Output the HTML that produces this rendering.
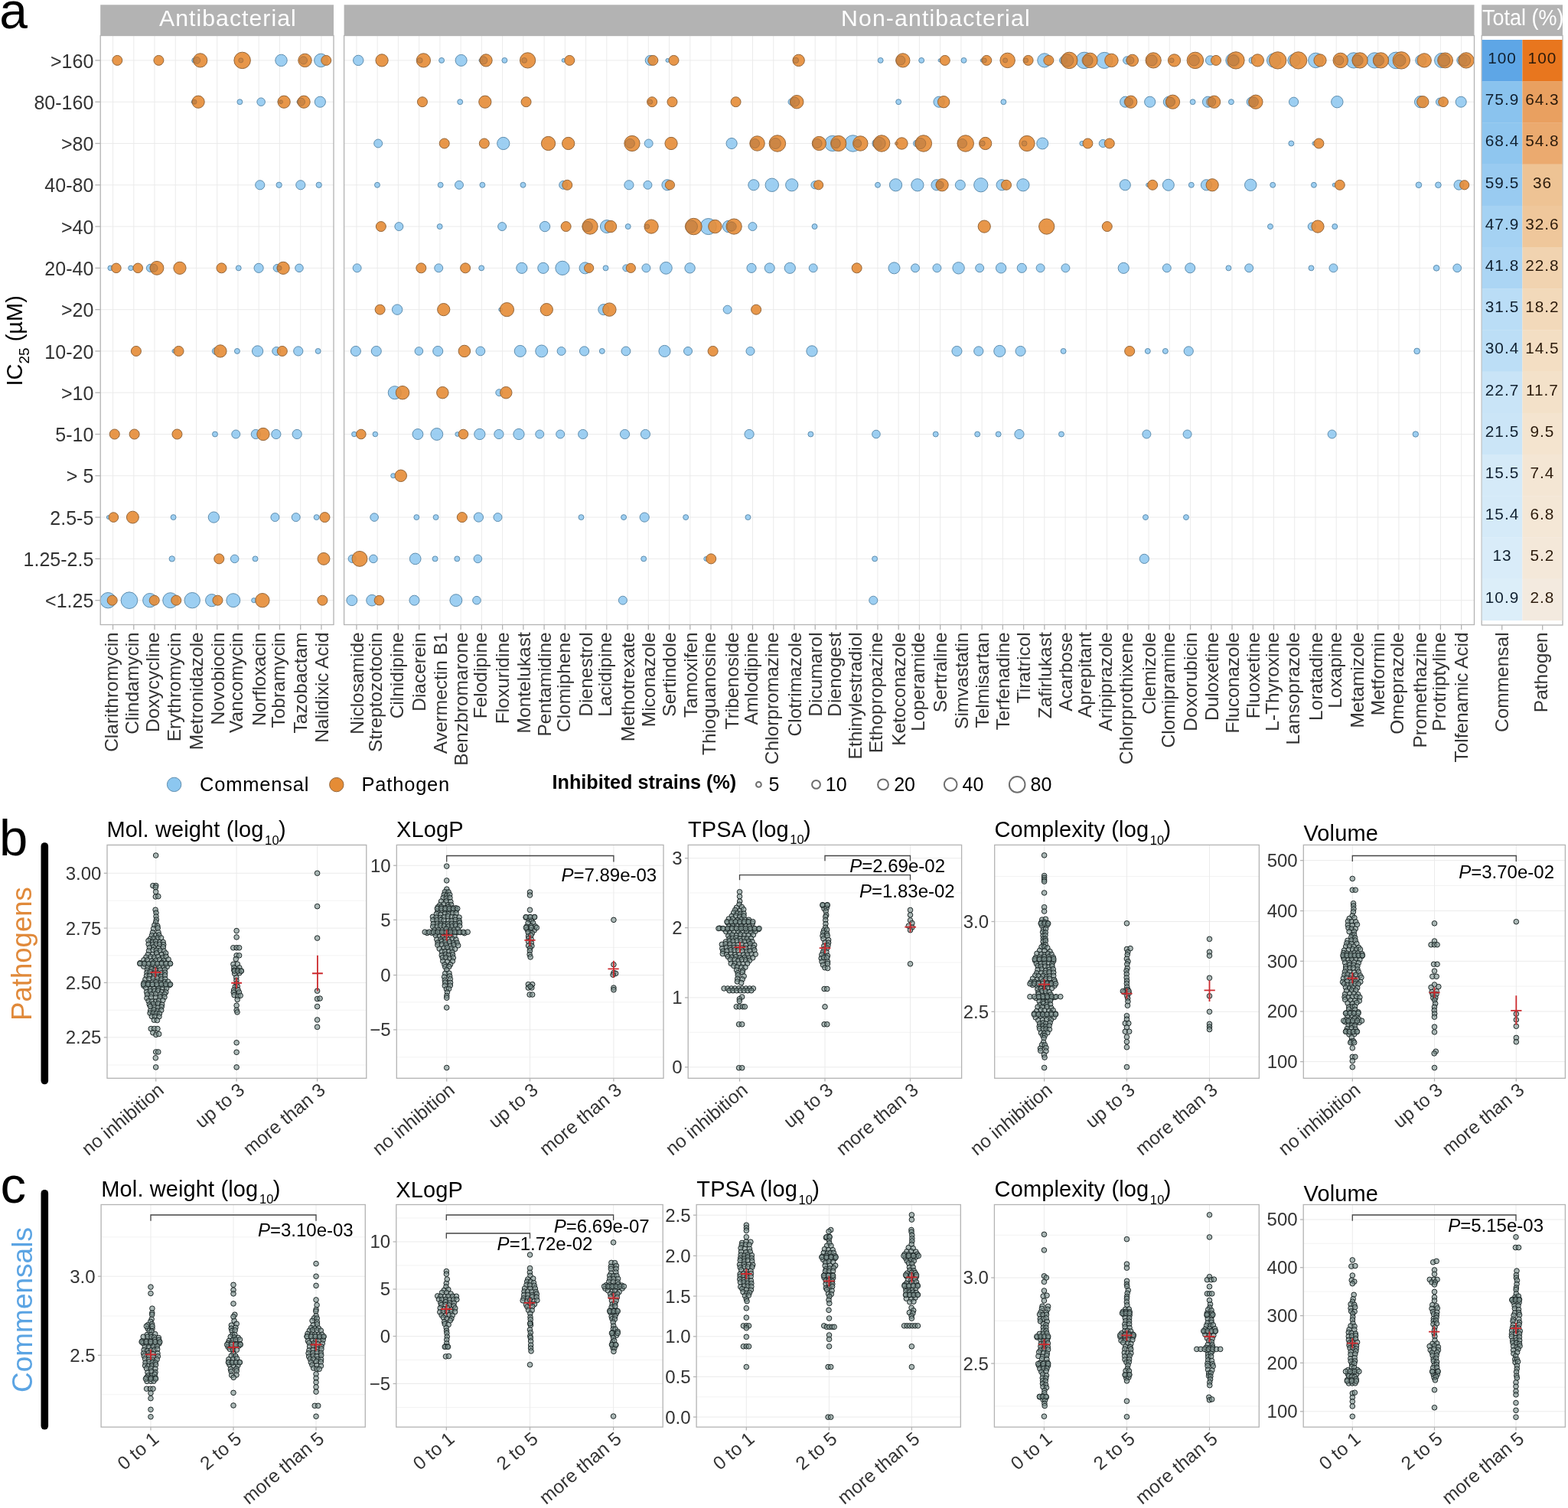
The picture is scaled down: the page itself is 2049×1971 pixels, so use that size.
<!DOCTYPE html>
<html><head><meta charset="utf-8"><title>Figure</title>
<style>html,body{margin:0;padding:0;background:#fff;}svg{display:block;}text{font-family:'Liberation Sans', Arial, Helvetica, sans-serif;}</style>
</head><body>
<svg xmlns="http://www.w3.org/2000/svg" width="2049" height="1971" viewBox="0 0 2049 1971">
<rect width="2049" height="1971" fill="#fff"/>
<rect x="131.2" y="46.5" width="304.8" height="770" fill="#fff"/>
<line x1="131.2" y1="78.9" x2="436" y2="78.9" stroke="#EAEAEA" stroke-width="0.95"/>
<line x1="131.2" y1="133.19" x2="436" y2="133.19" stroke="#EAEAEA" stroke-width="0.95"/>
<line x1="131.2" y1="187.48" x2="436" y2="187.48" stroke="#EAEAEA" stroke-width="0.95"/>
<line x1="131.2" y1="241.77" x2="436" y2="241.77" stroke="#EAEAEA" stroke-width="0.95"/>
<line x1="131.2" y1="296.06" x2="436" y2="296.06" stroke="#EAEAEA" stroke-width="0.95"/>
<line x1="131.2" y1="350.35" x2="436" y2="350.35" stroke="#EAEAEA" stroke-width="0.95"/>
<line x1="131.2" y1="404.64" x2="436" y2="404.64" stroke="#EAEAEA" stroke-width="0.95"/>
<line x1="131.2" y1="458.93" x2="436" y2="458.93" stroke="#EAEAEA" stroke-width="0.95"/>
<line x1="131.2" y1="513.22" x2="436" y2="513.22" stroke="#EAEAEA" stroke-width="0.95"/>
<line x1="131.2" y1="567.51" x2="436" y2="567.51" stroke="#EAEAEA" stroke-width="0.95"/>
<line x1="131.2" y1="621.8" x2="436" y2="621.8" stroke="#EAEAEA" stroke-width="0.95"/>
<line x1="131.2" y1="676.09" x2="436" y2="676.09" stroke="#EAEAEA" stroke-width="0.95"/>
<line x1="131.2" y1="730.38" x2="436" y2="730.38" stroke="#EAEAEA" stroke-width="0.95"/>
<line x1="131.2" y1="784.67" x2="436" y2="784.67" stroke="#EAEAEA" stroke-width="0.95"/>
<line x1="147.54" y1="46.5" x2="147.54" y2="816.5" stroke="#EAEAEA" stroke-width="0.95"/>
<line x1="174.78" y1="46.5" x2="174.78" y2="816.5" stroke="#EAEAEA" stroke-width="0.95"/>
<line x1="202.02" y1="46.5" x2="202.02" y2="816.5" stroke="#EAEAEA" stroke-width="0.95"/>
<line x1="229.26" y1="46.5" x2="229.26" y2="816.5" stroke="#EAEAEA" stroke-width="0.95"/>
<line x1="256.5" y1="46.5" x2="256.5" y2="816.5" stroke="#EAEAEA" stroke-width="0.95"/>
<line x1="283.74" y1="46.5" x2="283.74" y2="816.5" stroke="#EAEAEA" stroke-width="0.95"/>
<line x1="310.98" y1="46.5" x2="310.98" y2="816.5" stroke="#EAEAEA" stroke-width="0.95"/>
<line x1="338.22" y1="46.5" x2="338.22" y2="816.5" stroke="#EAEAEA" stroke-width="0.95"/>
<line x1="365.46" y1="46.5" x2="365.46" y2="816.5" stroke="#EAEAEA" stroke-width="0.95"/>
<line x1="392.7" y1="46.5" x2="392.7" y2="816.5" stroke="#EAEAEA" stroke-width="0.95"/>
<line x1="419.94" y1="46.5" x2="419.94" y2="816.5" stroke="#EAEAEA" stroke-width="0.95"/>
<rect x="449.6" y="46.5" width="1476.9" height="770" fill="#fff"/>
<line x1="449.6" y1="78.9" x2="1926.5" y2="78.9" stroke="#EAEAEA" stroke-width="0.95"/>
<line x1="449.6" y1="133.19" x2="1926.5" y2="133.19" stroke="#EAEAEA" stroke-width="0.95"/>
<line x1="449.6" y1="187.48" x2="1926.5" y2="187.48" stroke="#EAEAEA" stroke-width="0.95"/>
<line x1="449.6" y1="241.77" x2="1926.5" y2="241.77" stroke="#EAEAEA" stroke-width="0.95"/>
<line x1="449.6" y1="296.06" x2="1926.5" y2="296.06" stroke="#EAEAEA" stroke-width="0.95"/>
<line x1="449.6" y1="350.35" x2="1926.5" y2="350.35" stroke="#EAEAEA" stroke-width="0.95"/>
<line x1="449.6" y1="404.64" x2="1926.5" y2="404.64" stroke="#EAEAEA" stroke-width="0.95"/>
<line x1="449.6" y1="458.93" x2="1926.5" y2="458.93" stroke="#EAEAEA" stroke-width="0.95"/>
<line x1="449.6" y1="513.22" x2="1926.5" y2="513.22" stroke="#EAEAEA" stroke-width="0.95"/>
<line x1="449.6" y1="567.51" x2="1926.5" y2="567.51" stroke="#EAEAEA" stroke-width="0.95"/>
<line x1="449.6" y1="621.8" x2="1926.5" y2="621.8" stroke="#EAEAEA" stroke-width="0.95"/>
<line x1="449.6" y1="676.09" x2="1926.5" y2="676.09" stroke="#EAEAEA" stroke-width="0.95"/>
<line x1="449.6" y1="730.38" x2="1926.5" y2="730.38" stroke="#EAEAEA" stroke-width="0.95"/>
<line x1="449.6" y1="784.67" x2="1926.5" y2="784.67" stroke="#EAEAEA" stroke-width="0.95"/>
<line x1="465.94" y1="46.5" x2="465.94" y2="816.5" stroke="#EAEAEA" stroke-width="0.95"/>
<line x1="493.18" y1="46.5" x2="493.18" y2="816.5" stroke="#EAEAEA" stroke-width="0.95"/>
<line x1="520.42" y1="46.5" x2="520.42" y2="816.5" stroke="#EAEAEA" stroke-width="0.95"/>
<line x1="547.66" y1="46.5" x2="547.66" y2="816.5" stroke="#EAEAEA" stroke-width="0.95"/>
<line x1="574.9" y1="46.5" x2="574.9" y2="816.5" stroke="#EAEAEA" stroke-width="0.95"/>
<line x1="602.14" y1="46.5" x2="602.14" y2="816.5" stroke="#EAEAEA" stroke-width="0.95"/>
<line x1="629.38" y1="46.5" x2="629.38" y2="816.5" stroke="#EAEAEA" stroke-width="0.95"/>
<line x1="656.62" y1="46.5" x2="656.62" y2="816.5" stroke="#EAEAEA" stroke-width="0.95"/>
<line x1="683.86" y1="46.5" x2="683.86" y2="816.5" stroke="#EAEAEA" stroke-width="0.95"/>
<line x1="711.1" y1="46.5" x2="711.1" y2="816.5" stroke="#EAEAEA" stroke-width="0.95"/>
<line x1="738.34" y1="46.5" x2="738.34" y2="816.5" stroke="#EAEAEA" stroke-width="0.95"/>
<line x1="765.58" y1="46.5" x2="765.58" y2="816.5" stroke="#EAEAEA" stroke-width="0.95"/>
<line x1="792.82" y1="46.5" x2="792.82" y2="816.5" stroke="#EAEAEA" stroke-width="0.95"/>
<line x1="820.06" y1="46.5" x2="820.06" y2="816.5" stroke="#EAEAEA" stroke-width="0.95"/>
<line x1="847.3" y1="46.5" x2="847.3" y2="816.5" stroke="#EAEAEA" stroke-width="0.95"/>
<line x1="874.54" y1="46.5" x2="874.54" y2="816.5" stroke="#EAEAEA" stroke-width="0.95"/>
<line x1="901.78" y1="46.5" x2="901.78" y2="816.5" stroke="#EAEAEA" stroke-width="0.95"/>
<line x1="929.02" y1="46.5" x2="929.02" y2="816.5" stroke="#EAEAEA" stroke-width="0.95"/>
<line x1="956.26" y1="46.5" x2="956.26" y2="816.5" stroke="#EAEAEA" stroke-width="0.95"/>
<line x1="983.5" y1="46.5" x2="983.5" y2="816.5" stroke="#EAEAEA" stroke-width="0.95"/>
<line x1="1010.74" y1="46.5" x2="1010.74" y2="816.5" stroke="#EAEAEA" stroke-width="0.95"/>
<line x1="1037.98" y1="46.5" x2="1037.98" y2="816.5" stroke="#EAEAEA" stroke-width="0.95"/>
<line x1="1065.22" y1="46.5" x2="1065.22" y2="816.5" stroke="#EAEAEA" stroke-width="0.95"/>
<line x1="1092.46" y1="46.5" x2="1092.46" y2="816.5" stroke="#EAEAEA" stroke-width="0.95"/>
<line x1="1119.7" y1="46.5" x2="1119.7" y2="816.5" stroke="#EAEAEA" stroke-width="0.95"/>
<line x1="1146.94" y1="46.5" x2="1146.94" y2="816.5" stroke="#EAEAEA" stroke-width="0.95"/>
<line x1="1174.18" y1="46.5" x2="1174.18" y2="816.5" stroke="#EAEAEA" stroke-width="0.95"/>
<line x1="1201.42" y1="46.5" x2="1201.42" y2="816.5" stroke="#EAEAEA" stroke-width="0.95"/>
<line x1="1228.66" y1="46.5" x2="1228.66" y2="816.5" stroke="#EAEAEA" stroke-width="0.95"/>
<line x1="1255.9" y1="46.5" x2="1255.9" y2="816.5" stroke="#EAEAEA" stroke-width="0.95"/>
<line x1="1283.14" y1="46.5" x2="1283.14" y2="816.5" stroke="#EAEAEA" stroke-width="0.95"/>
<line x1="1310.38" y1="46.5" x2="1310.38" y2="816.5" stroke="#EAEAEA" stroke-width="0.95"/>
<line x1="1337.62" y1="46.5" x2="1337.62" y2="816.5" stroke="#EAEAEA" stroke-width="0.95"/>
<line x1="1364.86" y1="46.5" x2="1364.86" y2="816.5" stroke="#EAEAEA" stroke-width="0.95"/>
<line x1="1392.1" y1="46.5" x2="1392.1" y2="816.5" stroke="#EAEAEA" stroke-width="0.95"/>
<line x1="1419.34" y1="46.5" x2="1419.34" y2="816.5" stroke="#EAEAEA" stroke-width="0.95"/>
<line x1="1446.58" y1="46.5" x2="1446.58" y2="816.5" stroke="#EAEAEA" stroke-width="0.95"/>
<line x1="1473.82" y1="46.5" x2="1473.82" y2="816.5" stroke="#EAEAEA" stroke-width="0.95"/>
<line x1="1501.06" y1="46.5" x2="1501.06" y2="816.5" stroke="#EAEAEA" stroke-width="0.95"/>
<line x1="1528.3" y1="46.5" x2="1528.3" y2="816.5" stroke="#EAEAEA" stroke-width="0.95"/>
<line x1="1555.54" y1="46.5" x2="1555.54" y2="816.5" stroke="#EAEAEA" stroke-width="0.95"/>
<line x1="1582.78" y1="46.5" x2="1582.78" y2="816.5" stroke="#EAEAEA" stroke-width="0.95"/>
<line x1="1610.02" y1="46.5" x2="1610.02" y2="816.5" stroke="#EAEAEA" stroke-width="0.95"/>
<line x1="1637.26" y1="46.5" x2="1637.26" y2="816.5" stroke="#EAEAEA" stroke-width="0.95"/>
<line x1="1664.5" y1="46.5" x2="1664.5" y2="816.5" stroke="#EAEAEA" stroke-width="0.95"/>
<line x1="1691.74" y1="46.5" x2="1691.74" y2="816.5" stroke="#EAEAEA" stroke-width="0.95"/>
<line x1="1718.98" y1="46.5" x2="1718.98" y2="816.5" stroke="#EAEAEA" stroke-width="0.95"/>
<line x1="1746.22" y1="46.5" x2="1746.22" y2="816.5" stroke="#EAEAEA" stroke-width="0.95"/>
<line x1="1773.46" y1="46.5" x2="1773.46" y2="816.5" stroke="#EAEAEA" stroke-width="0.95"/>
<line x1="1800.7" y1="46.5" x2="1800.7" y2="816.5" stroke="#EAEAEA" stroke-width="0.95"/>
<line x1="1827.94" y1="46.5" x2="1827.94" y2="816.5" stroke="#EAEAEA" stroke-width="0.95"/>
<line x1="1855.18" y1="46.5" x2="1855.18" y2="816.5" stroke="#EAEAEA" stroke-width="0.95"/>
<line x1="1882.42" y1="46.5" x2="1882.42" y2="816.5" stroke="#EAEAEA" stroke-width="0.95"/>
<line x1="1909.66" y1="46.5" x2="1909.66" y2="816.5" stroke="#EAEAEA" stroke-width="0.95"/>
<g stroke-width="1">
<circle cx="1824.28" cy="78.9" r="10.82" fill="#8CC7F0" fill-opacity="0.85" stroke="#5E8DAE"/>
<circle cx="168.92" cy="784.67" r="10.8" fill="#8CC7F0" fill-opacity="0.85" stroke="#5E8DAE"/>
<circle cx="1114.58" cy="187.48" r="10.74" fill="#8CC7F0" fill-opacity="0.85" stroke="#5E8DAE"/>
<circle cx="1416.97" cy="78.9" r="10.74" fill="#8CC7F0" fill-opacity="0.85" stroke="#5E8DAE"/>
<circle cx="925.69" cy="296.06" r="10.54" fill="#8CC7F0" fill-opacity="0.85" stroke="#5E8DAE"/>
<circle cx="1443.31" cy="78.9" r="10.54" fill="#8CC7F0" fill-opacity="0.85" stroke="#5E8DAE"/>
<circle cx="141.21" cy="784.67" r="10.19" fill="#8CC7F0" fill-opacity="0.85" stroke="#5E8DAE"/>
<circle cx="251.23" cy="784.67" r="10.19" fill="#8CC7F0" fill-opacity="0.85" stroke="#5E8DAE"/>
<circle cx="1087.83" cy="187.48" r="10.13" fill="#8CC7F0" fill-opacity="0.85" stroke="#5E8DAE"/>
<circle cx="1769.01" cy="78.9" r="10.13" fill="#8CC7F0" fill-opacity="0.85" stroke="#5E8DAE"/>
<circle cx="1796.37" cy="78.9" r="10.13" fill="#8CC7F0" fill-opacity="0.85" stroke="#5E8DAE"/>
<circle cx="222.71" cy="784.67" r="9.98" fill="#8CC7F0" fill-opacity="0.85" stroke="#5E8DAE"/>
<circle cx="1719.35" cy="78.9" r="9.73" fill="#8CC7F0" fill-opacity="0.85" stroke="#5E8DAE"/>
<circle cx="1884.11" cy="78.9" r="9.55" fill="#8CC7F0" fill-opacity="0.85" stroke="#5E8DAE"/>
<circle cx="195.81" cy="784.67" r="9.17" fill="#8CC7F0" fill-opacity="0.85" stroke="#5E8DAE"/>
<circle cx="734.97" cy="350.35" r="9.12" fill="#8CC7F0" fill-opacity="0.85" stroke="#5E8DAE"/>
<circle cx="1364.88" cy="78.9" r="9.12" fill="#8CC7F0" fill-opacity="0.85" stroke="#5E8DAE"/>
<circle cx="1281.78" cy="241.77" r="9.12" fill="#8CC7F0" fill-opacity="0.85" stroke="#5E8DAE"/>
<circle cx="1610.92" cy="78.9" r="9.12" fill="#8CC7F0" fill-opacity="0.85" stroke="#5E8DAE"/>
<circle cx="1664.63" cy="78.9" r="9.12" fill="#8CC7F0" fill-opacity="0.85" stroke="#5E8DAE"/>
<circle cx="304.82" cy="784.67" r="8.96" fill="#8CC7F0" fill-opacity="0.85" stroke="#5E8DAE"/>
<circle cx="1008.78" cy="241.77" r="8.72" fill="#8CC7F0" fill-opacity="0.85" stroke="#5E8DAE"/>
<circle cx="419.36" cy="78.9" r="8.71" fill="#8CC7F0" fill-opacity="0.85" stroke="#5E8DAE"/>
<circle cx="515.82" cy="513.22" r="8.56" fill="#8CC7F0" fill-opacity="0.85" stroke="#5E8DAE"/>
<circle cx="792.94" cy="296.06" r="8.51" fill="#8CC7F0" fill-opacity="0.85" stroke="#5E8DAE"/>
<circle cx="276.7" cy="784.67" r="8.15" fill="#8CC7F0" fill-opacity="0.85" stroke="#5E8DAE"/>
<circle cx="657.76" cy="187.48" r="8.11" fill="#8CC7F0" fill-opacity="0.85" stroke="#5E8DAE"/>
<circle cx="1034.72" cy="241.77" r="8.11" fill="#8CC7F0" fill-opacity="0.85" stroke="#5E8DAE"/>
<circle cx="1170.52" cy="241.77" r="8.11" fill="#8CC7F0" fill-opacity="0.85" stroke="#5E8DAE"/>
<circle cx="1198.89" cy="241.77" r="8.11" fill="#8CC7F0" fill-opacity="0.85" stroke="#5E8DAE"/>
<circle cx="1336.91" cy="241.77" r="8.11" fill="#8CC7F0" fill-opacity="0.85" stroke="#5E8DAE"/>
<circle cx="1690.98" cy="78.9" r="8.11" fill="#8CC7F0" fill-opacity="0.85" stroke="#5E8DAE"/>
<circle cx="707.71" cy="458.93" r="7.94" fill="#8CC7F0" fill-opacity="0.85" stroke="#5E8DAE"/>
<circle cx="570.82" cy="567.51" r="7.94" fill="#8CC7F0" fill-opacity="0.85" stroke="#5E8DAE"/>
<circle cx="595.87" cy="784.67" r="7.94" fill="#8CC7F0" fill-opacity="0.85" stroke="#5E8DAE"/>
<circle cx="870.36" cy="350.35" r="7.9" fill="#8CC7F0" fill-opacity="0.85" stroke="#5E8DAE"/>
<circle cx="952.04" cy="296.06" r="7.7" fill="#8CC7F0" fill-opacity="0.85" stroke="#5E8DAE"/>
<circle cx="1252.6" cy="350.35" r="7.7" fill="#8CC7F0" fill-opacity="0.85" stroke="#5E8DAE"/>
<circle cx="1747.32" cy="133.19" r="7.7" fill="#8CC7F0" fill-opacity="0.85" stroke="#5E8DAE"/>
<circle cx="1634.23" cy="241.77" r="7.7" fill="#8CC7F0" fill-opacity="0.85" stroke="#5E8DAE"/>
<circle cx="367.49" cy="78.9" r="7.7" fill="#8CC7F0" fill-opacity="0.85" stroke="#5E8DAE"/>
<circle cx="1856.1" cy="133.19" r="7.64" fill="#8CC7F0" fill-opacity="0.85" stroke="#5E8DAE"/>
<circle cx="679.8" cy="458.93" r="7.54" fill="#8CC7F0" fill-opacity="0.85" stroke="#5E8DAE"/>
<circle cx="868.47" cy="458.93" r="7.54" fill="#8CC7F0" fill-opacity="0.85" stroke="#5E8DAE"/>
<circle cx="1306.3" cy="458.93" r="7.54" fill="#8CC7F0" fill-opacity="0.85" stroke="#5E8DAE"/>
<circle cx="602.63" cy="78.9" r="7.5" fill="#8CC7F0" fill-opacity="0.85" stroke="#5E8DAE"/>
<circle cx="764.56" cy="350.35" r="7.5" fill="#8CC7F0" fill-opacity="0.85" stroke="#5E8DAE"/>
<circle cx="1168.49" cy="350.35" r="7.5" fill="#8CC7F0" fill-opacity="0.85" stroke="#5E8DAE"/>
<circle cx="1362.24" cy="187.48" r="7.5" fill="#8CC7F0" fill-opacity="0.85" stroke="#5E8DAE"/>
<circle cx="1526.82" cy="241.77" r="7.5" fill="#8CC7F0" fill-opacity="0.85" stroke="#5E8DAE"/>
<circle cx="542.71" cy="730.38" r="7.33" fill="#8CC7F0" fill-opacity="0.85" stroke="#5E8DAE"/>
<circle cx="486.07" cy="784.67" r="7.33" fill="#8CC7F0" fill-opacity="0.85" stroke="#5E8DAE"/>
<circle cx="336.6" cy="458.93" r="7.13" fill="#8CC7F0" fill-opacity="0.85" stroke="#5E8DAE"/>
<circle cx="279.35" cy="676.09" r="7.13" fill="#8CC7F0" fill-opacity="0.85" stroke="#5E8DAE"/>
<circle cx="626.84" cy="567.51" r="7.13" fill="#8CC7F0" fill-opacity="0.85" stroke="#5E8DAE"/>
<circle cx="677.97" cy="567.51" r="7.13" fill="#8CC7F0" fill-opacity="0.85" stroke="#5E8DAE"/>
<circle cx="1061" cy="458.93" r="7.13" fill="#8CC7F0" fill-opacity="0.85" stroke="#5E8DAE"/>
<circle cx="681.87" cy="350.35" r="7.09" fill="#8CC7F0" fill-opacity="0.85" stroke="#5E8DAE"/>
<circle cx="709.84" cy="350.35" r="7.09" fill="#8CC7F0" fill-opacity="0.85" stroke="#5E8DAE"/>
<circle cx="956.09" cy="187.48" r="7.09" fill="#8CC7F0" fill-opacity="0.85" stroke="#5E8DAE"/>
<circle cx="871.98" cy="241.77" r="7.09" fill="#8CC7F0" fill-opacity="0.85" stroke="#5E8DAE"/>
<circle cx="984.87" cy="241.77" r="7.09" fill="#8CC7F0" fill-opacity="0.85" stroke="#5E8DAE"/>
<circle cx="788.88" cy="404.64" r="7.09" fill="#8CC7F0" fill-opacity="0.85" stroke="#5E8DAE"/>
<circle cx="1227.06" cy="133.19" r="7.09" fill="#8CC7F0" fill-opacity="0.85" stroke="#5E8DAE"/>
<circle cx="1224.02" cy="241.77" r="7.09" fill="#8CC7F0" fill-opacity="0.85" stroke="#5E8DAE"/>
<circle cx="1032.29" cy="350.35" r="7.09" fill="#8CC7F0" fill-opacity="0.85" stroke="#5E8DAE"/>
<circle cx="1470.68" cy="133.19" r="7.09" fill="#8CC7F0" fill-opacity="0.85" stroke="#5E8DAE"/>
<circle cx="1502.7" cy="133.19" r="7.09" fill="#8CC7F0" fill-opacity="0.85" stroke="#5E8DAE"/>
<circle cx="1527.42" cy="133.19" r="7.09" fill="#8CC7F0" fill-opacity="0.85" stroke="#5E8DAE"/>
<circle cx="1309.14" cy="241.77" r="7.09" fill="#8CC7F0" fill-opacity="0.85" stroke="#5E8DAE"/>
<circle cx="1470.27" cy="241.77" r="7.09" fill="#8CC7F0" fill-opacity="0.85" stroke="#5E8DAE"/>
<circle cx="1468.24" cy="350.35" r="7.09" fill="#8CC7F0" fill-opacity="0.85" stroke="#5E8DAE"/>
<circle cx="1578.49" cy="133.19" r="7.09" fill="#8CC7F0" fill-opacity="0.85" stroke="#5E8DAE"/>
<circle cx="1576.47" cy="241.77" r="7.09" fill="#8CC7F0" fill-opacity="0.85" stroke="#5E8DAE"/>
<circle cx="418.35" cy="133.19" r="7.09" fill="#8CC7F0" fill-opacity="0.85" stroke="#5E8DAE"/>
<circle cx="1856.74" cy="78.9" r="7" fill="#8CC7F0" fill-opacity="0.85" stroke="#5E8DAE"/>
<circle cx="1909.19" cy="133.19" r="7" fill="#8CC7F0" fill-opacity="0.85" stroke="#5E8DAE"/>
<circle cx="545.96" cy="567.51" r="6.93" fill="#8CC7F0" fill-opacity="0.85" stroke="#5E8DAE"/>
<circle cx="459.8" cy="784.67" r="6.93" fill="#8CC7F0" fill-opacity="0.85" stroke="#5E8DAE"/>
<circle cx="468.25" cy="78.9" r="6.69" fill="#8CC7F0" fill-opacity="0.85" stroke="#5E8DAE"/>
<circle cx="712.07" cy="296.06" r="6.69" fill="#8CC7F0" fill-opacity="0.85" stroke="#5E8DAE"/>
<circle cx="519.13" cy="404.64" r="6.69" fill="#8CC7F0" fill-opacity="0.85" stroke="#5E8DAE"/>
<circle cx="901.57" cy="350.35" r="6.69" fill="#8CC7F0" fill-opacity="0.85" stroke="#5E8DAE"/>
<circle cx="1308.13" cy="350.35" r="6.69" fill="#8CC7F0" fill-opacity="0.85" stroke="#5E8DAE"/>
<circle cx="464.89" cy="458.93" r="6.52" fill="#8CC7F0" fill-opacity="0.85" stroke="#5E8DAE"/>
<circle cx="491.78" cy="458.93" r="6.52" fill="#8CC7F0" fill-opacity="0.85" stroke="#5E8DAE"/>
<circle cx="572.24" cy="458.93" r="6.52" fill="#8CC7F0" fill-opacity="0.85" stroke="#5E8DAE"/>
<circle cx="541.48" cy="784.67" r="6.52" fill="#8CC7F0" fill-opacity="0.85" stroke="#5E8DAE"/>
<circle cx="1250.45" cy="458.93" r="6.52" fill="#8CC7F0" fill-opacity="0.85" stroke="#5E8DAE"/>
<circle cx="1333.59" cy="458.93" r="6.52" fill="#8CC7F0" fill-opacity="0.85" stroke="#5E8DAE"/>
<circle cx="849.69" cy="78.9" r="6.49" fill="#8CC7F0" fill-opacity="0.85" stroke="#5E8DAE"/>
<circle cx="1254.83" cy="241.77" r="6.49" fill="#8CC7F0" fill-opacity="0.85" stroke="#5E8DAE"/>
<circle cx="1005.74" cy="350.35" r="6.49" fill="#8CC7F0" fill-opacity="0.85" stroke="#5E8DAE"/>
<circle cx="1555.19" cy="350.35" r="6.49" fill="#8CC7F0" fill-opacity="0.85" stroke="#5E8DAE"/>
<circle cx="1910.2" cy="78.9" r="6.36" fill="#8CC7F0" fill-opacity="0.85" stroke="#5E8DAE"/>
<circle cx="1906.38" cy="241.77" r="6.36" fill="#8CC7F0" fill-opacity="0.85" stroke="#5E8DAE"/>
<circle cx="389.78" cy="458.93" r="6.11" fill="#8CC7F0" fill-opacity="0.85" stroke="#5E8DAE"/>
<circle cx="334.36" cy="567.51" r="6.11" fill="#8CC7F0" fill-opacity="0.85" stroke="#5E8DAE"/>
<circle cx="360.85" cy="567.51" r="6.11" fill="#8CC7F0" fill-opacity="0.85" stroke="#5E8DAE"/>
<circle cx="388.15" cy="567.51" r="6.11" fill="#8CC7F0" fill-opacity="0.85" stroke="#5E8DAE"/>
<circle cx="651.89" cy="567.51" r="6.11" fill="#8CC7F0" fill-opacity="0.85" stroke="#5E8DAE"/>
<circle cx="625.41" cy="676.09" r="6.11" fill="#8CC7F0" fill-opacity="0.85" stroke="#5E8DAE"/>
<circle cx="763.56" cy="458.93" r="6.11" fill="#8CC7F0" fill-opacity="0.85" stroke="#5E8DAE"/>
<circle cx="761.72" cy="567.51" r="6.11" fill="#8CC7F0" fill-opacity="0.85" stroke="#5E8DAE"/>
<circle cx="816.52" cy="567.51" r="6.11" fill="#8CC7F0" fill-opacity="0.85" stroke="#5E8DAE"/>
<circle cx="843.41" cy="567.51" r="6.11" fill="#8CC7F0" fill-opacity="0.85" stroke="#5E8DAE"/>
<circle cx="979.08" cy="567.51" r="6.11" fill="#8CC7F0" fill-opacity="0.85" stroke="#5E8DAE"/>
<circle cx="842.19" cy="676.09" r="6.11" fill="#8CC7F0" fill-opacity="0.85" stroke="#5E8DAE"/>
<circle cx="1278.8" cy="458.93" r="6.11" fill="#8CC7F0" fill-opacity="0.85" stroke="#5E8DAE"/>
<circle cx="1331.96" cy="567.51" r="6.11" fill="#8CC7F0" fill-opacity="0.85" stroke="#5E8DAE"/>
<circle cx="1495.34" cy="730.38" r="6.11" fill="#8CC7F0" fill-opacity="0.85" stroke="#5E8DAE"/>
<circle cx="1553.22" cy="458.93" r="6.11" fill="#8CC7F0" fill-opacity="0.85" stroke="#5E8DAE"/>
<circle cx="821.92" cy="241.77" r="6.08" fill="#8CC7F0" fill-opacity="0.85" stroke="#5E8DAE"/>
<circle cx="982.03" cy="350.35" r="6.08" fill="#8CC7F0" fill-opacity="0.85" stroke="#5E8DAE"/>
<circle cx="1145.99" cy="187.48" r="6.08" fill="#8CC7F0" fill-opacity="0.85" stroke="#5E8DAE"/>
<circle cx="1335.29" cy="350.35" r="6.08" fill="#8CC7F0" fill-opacity="0.85" stroke="#5E8DAE"/>
<circle cx="1581.54" cy="78.9" r="6.08" fill="#8CC7F0" fill-opacity="0.85" stroke="#5E8DAE"/>
<circle cx="1635.24" cy="133.19" r="6.08" fill="#8CC7F0" fill-opacity="0.85" stroke="#5E8DAE"/>
<circle cx="1690.57" cy="133.19" r="6.08" fill="#8CC7F0" fill-opacity="0.85" stroke="#5E8DAE"/>
<circle cx="339.73" cy="241.77" r="6.08" fill="#8CC7F0" fill-opacity="0.85" stroke="#5E8DAE"/>
<circle cx="392.82" cy="241.77" r="6.08" fill="#8CC7F0" fill-opacity="0.85" stroke="#5E8DAE"/>
<circle cx="338.11" cy="350.35" r="6.08" fill="#8CC7F0" fill-opacity="0.85" stroke="#5E8DAE"/>
<circle cx="627.86" cy="458.93" r="5.91" fill="#8CC7F0" fill-opacity="0.85" stroke="#5E8DAE"/>
<circle cx="817.95" cy="458.93" r="5.91" fill="#8CC7F0" fill-opacity="0.85" stroke="#5E8DAE"/>
<circle cx="361.26" cy="458.93" r="5.5" fill="#8CC7F0" fill-opacity="0.85" stroke="#5E8DAE"/>
<circle cx="308.28" cy="567.51" r="5.5" fill="#8CC7F0" fill-opacity="0.85" stroke="#5E8DAE"/>
<circle cx="359.42" cy="676.09" r="5.5" fill="#8CC7F0" fill-opacity="0.85" stroke="#5E8DAE"/>
<circle cx="386.72" cy="676.09" r="5.5" fill="#8CC7F0" fill-opacity="0.85" stroke="#5E8DAE"/>
<circle cx="705.26" cy="567.51" r="5.5" fill="#8CC7F0" fill-opacity="0.85" stroke="#5E8DAE"/>
<circle cx="650.47" cy="676.09" r="5.5" fill="#8CC7F0" fill-opacity="0.85" stroke="#5E8DAE"/>
<circle cx="733.61" cy="458.93" r="5.5" fill="#8CC7F0" fill-opacity="0.85" stroke="#5E8DAE"/>
<circle cx="899.02" cy="458.93" r="5.5" fill="#8CC7F0" fill-opacity="0.85" stroke="#5E8DAE"/>
<circle cx="980.5" cy="458.93" r="5.5" fill="#8CC7F0" fill-opacity="0.85" stroke="#5E8DAE"/>
<circle cx="732.19" cy="567.51" r="5.5" fill="#8CC7F0" fill-opacity="0.85" stroke="#5E8DAE"/>
<circle cx="813.87" cy="784.67" r="5.5" fill="#8CC7F0" fill-opacity="0.85" stroke="#5E8DAE"/>
<circle cx="1141.26" cy="784.67" r="5.5" fill="#8CC7F0" fill-opacity="0.85" stroke="#5E8DAE"/>
<circle cx="1498.39" cy="567.51" r="5.5" fill="#8CC7F0" fill-opacity="0.85" stroke="#5E8DAE"/>
<circle cx="1551.59" cy="567.51" r="5.5" fill="#8CC7F0" fill-opacity="0.85" stroke="#5E8DAE"/>
<circle cx="1740.63" cy="567.51" r="5.5" fill="#8CC7F0" fill-opacity="0.85" stroke="#5E8DAE"/>
<circle cx="494.2" cy="187.48" r="5.47" fill="#8CC7F0" fill-opacity="0.85" stroke="#5E8DAE"/>
<circle cx="599.99" cy="241.77" r="5.47" fill="#8CC7F0" fill-opacity="0.85" stroke="#5E8DAE"/>
<circle cx="521.36" cy="296.06" r="5.47" fill="#8CC7F0" fill-opacity="0.85" stroke="#5E8DAE"/>
<circle cx="656.13" cy="296.06" r="5.47" fill="#8CC7F0" fill-opacity="0.85" stroke="#5E8DAE"/>
<circle cx="466.63" cy="350.35" r="5.47" fill="#8CC7F0" fill-opacity="0.85" stroke="#5E8DAE"/>
<circle cx="573.24" cy="350.35" r="5.47" fill="#8CC7F0" fill-opacity="0.85" stroke="#5E8DAE"/>
<circle cx="847.66" cy="187.48" r="5.47" fill="#8CC7F0" fill-opacity="0.85" stroke="#5E8DAE"/>
<circle cx="736.19" cy="241.77" r="5.47" fill="#8CC7F0" fill-opacity="0.85" stroke="#5E8DAE"/>
<circle cx="846.44" cy="241.77" r="5.47" fill="#8CC7F0" fill-opacity="0.85" stroke="#5E8DAE"/>
<circle cx="983.45" cy="296.06" r="5.47" fill="#8CC7F0" fill-opacity="0.85" stroke="#5E8DAE"/>
<circle cx="844.42" cy="350.35" r="5.47" fill="#8CC7F0" fill-opacity="0.85" stroke="#5E8DAE"/>
<circle cx="950.62" cy="404.64" r="5.47" fill="#8CC7F0" fill-opacity="0.85" stroke="#5E8DAE"/>
<circle cx="1062.69" cy="350.35" r="5.47" fill="#8CC7F0" fill-opacity="0.85" stroke="#5E8DAE"/>
<circle cx="1196.05" cy="350.35" r="5.47" fill="#8CC7F0" fill-opacity="0.85" stroke="#5E8DAE"/>
<circle cx="1224.43" cy="350.35" r="5.47" fill="#8CC7F0" fill-opacity="0.85" stroke="#5E8DAE"/>
<circle cx="1280.16" cy="350.35" r="5.47" fill="#8CC7F0" fill-opacity="0.85" stroke="#5E8DAE"/>
<circle cx="1359.61" cy="350.35" r="5.47" fill="#8CC7F0" fill-opacity="0.85" stroke="#5E8DAE"/>
<circle cx="1392.44" cy="350.35" r="5.47" fill="#8CC7F0" fill-opacity="0.85" stroke="#5E8DAE"/>
<circle cx="1524.79" cy="350.35" r="5.47" fill="#8CC7F0" fill-opacity="0.85" stroke="#5E8DAE"/>
<circle cx="1632.2" cy="350.35" r="5.47" fill="#8CC7F0" fill-opacity="0.85" stroke="#5E8DAE"/>
<circle cx="1742.46" cy="350.35" r="5.47" fill="#8CC7F0" fill-opacity="0.85" stroke="#5E8DAE"/>
<circle cx="1904.22" cy="350.35" r="5.35" fill="#8CC7F0" fill-opacity="0.85" stroke="#5E8DAE"/>
<circle cx="306.65" cy="730.38" r="5.3" fill="#8CC7F0" fill-opacity="0.85" stroke="#5E8DAE"/>
<circle cx="547.39" cy="458.93" r="5.3" fill="#8CC7F0" fill-opacity="0.85" stroke="#5E8DAE"/>
<circle cx="489.13" cy="676.09" r="5.3" fill="#8CC7F0" fill-opacity="0.85" stroke="#5E8DAE"/>
<circle cx="487.91" cy="730.38" r="5.3" fill="#8CC7F0" fill-opacity="0.85" stroke="#5E8DAE"/>
<circle cx="624.39" cy="730.38" r="5.3" fill="#8CC7F0" fill-opacity="0.85" stroke="#5E8DAE"/>
<circle cx="622.97" cy="784.67" r="5.3" fill="#8CC7F0" fill-opacity="0.85" stroke="#5E8DAE"/>
<circle cx="1144.93" cy="567.51" r="5.3" fill="#8CC7F0" fill-opacity="0.85" stroke="#5E8DAE"/>
<circle cx="341.14" cy="133.19" r="5.27" fill="#8CC7F0" fill-opacity="0.85" stroke="#5E8DAE"/>
<circle cx="390.99" cy="350.35" r="5.27" fill="#8CC7F0" fill-opacity="0.85" stroke="#5E8DAE"/>
<circle cx="460.2" cy="730.38" r="5.09" fill="#8CC7F0" fill-opacity="0.85" stroke="#5E8DAE"/>
<circle cx="1881.56" cy="133.19" r="5.09" fill="#8CC7F0" fill-opacity="0.85" stroke="#5E8DAE"/>
<circle cx="1064.92" cy="241.77" r="5.07" fill="#8CC7F0" fill-opacity="0.85" stroke="#5E8DAE"/>
<circle cx="1389.61" cy="78.9" r="5.07" fill="#8CC7F0" fill-opacity="0.85" stroke="#5E8DAE"/>
<circle cx="1472.7" cy="78.9" r="5.07" fill="#8CC7F0" fill-opacity="0.85" stroke="#5E8DAE"/>
<circle cx="1441.29" cy="187.48" r="5.07" fill="#8CC7F0" fill-opacity="0.85" stroke="#5E8DAE"/>
<circle cx="1714.29" cy="296.06" r="5.07" fill="#8CC7F0" fill-opacity="0.85" stroke="#5E8DAE"/>
<circle cx="196.46" cy="350.35" r="5.07" fill="#8CC7F0" fill-opacity="0.85" stroke="#5E8DAE"/>
<circle cx="362.02" cy="350.35" r="4.86" fill="#8CC7F0" fill-opacity="0.85" stroke="#5E8DAE"/>
<circle cx="281.79" cy="458.93" r="4.48" fill="#8CC7F0" fill-opacity="0.85" stroke="#5E8DAE"/>
<circle cx="652.3" cy="513.22" r="4.48" fill="#8CC7F0" fill-opacity="0.85" stroke="#5E8DAE"/>
<circle cx="818.27" cy="350.35" r="4.46" fill="#8CC7F0" fill-opacity="0.85" stroke="#5E8DAE"/>
<circle cx="1034.52" cy="133.19" r="4.46" fill="#8CC7F0" fill-opacity="0.85" stroke="#5E8DAE"/>
<circle cx="1197.68" cy="187.48" r="4.05" fill="#8CC7F0" fill-opacity="0.85" stroke="#5E8DAE"/>
<circle cx="1636.26" cy="78.9" r="4.05" fill="#8CC7F0" fill-opacity="0.85" stroke="#5E8DAE"/>
<circle cx="1853.94" cy="241.77" r="3.82" fill="#8CC7F0" fill-opacity="0.85" stroke="#5E8DAE"/>
<circle cx="1879.4" cy="241.77" r="3.82" fill="#8CC7F0" fill-opacity="0.85" stroke="#5E8DAE"/>
<circle cx="1877.11" cy="350.35" r="3.82" fill="#8CC7F0" fill-opacity="0.85" stroke="#5E8DAE"/>
<circle cx="1851.65" cy="458.93" r="3.82" fill="#8CC7F0" fill-opacity="0.85" stroke="#5E8DAE"/>
<circle cx="1849.83" cy="567.51" r="3.69" fill="#8CC7F0" fill-opacity="0.85" stroke="#5E8DAE"/>
<circle cx="224.74" cy="730.38" r="3.67" fill="#8CC7F0" fill-opacity="0.85" stroke="#5E8DAE"/>
<circle cx="364.65" cy="241.77" r="3.65" fill="#8CC7F0" fill-opacity="0.85" stroke="#5E8DAE"/>
<circle cx="416.73" cy="241.77" r="3.65" fill="#8CC7F0" fill-opacity="0.85" stroke="#5E8DAE"/>
<circle cx="309.91" cy="458.93" r="3.46" fill="#8CC7F0" fill-opacity="0.85" stroke="#5E8DAE"/>
<circle cx="415.66" cy="458.93" r="3.46" fill="#8CC7F0" fill-opacity="0.85" stroke="#5E8DAE"/>
<circle cx="280.98" cy="567.51" r="3.46" fill="#8CC7F0" fill-opacity="0.85" stroke="#5E8DAE"/>
<circle cx="226.58" cy="676.09" r="3.46" fill="#8CC7F0" fill-opacity="0.85" stroke="#5E8DAE"/>
<circle cx="413.62" cy="676.09" r="3.46" fill="#8CC7F0" fill-opacity="0.85" stroke="#5E8DAE"/>
<circle cx="333.55" cy="730.38" r="3.46" fill="#8CC7F0" fill-opacity="0.85" stroke="#5E8DAE"/>
<circle cx="544.34" cy="676.09" r="3.46" fill="#8CC7F0" fill-opacity="0.85" stroke="#5E8DAE"/>
<circle cx="569.59" cy="676.09" r="3.46" fill="#8CC7F0" fill-opacity="0.85" stroke="#5E8DAE"/>
<circle cx="568.58" cy="730.38" r="3.46" fill="#8CC7F0" fill-opacity="0.85" stroke="#5E8DAE"/>
<circle cx="597.3" cy="730.38" r="3.46" fill="#8CC7F0" fill-opacity="0.85" stroke="#5E8DAE"/>
<circle cx="786.78" cy="458.93" r="3.46" fill="#8CC7F0" fill-opacity="0.85" stroke="#5E8DAE"/>
<circle cx="759.48" cy="676.09" r="3.46" fill="#8CC7F0" fill-opacity="0.85" stroke="#5E8DAE"/>
<circle cx="815.09" cy="676.09" r="3.46" fill="#8CC7F0" fill-opacity="0.85" stroke="#5E8DAE"/>
<circle cx="896.17" cy="676.09" r="3.46" fill="#8CC7F0" fill-opacity="0.85" stroke="#5E8DAE"/>
<circle cx="977.45" cy="676.09" r="3.46" fill="#8CC7F0" fill-opacity="0.85" stroke="#5E8DAE"/>
<circle cx="841.17" cy="730.38" r="3.46" fill="#8CC7F0" fill-opacity="0.85" stroke="#5E8DAE"/>
<circle cx="1059.37" cy="567.51" r="3.46" fill="#8CC7F0" fill-opacity="0.85" stroke="#5E8DAE"/>
<circle cx="1222.74" cy="567.51" r="3.46" fill="#8CC7F0" fill-opacity="0.85" stroke="#5E8DAE"/>
<circle cx="1143.1" cy="730.38" r="3.46" fill="#8CC7F0" fill-opacity="0.85" stroke="#5E8DAE"/>
<circle cx="1389.61" cy="458.93" r="3.46" fill="#8CC7F0" fill-opacity="0.85" stroke="#5E8DAE"/>
<circle cx="1499.82" cy="458.93" r="3.46" fill="#8CC7F0" fill-opacity="0.85" stroke="#5E8DAE"/>
<circle cx="1522.84" cy="458.93" r="3.46" fill="#8CC7F0" fill-opacity="0.85" stroke="#5E8DAE"/>
<circle cx="1277.17" cy="567.51" r="3.46" fill="#8CC7F0" fill-opacity="0.85" stroke="#5E8DAE"/>
<circle cx="1304.67" cy="567.51" r="3.46" fill="#8CC7F0" fill-opacity="0.85" stroke="#5E8DAE"/>
<circle cx="1386.97" cy="567.51" r="3.46" fill="#8CC7F0" fill-opacity="0.85" stroke="#5E8DAE"/>
<circle cx="1496.97" cy="676.09" r="3.46" fill="#8CC7F0" fill-opacity="0.85" stroke="#5E8DAE"/>
<circle cx="1549.96" cy="676.09" r="3.46" fill="#8CC7F0" fill-opacity="0.85" stroke="#5E8DAE"/>
<circle cx="577.09" cy="78.9" r="3.45" fill="#8CC7F0" fill-opacity="0.85" stroke="#5E8DAE"/>
<circle cx="659.38" cy="78.9" r="3.45" fill="#8CC7F0" fill-opacity="0.85" stroke="#5E8DAE"/>
<circle cx="601.21" cy="133.19" r="3.45" fill="#8CC7F0" fill-opacity="0.85" stroke="#5E8DAE"/>
<circle cx="492.98" cy="241.77" r="3.45" fill="#8CC7F0" fill-opacity="0.85" stroke="#5E8DAE"/>
<circle cx="575.67" cy="241.77" r="3.45" fill="#8CC7F0" fill-opacity="0.85" stroke="#5E8DAE"/>
<circle cx="630.39" cy="241.77" r="3.45" fill="#8CC7F0" fill-opacity="0.85" stroke="#5E8DAE"/>
<circle cx="683.5" cy="241.77" r="3.45" fill="#8CC7F0" fill-opacity="0.85" stroke="#5E8DAE"/>
<circle cx="574.66" cy="296.06" r="3.45" fill="#8CC7F0" fill-opacity="0.85" stroke="#5E8DAE"/>
<circle cx="629.18" cy="350.35" r="3.45" fill="#8CC7F0" fill-opacity="0.85" stroke="#5E8DAE"/>
<circle cx="820.7" cy="296.06" r="3.45" fill="#8CC7F0" fill-opacity="0.85" stroke="#5E8DAE"/>
<circle cx="791.52" cy="350.35" r="3.45" fill="#8CC7F0" fill-opacity="0.85" stroke="#5E8DAE"/>
<circle cx="1150.65" cy="78.9" r="3.45" fill="#8CC7F0" fill-opacity="0.85" stroke="#5E8DAE"/>
<circle cx="1204.16" cy="78.9" r="3.45" fill="#8CC7F0" fill-opacity="0.85" stroke="#5E8DAE"/>
<circle cx="1259.49" cy="78.9" r="3.45" fill="#8CC7F0" fill-opacity="0.85" stroke="#5E8DAE"/>
<circle cx="1174.16" cy="133.19" r="3.45" fill="#8CC7F0" fill-opacity="0.85" stroke="#5E8DAE"/>
<circle cx="1147.01" cy="241.77" r="3.45" fill="#8CC7F0" fill-opacity="0.85" stroke="#5E8DAE"/>
<circle cx="1064.52" cy="296.06" r="3.45" fill="#8CC7F0" fill-opacity="0.85" stroke="#5E8DAE"/>
<circle cx="1311.37" cy="133.19" r="3.45" fill="#8CC7F0" fill-opacity="0.85" stroke="#5E8DAE"/>
<circle cx="1558.63" cy="133.19" r="3.45" fill="#8CC7F0" fill-opacity="0.85" stroke="#5E8DAE"/>
<circle cx="1608.9" cy="133.19" r="3.45" fill="#8CC7F0" fill-opacity="0.85" stroke="#5E8DAE"/>
<circle cx="1687.33" cy="187.48" r="3.45" fill="#8CC7F0" fill-opacity="0.85" stroke="#5E8DAE"/>
<circle cx="1556.81" cy="241.77" r="3.45" fill="#8CC7F0" fill-opacity="0.85" stroke="#5E8DAE"/>
<circle cx="1663.21" cy="241.77" r="3.45" fill="#8CC7F0" fill-opacity="0.85" stroke="#5E8DAE"/>
<circle cx="1716.92" cy="241.77" r="3.45" fill="#8CC7F0" fill-opacity="0.85" stroke="#5E8DAE"/>
<circle cx="1659.97" cy="296.06" r="3.45" fill="#8CC7F0" fill-opacity="0.85" stroke="#5E8DAE"/>
<circle cx="1744.28" cy="296.06" r="3.45" fill="#8CC7F0" fill-opacity="0.85" stroke="#5E8DAE"/>
<circle cx="1605.45" cy="350.35" r="3.45" fill="#8CC7F0" fill-opacity="0.85" stroke="#5E8DAE"/>
<circle cx="1713.48" cy="350.35" r="3.45" fill="#8CC7F0" fill-opacity="0.85" stroke="#5E8DAE"/>
<circle cx="313.38" cy="133.19" r="3.44" fill="#8CC7F0" fill-opacity="0.85" stroke="#5E8DAE"/>
<circle cx="311.76" cy="350.35" r="3.44" fill="#8CC7F0" fill-opacity="0.85" stroke="#5E8DAE"/>
<circle cx="462.85" cy="567.51" r="3.26" fill="#8CC7F0" fill-opacity="0.85" stroke="#5E8DAE"/>
<circle cx="490.35" cy="567.51" r="3.26" fill="#8CC7F0" fill-opacity="0.85" stroke="#5E8DAE"/>
<circle cx="254.01" cy="78.9" r="3.24" fill="#8CC7F0" fill-opacity="0.85" stroke="#5E8DAE"/>
<circle cx="144.18" cy="350.35" r="3.24" fill="#8CC7F0" fill-opacity="0.85" stroke="#5E8DAE"/>
<circle cx="170.93" cy="350.35" r="3.24" fill="#8CC7F0" fill-opacity="0.85" stroke="#5E8DAE"/>
<circle cx="331.71" cy="784.67" r="3.06" fill="#8CC7F0" fill-opacity="0.85" stroke="#5E8DAE"/>
<circle cx="513.78" cy="621.8" r="3.06" fill="#8CC7F0" fill-opacity="0.85" stroke="#5E8DAE"/>
<circle cx="1413.93" cy="187.48" r="3.04" fill="#8CC7F0" fill-opacity="0.85" stroke="#5E8DAE"/>
<circle cx="597.71" cy="567.51" r="2.85" fill="#8CC7F0" fill-opacity="0.85" stroke="#5E8DAE"/>
<circle cx="922.65" cy="730.38" r="2.85" fill="#8CC7F0" fill-opacity="0.85" stroke="#5E8DAE"/>
<circle cx="227.39" cy="458.93" r="2.44" fill="#8CC7F0" fill-opacity="0.85" stroke="#5E8DAE"/>
<circle cx="141.82" cy="676.09" r="2.44" fill="#8CC7F0" fill-opacity="0.85" stroke="#5E8DAE"/>
<circle cx="628.37" cy="78.9" r="2.43" fill="#8CC7F0" fill-opacity="0.85" stroke="#5E8DAE"/>
<circle cx="654.11" cy="404.64" r="2.43" fill="#8CC7F0" fill-opacity="0.85" stroke="#5E8DAE"/>
<circle cx="736.59" cy="78.9" r="2.43" fill="#8CC7F0" fill-opacity="0.85" stroke="#5E8DAE"/>
<circle cx="872.39" cy="78.9" r="2.43" fill="#8CC7F0" fill-opacity="0.85" stroke="#5E8DAE"/>
<circle cx="1500.06" cy="241.77" r="2.43" fill="#8CC7F0" fill-opacity="0.85" stroke="#5E8DAE"/>
<circle cx="1717.33" cy="187.48" r="2.43" fill="#8CC7F0" fill-opacity="0.85" stroke="#5E8DAE"/>
<circle cx="1743.68" cy="241.77" r="2.43" fill="#8CC7F0" fill-opacity="0.85" stroke="#5E8DAE"/>
<circle cx="252.59" cy="133.19" r="2.43" fill="#8CC7F0" fill-opacity="0.85" stroke="#5E8DAE"/>
<circle cx="390.39" cy="133.19" r="2.43" fill="#8CC7F0" fill-opacity="0.85" stroke="#5E8DAE"/>
<circle cx="1228.08" cy="78.9" r="2.03" fill="#8CC7F0" fill-opacity="0.85" stroke="#5E8DAE"/>
<circle cx="1283.2" cy="78.9" r="2.03" fill="#8CC7F0" fill-opacity="0.85" stroke="#5E8DAE"/>
<circle cx="365.06" cy="133.19" r="2.03" fill="#8CC7F0" fill-opacity="0.85" stroke="#5E8DAE"/>
<circle cx="1831.28" cy="78.9" r="11.2" fill="#E58C36" fill-opacity="0.9" stroke="#94663A"/>
<circle cx="1614.98" cy="78.9" r="11.15" fill="#E58C36" fill-opacity="0.9" stroke="#94663A"/>
<circle cx="1669.7" cy="78.9" r="11.15" fill="#E58C36" fill-opacity="0.9" stroke="#94663A"/>
<circle cx="1696.65" cy="78.9" r="11.15" fill="#E58C36" fill-opacity="0.9" stroke="#94663A"/>
<circle cx="906.43" cy="296.06" r="10.74" fill="#E58C36" fill-opacity="0.9" stroke="#94663A"/>
<circle cx="1015.88" cy="187.48" r="10.74" fill="#E58C36" fill-opacity="0.9" stroke="#94663A"/>
<circle cx="1152.07" cy="187.48" r="10.74" fill="#E58C36" fill-opacity="0.9" stroke="#94663A"/>
<circle cx="1206.8" cy="187.48" r="10.74" fill="#E58C36" fill-opacity="0.9" stroke="#94663A"/>
<circle cx="1261.72" cy="187.48" r="10.74" fill="#E58C36" fill-opacity="0.9" stroke="#94663A"/>
<circle cx="1397.31" cy="78.9" r="10.74" fill="#E58C36" fill-opacity="0.9" stroke="#94663A"/>
<circle cx="1561.88" cy="78.9" r="10.74" fill="#E58C36" fill-opacity="0.9" stroke="#94663A"/>
<circle cx="316.63" cy="78.9" r="10.74" fill="#E58C36" fill-opacity="0.9" stroke="#94663A"/>
<circle cx="1915.93" cy="78.9" r="10.18" fill="#E58C36" fill-opacity="0.9" stroke="#94663A"/>
<circle cx="689.58" cy="78.9" r="10.13" fill="#E58C36" fill-opacity="0.9" stroke="#94663A"/>
<circle cx="825.97" cy="187.48" r="10.13" fill="#E58C36" fill-opacity="0.9" stroke="#94663A"/>
<circle cx="771.05" cy="296.06" r="10.13" fill="#E58C36" fill-opacity="0.9" stroke="#94663A"/>
<circle cx="959.13" cy="296.06" r="10.13" fill="#E58C36" fill-opacity="0.9" stroke="#94663A"/>
<circle cx="1095.73" cy="187.48" r="10.13" fill="#E58C36" fill-opacity="0.9" stroke="#94663A"/>
<circle cx="1507.16" cy="78.9" r="10.13" fill="#E58C36" fill-opacity="0.9" stroke="#94663A"/>
<circle cx="1341.98" cy="187.48" r="10.13" fill="#E58C36" fill-opacity="0.9" stroke="#94663A"/>
<circle cx="1367.72" cy="296.06" r="10.13" fill="#E58C36" fill-opacity="0.9" stroke="#94663A"/>
<circle cx="1777.12" cy="78.9" r="10.13" fill="#E58C36" fill-opacity="0.9" stroke="#94663A"/>
<circle cx="1804.48" cy="78.9" r="10.13" fill="#E58C36" fill-opacity="0.9" stroke="#94663A"/>
<circle cx="469.98" cy="730.38" r="9.98" fill="#E58C36" fill-opacity="0.9" stroke="#94663A"/>
<circle cx="1888.56" cy="78.9" r="9.93" fill="#E58C36" fill-opacity="0.9" stroke="#94663A"/>
<circle cx="989.53" cy="187.48" r="9.73" fill="#E58C36" fill-opacity="0.9" stroke="#94663A"/>
<circle cx="1124.31" cy="187.48" r="9.73" fill="#E58C36" fill-opacity="0.9" stroke="#94663A"/>
<circle cx="1316.64" cy="78.9" r="9.73" fill="#E58C36" fill-opacity="0.9" stroke="#94663A"/>
<circle cx="1424.47" cy="78.9" r="9.73" fill="#E58C36" fill-opacity="0.9" stroke="#94663A"/>
<circle cx="1751.78" cy="78.9" r="9.73" fill="#E58C36" fill-opacity="0.9" stroke="#94663A"/>
<circle cx="342.92" cy="784.67" r="9.17" fill="#E58C36" fill-opacity="0.9" stroke="#94663A"/>
<circle cx="1861.2" cy="78.9" r="9.16" fill="#E58C36" fill-opacity="0.9" stroke="#94663A"/>
<circle cx="553.38" cy="78.9" r="9.12" fill="#E58C36" fill-opacity="0.9" stroke="#94663A"/>
<circle cx="716.53" cy="187.48" r="9.12" fill="#E58C36" fill-opacity="0.9" stroke="#94663A"/>
<circle cx="662.42" cy="404.64" r="9.12" fill="#E58C36" fill-opacity="0.9" stroke="#94663A"/>
<circle cx="851.1" cy="296.06" r="9.12" fill="#E58C36" fill-opacity="0.9" stroke="#94663A"/>
<circle cx="1179.84" cy="78.9" r="9.12" fill="#E58C36" fill-opacity="0.9" stroke="#94663A"/>
<circle cx="1070.4" cy="187.48" r="9.12" fill="#E58C36" fill-opacity="0.9" stroke="#94663A"/>
<circle cx="1532.49" cy="133.19" r="9.12" fill="#E58C36" fill-opacity="0.9" stroke="#94663A"/>
<circle cx="1640.92" cy="133.19" r="9.12" fill="#E58C36" fill-opacity="0.9" stroke="#94663A"/>
<circle cx="261.71" cy="78.9" r="9.12" fill="#E58C36" fill-opacity="0.9" stroke="#94663A"/>
<circle cx="204.97" cy="350.35" r="8.92" fill="#E58C36" fill-opacity="0.9" stroke="#94663A"/>
<circle cx="526" cy="513.22" r="8.76" fill="#E58C36" fill-opacity="0.9" stroke="#94663A"/>
<circle cx="934.4" cy="296.06" r="8.72" fill="#E58C36" fill-opacity="0.9" stroke="#94663A"/>
<circle cx="796.38" cy="404.64" r="8.72" fill="#E58C36" fill-opacity="0.9" stroke="#94663A"/>
<circle cx="1041.21" cy="133.19" r="8.72" fill="#E58C36" fill-opacity="0.9" stroke="#94663A"/>
<circle cx="1452.43" cy="78.9" r="8.72" fill="#E58C36" fill-opacity="0.9" stroke="#94663A"/>
<circle cx="398.49" cy="78.9" r="8.71" fill="#E58C36" fill-opacity="0.9" stroke="#94663A"/>
<circle cx="287.91" cy="458.93" r="8.15" fill="#E58C36" fill-opacity="0.9" stroke="#94663A"/>
<circle cx="343.94" cy="567.51" r="8.15" fill="#E58C36" fill-opacity="0.9" stroke="#94663A"/>
<circle cx="499.06" cy="78.9" r="8.11" fill="#E58C36" fill-opacity="0.9" stroke="#94663A"/>
<circle cx="635.06" cy="78.9" r="8.11" fill="#E58C36" fill-opacity="0.9" stroke="#94663A"/>
<circle cx="633.84" cy="133.19" r="8.11" fill="#E58C36" fill-opacity="0.9" stroke="#94663A"/>
<circle cx="579.73" cy="404.64" r="8.11" fill="#E58C36" fill-opacity="0.9" stroke="#94663A"/>
<circle cx="714.3" cy="404.64" r="8.11" fill="#E58C36" fill-opacity="0.9" stroke="#94663A"/>
<circle cx="742.67" cy="187.48" r="8.11" fill="#E58C36" fill-opacity="0.9" stroke="#94663A"/>
<circle cx="877.05" cy="187.48" r="8.11" fill="#E58C36" fill-opacity="0.9" stroke="#94663A"/>
<circle cx="903.39" cy="296.06" r="8.11" fill="#A8703E" fill-opacity="0.42" stroke="#94663A" stroke-opacity="0.6"/>
<circle cx="1149.03" cy="187.48" r="8.11" fill="#A8703E" fill-opacity="0.42" stroke="#94663A" stroke-opacity="0.6"/>
<circle cx="1231.12" cy="241.77" r="8.11" fill="#E58C36" fill-opacity="0.9" stroke="#94663A"/>
<circle cx="1394.67" cy="78.9" r="8.11" fill="#A8703E" fill-opacity="0.42" stroke="#94663A" stroke-opacity="0.6"/>
<circle cx="1534.52" cy="78.9" r="8.11" fill="#E58C36" fill-opacity="0.9" stroke="#94663A"/>
<circle cx="1477.77" cy="133.19" r="8.11" fill="#E58C36" fill-opacity="0.9" stroke="#94663A"/>
<circle cx="1287.66" cy="187.48" r="8.11" fill="#E58C36" fill-opacity="0.9" stroke="#94663A"/>
<circle cx="1286.24" cy="296.06" r="8.11" fill="#E58C36" fill-opacity="0.9" stroke="#94663A"/>
<circle cx="1643.35" cy="78.9" r="8.11" fill="#E58C36" fill-opacity="0.9" stroke="#94663A"/>
<circle cx="1725.03" cy="78.9" r="8.11" fill="#E58C36" fill-opacity="0.9" stroke="#94663A"/>
<circle cx="1586.6" cy="133.19" r="8.11" fill="#E58C36" fill-opacity="0.9" stroke="#94663A"/>
<circle cx="1584.17" cy="241.77" r="8.11" fill="#E58C36" fill-opacity="0.9" stroke="#94663A"/>
<circle cx="1721.99" cy="296.06" r="8.11" fill="#E58C36" fill-opacity="0.9" stroke="#94663A"/>
<circle cx="259.08" cy="133.19" r="8.11" fill="#E58C36" fill-opacity="0.9" stroke="#94663A"/>
<circle cx="371.13" cy="133.19" r="8.11" fill="#E58C36" fill-opacity="0.9" stroke="#94663A"/>
<circle cx="397.07" cy="133.19" r="8.11" fill="#E58C36" fill-opacity="0.9" stroke="#94663A"/>
<circle cx="234.96" cy="350.35" r="8.11" fill="#E58C36" fill-opacity="0.9" stroke="#94663A"/>
<circle cx="370.12" cy="350.35" r="8.11" fill="#E58C36" fill-opacity="0.9" stroke="#94663A"/>
<circle cx="173.4" cy="676.09" r="7.95" fill="#E58C36" fill-opacity="0.9" stroke="#94663A"/>
<circle cx="422.99" cy="730.38" r="7.95" fill="#E58C36" fill-opacity="0.9" stroke="#94663A"/>
<circle cx="606.87" cy="458.93" r="7.74" fill="#E58C36" fill-opacity="0.9" stroke="#94663A"/>
<circle cx="578.35" cy="513.22" r="7.74" fill="#E58C36" fill-opacity="0.9" stroke="#94663A"/>
<circle cx="661.26" cy="513.22" r="7.74" fill="#E58C36" fill-opacity="0.9" stroke="#94663A"/>
<circle cx="523.76" cy="621.8" r="7.74" fill="#E58C36" fill-opacity="0.9" stroke="#94663A"/>
<circle cx="798" cy="296.06" r="7.7" fill="#E58C36" fill-opacity="0.9" stroke="#94663A"/>
<circle cx="1043.64" cy="78.9" r="7.7" fill="#E58C36" fill-opacity="0.9" stroke="#94663A"/>
<circle cx="1233.14" cy="133.19" r="7.7" fill="#E58C36" fill-opacity="0.9" stroke="#94663A"/>
<circle cx="1178.42" cy="187.48" r="7.7" fill="#E58C36" fill-opacity="0.9" stroke="#94663A"/>
<circle cx="1479.8" cy="78.9" r="7.7" fill="#E58C36" fill-opacity="0.9" stroke="#94663A"/>
<circle cx="1829.37" cy="78.9" r="7.64" fill="#A8703E" fill-opacity="0.42" stroke="#94663A" stroke-opacity="0.6"/>
<circle cx="1887.29" cy="78.9" r="7.64" fill="#A8703E" fill-opacity="0.42" stroke="#94663A" stroke-opacity="0.6"/>
<circle cx="1914.02" cy="78.9" r="7.64" fill="#A8703E" fill-opacity="0.42" stroke="#94663A" stroke-opacity="0.6"/>
<circle cx="1859.29" cy="133.19" r="7.64" fill="#E58C36" fill-opacity="0.9" stroke="#94663A"/>
<circle cx="1013.24" cy="187.48" r="7.09" fill="#A8703E" fill-opacity="0.42" stroke="#94663A" stroke-opacity="0.6"/>
<circle cx="1202.74" cy="187.48" r="7.09" fill="#A8703E" fill-opacity="0.42" stroke="#94663A" stroke-opacity="0.6"/>
<circle cx="1421.02" cy="78.9" r="7.09" fill="#A8703E" fill-opacity="0.42" stroke="#94663A" stroke-opacity="0.6"/>
<circle cx="1505.13" cy="78.9" r="7.09" fill="#A8703E" fill-opacity="0.42" stroke="#94663A" stroke-opacity="0.6"/>
<circle cx="1560.25" cy="78.9" r="7.09" fill="#A8703E" fill-opacity="0.42" stroke="#94663A" stroke-opacity="0.6"/>
<circle cx="1611.94" cy="78.9" r="7.09" fill="#A8703E" fill-opacity="0.42" stroke="#94663A" stroke-opacity="0.6"/>
<circle cx="1774.08" cy="78.9" r="7.09" fill="#A8703E" fill-opacity="0.42" stroke="#94663A" stroke-opacity="0.6"/>
<circle cx="1801.44" cy="78.9" r="7.09" fill="#A8703E" fill-opacity="0.42" stroke="#94663A" stroke-opacity="0.6"/>
<circle cx="767.6" cy="296.06" r="6.69" fill="#A8703E" fill-opacity="0.42" stroke="#94663A" stroke-opacity="0.6"/>
<circle cx="177.88" cy="458.93" r="6.52" fill="#E58C36" fill-opacity="0.9" stroke="#94663A"/>
<circle cx="233.5" cy="458.93" r="6.52" fill="#E58C36" fill-opacity="0.9" stroke="#94663A"/>
<circle cx="368.79" cy="458.93" r="6.52" fill="#E58C36" fill-opacity="0.9" stroke="#94663A"/>
<circle cx="149.76" cy="567.51" r="6.52" fill="#E58C36" fill-opacity="0.9" stroke="#94663A"/>
<circle cx="175.64" cy="567.51" r="6.52" fill="#E58C36" fill-opacity="0.9" stroke="#94663A"/>
<circle cx="231.47" cy="567.51" r="6.52" fill="#E58C36" fill-opacity="0.9" stroke="#94663A"/>
<circle cx="424.42" cy="676.09" r="6.52" fill="#E58C36" fill-opacity="0.9" stroke="#94663A"/>
<circle cx="286.28" cy="730.38" r="6.52" fill="#E58C36" fill-opacity="0.9" stroke="#94663A"/>
<circle cx="146.71" cy="784.67" r="6.52" fill="#E58C36" fill-opacity="0.9" stroke="#94663A"/>
<circle cx="201.72" cy="784.67" r="6.52" fill="#E58C36" fill-opacity="0.9" stroke="#94663A"/>
<circle cx="230.24" cy="784.67" r="6.52" fill="#E58C36" fill-opacity="0.9" stroke="#94663A"/>
<circle cx="284.44" cy="784.67" r="6.52" fill="#E58C36" fill-opacity="0.9" stroke="#94663A"/>
<circle cx="421.36" cy="784.67" r="6.52" fill="#E58C36" fill-opacity="0.9" stroke="#94663A"/>
<circle cx="603.82" cy="676.09" r="6.52" fill="#E58C36" fill-opacity="0.9" stroke="#94663A"/>
<circle cx="931.61" cy="458.93" r="6.52" fill="#E58C36" fill-opacity="0.9" stroke="#94663A"/>
<circle cx="929.17" cy="730.38" r="6.52" fill="#E58C36" fill-opacity="0.9" stroke="#94663A"/>
<circle cx="1476.19" cy="458.93" r="6.52" fill="#E58C36" fill-opacity="0.9" stroke="#94663A"/>
<circle cx="551.96" cy="133.19" r="6.49" fill="#E58C36" fill-opacity="0.9" stroke="#94663A"/>
<circle cx="687.55" cy="133.19" r="6.49" fill="#E58C36" fill-opacity="0.9" stroke="#94663A"/>
<circle cx="580.74" cy="187.48" r="6.49" fill="#E58C36" fill-opacity="0.9" stroke="#94663A"/>
<circle cx="632.83" cy="187.48" r="6.49" fill="#E58C36" fill-opacity="0.9" stroke="#94663A"/>
<circle cx="497.84" cy="296.06" r="6.49" fill="#E58C36" fill-opacity="0.9" stroke="#94663A"/>
<circle cx="550.34" cy="350.35" r="6.49" fill="#E58C36" fill-opacity="0.9" stroke="#94663A"/>
<circle cx="608.1" cy="350.35" r="6.49" fill="#E58C36" fill-opacity="0.9" stroke="#94663A"/>
<circle cx="496.63" cy="404.64" r="6.49" fill="#E58C36" fill-opacity="0.9" stroke="#94663A"/>
<circle cx="744.29" cy="78.9" r="6.49" fill="#E58C36" fill-opacity="0.9" stroke="#94663A"/>
<circle cx="853.33" cy="78.9" r="6.49" fill="#E58C36" fill-opacity="0.9" stroke="#94663A"/>
<circle cx="880.49" cy="78.9" r="6.49" fill="#E58C36" fill-opacity="0.9" stroke="#94663A"/>
<circle cx="852.12" cy="133.19" r="6.49" fill="#E58C36" fill-opacity="0.9" stroke="#94663A"/>
<circle cx="878.47" cy="133.19" r="6.49" fill="#E58C36" fill-opacity="0.9" stroke="#94663A"/>
<circle cx="961.56" cy="133.19" r="6.49" fill="#E58C36" fill-opacity="0.9" stroke="#94663A"/>
<circle cx="741.25" cy="241.77" r="6.49" fill="#E58C36" fill-opacity="0.9" stroke="#94663A"/>
<circle cx="739.63" cy="296.06" r="6.49" fill="#E58C36" fill-opacity="0.9" stroke="#94663A"/>
<circle cx="988.11" cy="404.64" r="6.49" fill="#E58C36" fill-opacity="0.9" stroke="#94663A"/>
<circle cx="1234.76" cy="78.9" r="6.49" fill="#E58C36" fill-opacity="0.9" stroke="#94663A"/>
<circle cx="1119.65" cy="350.35" r="6.49" fill="#E58C36" fill-opacity="0.9" stroke="#94663A"/>
<circle cx="1289.28" cy="78.9" r="6.49" fill="#E58C36" fill-opacity="0.9" stroke="#94663A"/>
<circle cx="1343.6" cy="78.9" r="6.49" fill="#E58C36" fill-opacity="0.9" stroke="#94663A"/>
<circle cx="1370.35" cy="78.9" r="6.49" fill="#E58C36" fill-opacity="0.9" stroke="#94663A"/>
<circle cx="1421.43" cy="187.48" r="6.49" fill="#E58C36" fill-opacity="0.9" stroke="#94663A"/>
<circle cx="1449.8" cy="187.48" r="6.49" fill="#E58C36" fill-opacity="0.9" stroke="#94663A"/>
<circle cx="1315.02" cy="241.77" r="6.49" fill="#E58C36" fill-opacity="0.9" stroke="#94663A"/>
<circle cx="1506.14" cy="241.77" r="6.49" fill="#E58C36" fill-opacity="0.9" stroke="#94663A"/>
<circle cx="1446.76" cy="296.06" r="6.49" fill="#E58C36" fill-opacity="0.9" stroke="#94663A"/>
<circle cx="1589.03" cy="78.9" r="6.49" fill="#E58C36" fill-opacity="0.9" stroke="#94663A"/>
<circle cx="1637.88" cy="133.19" r="6.49" fill="#A8703E" fill-opacity="0.42" stroke="#94663A" stroke-opacity="0.6"/>
<circle cx="1723.41" cy="187.48" r="6.49" fill="#E58C36" fill-opacity="0.9" stroke="#94663A"/>
<circle cx="1750.77" cy="241.77" r="6.49" fill="#E58C36" fill-opacity="0.9" stroke="#94663A"/>
<circle cx="153.3" cy="78.9" r="6.48" fill="#E58C36" fill-opacity="0.9" stroke="#94663A"/>
<circle cx="207.41" cy="78.9" r="6.48" fill="#E58C36" fill-opacity="0.9" stroke="#94663A"/>
<circle cx="426.25" cy="78.9" r="6.48" fill="#E58C36" fill-opacity="0.9" stroke="#94663A"/>
<circle cx="289.47" cy="350.35" r="6.48" fill="#E58C36" fill-opacity="0.9" stroke="#94663A"/>
<circle cx="1886.02" cy="133.19" r="6.36" fill="#E58C36" fill-opacity="0.9" stroke="#94663A"/>
<circle cx="148.34" cy="676.09" r="6.32" fill="#E58C36" fill-opacity="0.9" stroke="#94663A"/>
<circle cx="471.82" cy="567.51" r="6.31" fill="#E58C36" fill-opacity="0.9" stroke="#94663A"/>
<circle cx="605.45" cy="567.51" r="6.31" fill="#E58C36" fill-opacity="0.9" stroke="#94663A"/>
<circle cx="495.45" cy="784.67" r="6.31" fill="#E58C36" fill-opacity="0.9" stroke="#94663A"/>
<circle cx="151.88" cy="350.35" r="6.28" fill="#E58C36" fill-opacity="0.9" stroke="#94663A"/>
<circle cx="180.25" cy="350.35" r="6.28" fill="#E58C36" fill-opacity="0.9" stroke="#94663A"/>
<circle cx="1913.64" cy="241.77" r="6.11" fill="#E58C36" fill-opacity="0.9" stroke="#94663A"/>
<circle cx="823.34" cy="187.48" r="6.08" fill="#A8703E" fill-opacity="0.42" stroke="#94663A" stroke-opacity="0.6"/>
<circle cx="986.49" cy="187.48" r="6.08" fill="#A8703E" fill-opacity="0.42" stroke="#94663A" stroke-opacity="0.6"/>
<circle cx="875.43" cy="241.77" r="6.08" fill="#E58C36" fill-opacity="0.9" stroke="#94663A"/>
<circle cx="956.09" cy="296.06" r="6.08" fill="#A8703E" fill-opacity="0.42" stroke="#94663A" stroke-opacity="0.6"/>
<circle cx="769.63" cy="350.35" r="6.08" fill="#E58C36" fill-opacity="0.9" stroke="#94663A"/>
<circle cx="824.35" cy="350.35" r="6.08" fill="#E58C36" fill-opacity="0.9" stroke="#94663A"/>
<circle cx="1176.8" cy="78.9" r="6.08" fill="#A8703E" fill-opacity="0.42" stroke="#94663A" stroke-opacity="0.6"/>
<circle cx="1038.58" cy="133.19" r="6.08" fill="#A8703E" fill-opacity="0.42" stroke="#94663A" stroke-opacity="0.6"/>
<circle cx="1067.96" cy="187.48" r="6.08" fill="#A8703E" fill-opacity="0.42" stroke="#94663A" stroke-opacity="0.6"/>
<circle cx="1092.28" cy="187.48" r="6.08" fill="#A8703E" fill-opacity="0.42" stroke="#94663A" stroke-opacity="0.6"/>
<circle cx="1257.46" cy="187.48" r="6.08" fill="#A8703E" fill-opacity="0.42" stroke="#94663A" stroke-opacity="0.6"/>
<circle cx="1069.58" cy="241.77" r="6.08" fill="#E58C36" fill-opacity="0.9" stroke="#94663A"/>
<circle cx="1529.45" cy="133.19" r="6.08" fill="#A8703E" fill-opacity="0.42" stroke="#94663A" stroke-opacity="0.6"/>
<circle cx="1749.76" cy="78.9" r="6.08" fill="#A8703E" fill-opacity="0.42" stroke="#94663A" stroke-opacity="0.6"/>
<circle cx="1582.55" cy="133.19" r="6.08" fill="#A8703E" fill-opacity="0.42" stroke="#94663A" stroke-opacity="0.6"/>
<circle cx="1474.73" cy="133.19" r="5.67" fill="#A8703E" fill-opacity="0.42" stroke="#94663A" stroke-opacity="0.6"/>
<circle cx="631.81" cy="78.9" r="5.07" fill="#A8703E" fill-opacity="0.42" stroke="#94663A" stroke-opacity="0.6"/>
<circle cx="1120.66" cy="187.48" r="5.07" fill="#A8703E" fill-opacity="0.42" stroke="#94663A" stroke-opacity="0.6"/>
<circle cx="1228.08" cy="241.77" r="5.07" fill="#A8703E" fill-opacity="0.42" stroke="#94663A" stroke-opacity="0.6"/>
<circle cx="1476.76" cy="78.9" r="5.07" fill="#A8703E" fill-opacity="0.42" stroke="#94663A" stroke-opacity="0.6"/>
<circle cx="396.46" cy="78.9" r="5.07" fill="#A8703E" fill-opacity="0.42" stroke="#94663A" stroke-opacity="0.6"/>
<circle cx="393.42" cy="133.19" r="5.07" fill="#A8703E" fill-opacity="0.42" stroke="#94663A" stroke-opacity="0.6"/>
<circle cx="200.92" cy="350.35" r="5.07" fill="#A8703E" fill-opacity="0.42" stroke="#94663A" stroke-opacity="0.6"/>
<circle cx="257.25" cy="78.9" r="4.46" fill="#A8703E" fill-opacity="0.42" stroke="#94663A" stroke-opacity="0.6"/>
<circle cx="1039.99" cy="78.9" r="3.65" fill="#A8703E" fill-opacity="0.42" stroke="#94663A" stroke-opacity="0.6"/>
<circle cx="548.72" cy="78.9" r="3.45" fill="#A8703E" fill-opacity="0.42" stroke="#94663A" stroke-opacity="0.6"/>
<circle cx="685.12" cy="78.9" r="3.45" fill="#A8703E" fill-opacity="0.42" stroke="#94663A" stroke-opacity="0.6"/>
<circle cx="1283.81" cy="187.48" r="3.45" fill="#A8703E" fill-opacity="0.42" stroke="#94663A" stroke-opacity="0.6"/>
<circle cx="1338.53" cy="187.48" r="3.45" fill="#A8703E" fill-opacity="0.42" stroke="#94663A" stroke-opacity="0.6"/>
<circle cx="849.69" cy="133.19" r="3.04" fill="#A8703E" fill-opacity="0.42" stroke="#94663A" stroke-opacity="0.6"/>
<circle cx="845.63" cy="296.06" r="3.04" fill="#A8703E" fill-opacity="0.42" stroke="#94663A" stroke-opacity="0.6"/>
<circle cx="1286.24" cy="78.9" r="3.04" fill="#A8703E" fill-opacity="0.42" stroke="#94663A" stroke-opacity="0.6"/>
<circle cx="1313.6" cy="78.9" r="3.04" fill="#A8703E" fill-opacity="0.42" stroke="#94663A" stroke-opacity="0.6"/>
<circle cx="1340.56" cy="78.9" r="3.04" fill="#A8703E" fill-opacity="0.42" stroke="#94663A" stroke-opacity="0.6"/>
<circle cx="1531.07" cy="78.9" r="3.04" fill="#A8703E" fill-opacity="0.42" stroke="#94663A" stroke-opacity="0.6"/>
<circle cx="314.8" cy="78.9" r="3.04" fill="#A8703E" fill-opacity="0.42" stroke="#94663A" stroke-opacity="0.6"/>
<circle cx="254.01" cy="133.19" r="3.04" fill="#A8703E" fill-opacity="0.42" stroke="#94663A" stroke-opacity="0.6"/>
<circle cx="365.06" cy="350.35" r="3.04" fill="#A8703E" fill-opacity="0.42" stroke="#94663A" stroke-opacity="0.6"/>
<circle cx="367.08" cy="133.19" r="2.43" fill="#A8703E" fill-opacity="0.42" stroke="#94663A" stroke-opacity="0.6"/>
<circle cx="1171.33" cy="187.48" r="2.03" fill="#A8703E" fill-opacity="0.42" stroke="#94663A" stroke-opacity="0.6"/>
</g>
<rect x="131.2" y="46.5" width="304.8" height="770" fill="none" stroke="#B3B3B3" stroke-width="1.3"/>
<rect x="131.2" y="6.3" width="304.8" height="40.2" fill="#B3B3B3"/>
<rect x="449.6" y="46.5" width="1476.9" height="770" fill="none" stroke="#B3B3B3" stroke-width="1.3"/>
<rect x="449.6" y="6.3" width="1476.9" height="40.2" fill="#B3B3B3"/>
<text x="208.05" y="34.2" fill="#fff" font-size="30.2" letter-spacing="1.05">Antibacterial</text>
<text x="1099" y="33.8" fill="#fff" font-size="30.2" letter-spacing="1.15">Non-antibacterial</text>
<line x1="124.4" y1="78.9" x2="131.2" y2="78.9" stroke="#B3B3B3" stroke-width="1.3"/>
<text x="122.3" y="88.5" fill="#333333" font-size="25" text-anchor="end">&gt;160</text>
<line x1="124.4" y1="133.19" x2="131.2" y2="133.19" stroke="#B3B3B3" stroke-width="1.3"/>
<text x="122.3" y="142.79" fill="#333333" font-size="25" text-anchor="end">80-160</text>
<line x1="124.4" y1="187.48" x2="131.2" y2="187.48" stroke="#B3B3B3" stroke-width="1.3"/>
<text x="122.3" y="197.08" fill="#333333" font-size="25" text-anchor="end">&gt;80</text>
<line x1="124.4" y1="241.77" x2="131.2" y2="241.77" stroke="#B3B3B3" stroke-width="1.3"/>
<text x="122.3" y="251.37" fill="#333333" font-size="25" text-anchor="end">40-80</text>
<line x1="124.4" y1="296.06" x2="131.2" y2="296.06" stroke="#B3B3B3" stroke-width="1.3"/>
<text x="122.3" y="305.66" fill="#333333" font-size="25" text-anchor="end">&gt;40</text>
<line x1="124.4" y1="350.35" x2="131.2" y2="350.35" stroke="#B3B3B3" stroke-width="1.3"/>
<text x="122.3" y="359.95" fill="#333333" font-size="25" text-anchor="end">20-40</text>
<line x1="124.4" y1="404.64" x2="131.2" y2="404.64" stroke="#B3B3B3" stroke-width="1.3"/>
<text x="122.3" y="414.24" fill="#333333" font-size="25" text-anchor="end">&gt;20</text>
<line x1="124.4" y1="458.93" x2="131.2" y2="458.93" stroke="#B3B3B3" stroke-width="1.3"/>
<text x="122.3" y="468.53" fill="#333333" font-size="25" text-anchor="end">10-20</text>
<line x1="124.4" y1="513.22" x2="131.2" y2="513.22" stroke="#B3B3B3" stroke-width="1.3"/>
<text x="122.3" y="522.82" fill="#333333" font-size="25" text-anchor="end">&gt;10</text>
<line x1="124.4" y1="567.51" x2="131.2" y2="567.51" stroke="#B3B3B3" stroke-width="1.3"/>
<text x="122.3" y="577.11" fill="#333333" font-size="25" text-anchor="end">5-10</text>
<line x1="124.4" y1="621.8" x2="131.2" y2="621.8" stroke="#B3B3B3" stroke-width="1.3"/>
<text x="122.3" y="631.4" fill="#333333" font-size="25" text-anchor="end">&gt; 5</text>
<line x1="124.4" y1="676.09" x2="131.2" y2="676.09" stroke="#B3B3B3" stroke-width="1.3"/>
<text x="122.3" y="685.69" fill="#333333" font-size="25" text-anchor="end">2.5-5</text>
<line x1="124.4" y1="730.38" x2="131.2" y2="730.38" stroke="#B3B3B3" stroke-width="1.3"/>
<text x="122.3" y="739.98" fill="#333333" font-size="25" text-anchor="end">1.25-2.5</text>
<line x1="124.4" y1="784.67" x2="131.2" y2="784.67" stroke="#B3B3B3" stroke-width="1.3"/>
<text x="122.3" y="794.27" fill="#333333" font-size="25" text-anchor="end">&lt;1.25</text>
<line x1="147.54" y1="816.5" x2="147.54" y2="823" stroke="#B3B3B3" stroke-width="1.3"/>
<text transform="translate(153.85,826.3) rotate(-90)" fill="#333333" font-size="24.5" text-anchor="end">Clarithromycin</text>
<line x1="174.78" y1="816.5" x2="174.78" y2="823" stroke="#B3B3B3" stroke-width="1.3"/>
<text transform="translate(181.09,826.3) rotate(-90)" fill="#333333" font-size="24.5" text-anchor="end">Clindamycin</text>
<line x1="202.02" y1="816.5" x2="202.02" y2="823" stroke="#B3B3B3" stroke-width="1.3"/>
<text transform="translate(208.33,826.3) rotate(-90)" fill="#333333" font-size="24.5" text-anchor="end">Doxycycline</text>
<line x1="229.26" y1="816.5" x2="229.26" y2="823" stroke="#B3B3B3" stroke-width="1.3"/>
<text transform="translate(235.57,826.3) rotate(-90)" fill="#333333" font-size="24.5" text-anchor="end">Erythromycin</text>
<line x1="256.5" y1="816.5" x2="256.5" y2="823" stroke="#B3B3B3" stroke-width="1.3"/>
<text transform="translate(265.26,826.3) rotate(-90)" fill="#333333" font-size="24.5" text-anchor="end">Metronidazole</text>
<line x1="283.74" y1="816.5" x2="283.74" y2="823" stroke="#B3B3B3" stroke-width="1.3"/>
<text transform="translate(292.5,826.3) rotate(-90)" fill="#333333" font-size="24.5" text-anchor="end">Novobiocin</text>
<line x1="310.98" y1="816.5" x2="310.98" y2="823" stroke="#B3B3B3" stroke-width="1.3"/>
<text transform="translate(317.29,826.3) rotate(-90)" fill="#333333" font-size="24.5" text-anchor="end">Vancomycin</text>
<line x1="338.22" y1="816.5" x2="338.22" y2="823" stroke="#B3B3B3" stroke-width="1.3"/>
<text transform="translate(346.98,826.3) rotate(-90)" fill="#333333" font-size="24.5" text-anchor="end">Norfloxacin</text>
<line x1="365.46" y1="816.5" x2="365.46" y2="823" stroke="#B3B3B3" stroke-width="1.3"/>
<text transform="translate(371.77,826.3) rotate(-90)" fill="#333333" font-size="24.5" text-anchor="end">Tobramycin</text>
<line x1="392.7" y1="816.5" x2="392.7" y2="823" stroke="#B3B3B3" stroke-width="1.3"/>
<text transform="translate(401.46,826.3) rotate(-90)" fill="#333333" font-size="24.5" text-anchor="end">Tazobactam</text>
<line x1="419.94" y1="816.5" x2="419.94" y2="823" stroke="#B3B3B3" stroke-width="1.3"/>
<text transform="translate(428.7,826.3) rotate(-90)" fill="#333333" font-size="24.5" text-anchor="end">Nalidixic Acid</text>
<line x1="465.94" y1="816.5" x2="465.94" y2="823" stroke="#B3B3B3" stroke-width="1.3"/>
<text transform="translate(474.7,826.3) rotate(-90)" fill="#333333" font-size="24.5" text-anchor="end">Niclosamide</text>
<line x1="493.18" y1="816.5" x2="493.18" y2="823" stroke="#B3B3B3" stroke-width="1.3"/>
<text transform="translate(499.49,826.3) rotate(-90)" fill="#333333" font-size="24.5" text-anchor="end">Streptozotocin</text>
<line x1="520.42" y1="816.5" x2="520.42" y2="823" stroke="#B3B3B3" stroke-width="1.3"/>
<text transform="translate(526.73,826.3) rotate(-90)" fill="#333333" font-size="24.5" text-anchor="end">Cilnidipine</text>
<line x1="547.66" y1="816.5" x2="547.66" y2="823" stroke="#B3B3B3" stroke-width="1.3"/>
<text transform="translate(556.42,826.3) rotate(-90)" fill="#333333" font-size="24.5" text-anchor="end">Diacerein</text>
<line x1="574.9" y1="816.5" x2="574.9" y2="823" stroke="#B3B3B3" stroke-width="1.3"/>
<text transform="translate(583.66,826.3) rotate(-90)" fill="#333333" font-size="24.5" text-anchor="end">Avermectin B1</text>
<line x1="602.14" y1="816.5" x2="602.14" y2="823" stroke="#B3B3B3" stroke-width="1.3"/>
<text transform="translate(610.9,826.3) rotate(-90)" fill="#333333" font-size="24.5" text-anchor="end">Benzbromarone</text>
<line x1="629.38" y1="816.5" x2="629.38" y2="823" stroke="#B3B3B3" stroke-width="1.3"/>
<text transform="translate(635.69,826.3) rotate(-90)" fill="#333333" font-size="24.5" text-anchor="end">Felodipine</text>
<line x1="656.62" y1="816.5" x2="656.62" y2="823" stroke="#B3B3B3" stroke-width="1.3"/>
<text transform="translate(665.38,826.3) rotate(-90)" fill="#333333" font-size="24.5" text-anchor="end">Floxuridine</text>
<line x1="683.86" y1="816.5" x2="683.86" y2="823" stroke="#B3B3B3" stroke-width="1.3"/>
<text transform="translate(692.62,826.3) rotate(-90)" fill="#333333" font-size="24.5" text-anchor="end">Montelukast</text>
<line x1="711.1" y1="816.5" x2="711.1" y2="823" stroke="#B3B3B3" stroke-width="1.3"/>
<text transform="translate(719.86,826.3) rotate(-90)" fill="#333333" font-size="24.5" text-anchor="end">Pentamidine</text>
<line x1="738.34" y1="816.5" x2="738.34" y2="823" stroke="#B3B3B3" stroke-width="1.3"/>
<text transform="translate(744.65,826.3) rotate(-90)" fill="#333333" font-size="24.5" text-anchor="end">Clomiphene</text>
<line x1="765.58" y1="816.5" x2="765.58" y2="823" stroke="#B3B3B3" stroke-width="1.3"/>
<text transform="translate(774.34,826.3) rotate(-90)" fill="#333333" font-size="24.5" text-anchor="end">Dienestrol</text>
<line x1="792.82" y1="816.5" x2="792.82" y2="823" stroke="#B3B3B3" stroke-width="1.3"/>
<text transform="translate(799.13,826.3) rotate(-90)" fill="#333333" font-size="24.5" text-anchor="end">Lacidipine</text>
<line x1="820.06" y1="816.5" x2="820.06" y2="823" stroke="#B3B3B3" stroke-width="1.3"/>
<text transform="translate(828.82,826.3) rotate(-90)" fill="#333333" font-size="24.5" text-anchor="end">Methotrexate</text>
<line x1="847.3" y1="816.5" x2="847.3" y2="823" stroke="#B3B3B3" stroke-width="1.3"/>
<text transform="translate(856.06,826.3) rotate(-90)" fill="#333333" font-size="24.5" text-anchor="end">Miconazole</text>
<line x1="874.54" y1="816.5" x2="874.54" y2="823" stroke="#B3B3B3" stroke-width="1.3"/>
<text transform="translate(883.3,826.3) rotate(-90)" fill="#333333" font-size="24.5" text-anchor="end">Sertindole</text>
<line x1="901.78" y1="816.5" x2="901.78" y2="823" stroke="#B3B3B3" stroke-width="1.3"/>
<text transform="translate(910.54,826.3) rotate(-90)" fill="#333333" font-size="24.5" text-anchor="end">Tamoxifen</text>
<line x1="929.02" y1="816.5" x2="929.02" y2="823" stroke="#B3B3B3" stroke-width="1.3"/>
<text transform="translate(935.33,826.3) rotate(-90)" fill="#333333" font-size="24.5" text-anchor="end">Thioguanosine</text>
<line x1="956.26" y1="816.5" x2="956.26" y2="823" stroke="#B3B3B3" stroke-width="1.3"/>
<text transform="translate(965.02,826.3) rotate(-90)" fill="#333333" font-size="24.5" text-anchor="end">Tribenoside</text>
<line x1="983.5" y1="816.5" x2="983.5" y2="823" stroke="#B3B3B3" stroke-width="1.3"/>
<text transform="translate(989.81,826.3) rotate(-90)" fill="#333333" font-size="24.5" text-anchor="end">Amlodipine</text>
<line x1="1010.74" y1="816.5" x2="1010.74" y2="823" stroke="#B3B3B3" stroke-width="1.3"/>
<text transform="translate(1017.05,826.3) rotate(-90)" fill="#333333" font-size="24.5" text-anchor="end">Chlorpromazine</text>
<line x1="1037.98" y1="816.5" x2="1037.98" y2="823" stroke="#B3B3B3" stroke-width="1.3"/>
<text transform="translate(1046.74,826.3) rotate(-90)" fill="#333333" font-size="24.5" text-anchor="end">Clotrimazole</text>
<line x1="1065.22" y1="816.5" x2="1065.22" y2="823" stroke="#B3B3B3" stroke-width="1.3"/>
<text transform="translate(1073.98,826.3) rotate(-90)" fill="#333333" font-size="24.5" text-anchor="end">Dicumarol</text>
<line x1="1092.46" y1="816.5" x2="1092.46" y2="823" stroke="#B3B3B3" stroke-width="1.3"/>
<text transform="translate(1098.77,826.3) rotate(-90)" fill="#333333" font-size="24.5" text-anchor="end">Dienogest</text>
<line x1="1119.7" y1="816.5" x2="1119.7" y2="823" stroke="#B3B3B3" stroke-width="1.3"/>
<text transform="translate(1126.01,826.3) rotate(-90)" fill="#333333" font-size="24.5" text-anchor="end">Ethinylestradiol</text>
<line x1="1146.94" y1="816.5" x2="1146.94" y2="823" stroke="#B3B3B3" stroke-width="1.3"/>
<text transform="translate(1153.25,826.3) rotate(-90)" fill="#333333" font-size="24.5" text-anchor="end">Ethopropazine</text>
<line x1="1174.18" y1="816.5" x2="1174.18" y2="823" stroke="#B3B3B3" stroke-width="1.3"/>
<text transform="translate(1182.94,826.3) rotate(-90)" fill="#333333" font-size="24.5" text-anchor="end">Ketoconazole</text>
<line x1="1201.42" y1="816.5" x2="1201.42" y2="823" stroke="#B3B3B3" stroke-width="1.3"/>
<text transform="translate(1207.73,826.3) rotate(-90)" fill="#333333" font-size="24.5" text-anchor="end">Loperamide</text>
<line x1="1228.66" y1="816.5" x2="1228.66" y2="823" stroke="#B3B3B3" stroke-width="1.3"/>
<text transform="translate(1237.42,826.3) rotate(-90)" fill="#333333" font-size="24.5" text-anchor="end">Sertraline</text>
<line x1="1255.9" y1="816.5" x2="1255.9" y2="823" stroke="#B3B3B3" stroke-width="1.3"/>
<text transform="translate(1264.66,826.3) rotate(-90)" fill="#333333" font-size="24.5" text-anchor="end">Simvastatin</text>
<line x1="1283.14" y1="816.5" x2="1283.14" y2="823" stroke="#B3B3B3" stroke-width="1.3"/>
<text transform="translate(1291.9,826.3) rotate(-90)" fill="#333333" font-size="24.5" text-anchor="end">Telmisartan</text>
<line x1="1310.38" y1="816.5" x2="1310.38" y2="823" stroke="#B3B3B3" stroke-width="1.3"/>
<text transform="translate(1319.14,826.3) rotate(-90)" fill="#333333" font-size="24.5" text-anchor="end">Terfenadine</text>
<line x1="1337.62" y1="816.5" x2="1337.62" y2="823" stroke="#B3B3B3" stroke-width="1.3"/>
<text transform="translate(1346.38,826.3) rotate(-90)" fill="#333333" font-size="24.5" text-anchor="end">Tiratricol</text>
<line x1="1364.86" y1="816.5" x2="1364.86" y2="823" stroke="#B3B3B3" stroke-width="1.3"/>
<text transform="translate(1373.62,826.3) rotate(-90)" fill="#333333" font-size="24.5" text-anchor="end">Zafirlukast</text>
<line x1="1392.1" y1="816.5" x2="1392.1" y2="823" stroke="#B3B3B3" stroke-width="1.3"/>
<text transform="translate(1400.86,826.3) rotate(-90)" fill="#333333" font-size="24.5" text-anchor="end">Acarbose</text>
<line x1="1419.34" y1="816.5" x2="1419.34" y2="823" stroke="#B3B3B3" stroke-width="1.3"/>
<text transform="translate(1425.65,826.3) rotate(-90)" fill="#333333" font-size="24.5" text-anchor="end">Aprepitant</text>
<line x1="1446.58" y1="816.5" x2="1446.58" y2="823" stroke="#B3B3B3" stroke-width="1.3"/>
<text transform="translate(1452.89,826.3) rotate(-90)" fill="#333333" font-size="24.5" text-anchor="end">Aripiprazole</text>
<line x1="1473.82" y1="816.5" x2="1473.82" y2="823" stroke="#B3B3B3" stroke-width="1.3"/>
<text transform="translate(1480.13,826.3) rotate(-90)" fill="#333333" font-size="24.5" text-anchor="end">Chlorprothixene</text>
<line x1="1501.06" y1="816.5" x2="1501.06" y2="823" stroke="#B3B3B3" stroke-width="1.3"/>
<text transform="translate(1509.82,826.3) rotate(-90)" fill="#333333" font-size="24.5" text-anchor="end">Clemizole</text>
<line x1="1528.3" y1="816.5" x2="1528.3" y2="823" stroke="#B3B3B3" stroke-width="1.3"/>
<text transform="translate(1534.61,826.3) rotate(-90)" fill="#333333" font-size="24.5" text-anchor="end">Clomipramine</text>
<line x1="1555.54" y1="816.5" x2="1555.54" y2="823" stroke="#B3B3B3" stroke-width="1.3"/>
<text transform="translate(1564.3,826.3) rotate(-90)" fill="#333333" font-size="24.5" text-anchor="end">Doxorubicin</text>
<line x1="1582.78" y1="816.5" x2="1582.78" y2="823" stroke="#B3B3B3" stroke-width="1.3"/>
<text transform="translate(1591.54,826.3) rotate(-90)" fill="#333333" font-size="24.5" text-anchor="end">Duloxetine</text>
<line x1="1610.02" y1="816.5" x2="1610.02" y2="823" stroke="#B3B3B3" stroke-width="1.3"/>
<text transform="translate(1618.78,826.3) rotate(-90)" fill="#333333" font-size="24.5" text-anchor="end">Fluconazole</text>
<line x1="1637.26" y1="816.5" x2="1637.26" y2="823" stroke="#B3B3B3" stroke-width="1.3"/>
<text transform="translate(1646.02,826.3) rotate(-90)" fill="#333333" font-size="24.5" text-anchor="end">Fluoxetine</text>
<line x1="1664.5" y1="816.5" x2="1664.5" y2="823" stroke="#B3B3B3" stroke-width="1.3"/>
<text transform="translate(1670.81,826.3) rotate(-90)" fill="#333333" font-size="24.5" text-anchor="end">L-Thyroxine</text>
<line x1="1691.74" y1="816.5" x2="1691.74" y2="823" stroke="#B3B3B3" stroke-width="1.3"/>
<text transform="translate(1698.05,826.3) rotate(-90)" fill="#333333" font-size="24.5" text-anchor="end">Lansoprazole</text>
<line x1="1718.98" y1="816.5" x2="1718.98" y2="823" stroke="#B3B3B3" stroke-width="1.3"/>
<text transform="translate(1727.74,826.3) rotate(-90)" fill="#333333" font-size="24.5" text-anchor="end">Loratadine</text>
<line x1="1746.22" y1="816.5" x2="1746.22" y2="823" stroke="#B3B3B3" stroke-width="1.3"/>
<text transform="translate(1752.53,826.3) rotate(-90)" fill="#333333" font-size="24.5" text-anchor="end">Loxapine</text>
<line x1="1773.46" y1="816.5" x2="1773.46" y2="823" stroke="#B3B3B3" stroke-width="1.3"/>
<text transform="translate(1782.22,826.3) rotate(-90)" fill="#333333" font-size="24.5" text-anchor="end">Metamizole</text>
<line x1="1800.7" y1="816.5" x2="1800.7" y2="823" stroke="#B3B3B3" stroke-width="1.3"/>
<text transform="translate(1809.46,826.3) rotate(-90)" fill="#333333" font-size="24.5" text-anchor="end">Metformin</text>
<line x1="1827.94" y1="816.5" x2="1827.94" y2="823" stroke="#B3B3B3" stroke-width="1.3"/>
<text transform="translate(1834.25,826.3) rotate(-90)" fill="#333333" font-size="24.5" text-anchor="end">Omeprazole</text>
<line x1="1855.18" y1="816.5" x2="1855.18" y2="823" stroke="#B3B3B3" stroke-width="1.3"/>
<text transform="translate(1863.94,826.3) rotate(-90)" fill="#333333" font-size="24.5" text-anchor="end">Promethazine</text>
<line x1="1882.42" y1="816.5" x2="1882.42" y2="823" stroke="#B3B3B3" stroke-width="1.3"/>
<text transform="translate(1888.73,826.3) rotate(-90)" fill="#333333" font-size="24.5" text-anchor="end">Protriptyline</text>
<line x1="1909.66" y1="816.5" x2="1909.66" y2="823" stroke="#B3B3B3" stroke-width="1.3"/>
<text transform="translate(1918.42,826.3) rotate(-90)" fill="#333333" font-size="24.5" text-anchor="end">Tolfenamic Acid</text>
<text transform="translate(28.9,504.5) rotate(-90)" fill="#000" font-size="29">IC<tspan font-size="19" dy="9.5">25</tspan><tspan dy="-9.5"> (µM)</tspan></text>
<rect x="1936.2" y="6.3" width="105.8" height="40.2" fill="#B3B3B3"/>
<text x="1936.9" y="32.8" fill="#fff" font-size="30" textLength="106.5" lengthAdjust="spacingAndGlyphs">Total (%)</text>
<rect x="1936.2" y="46.5" width="105.8" height="770.5" fill="#fff" stroke="#B3B3B3" stroke-width="1.3"/>
<rect x="1936.6" y="52" width="52.8" height="54.5" fill="#5EA6E6"/>
<rect x="1989.4" y="52" width="52.1" height="54.5" fill="#E8761E"/>
<rect x="1936.6" y="106.2" width="52.8" height="54.5" fill="#8AC3EE"/>
<rect x="1989.4" y="106.2" width="52.1" height="54.5" fill="#E9A060"/>
<rect x="1936.6" y="160.4" width="52.8" height="54.5" fill="#8FC6EF"/>
<rect x="1989.4" y="160.4" width="52.1" height="54.5" fill="#EBAA6F"/>
<rect x="1936.6" y="214.6" width="52.8" height="54.5" fill="#99CBF1"/>
<rect x="1989.4" y="214.6" width="52.1" height="54.5" fill="#EEC394"/>
<rect x="1936.6" y="268.8" width="52.8" height="54.5" fill="#A5D2F3"/>
<rect x="1989.4" y="268.8" width="52.1" height="54.5" fill="#EFC79B"/>
<rect x="1936.6" y="323" width="52.8" height="54.5" fill="#ABD5F4"/>
<rect x="1989.4" y="323" width="52.1" height="54.5" fill="#F1D3B0"/>
<rect x="1936.6" y="377.2" width="52.8" height="54.5" fill="#BADDF6"/>
<rect x="1989.4" y="377.2" width="52.1" height="54.5" fill="#F2D9BA"/>
<rect x="1936.6" y="431.4" width="52.8" height="54.5" fill="#BCDEF6"/>
<rect x="1989.4" y="431.4" width="52.1" height="54.5" fill="#F3DEC3"/>
<rect x="1936.6" y="485.6" width="52.8" height="54.5" fill="#C9E4F7"/>
<rect x="1989.4" y="485.6" width="52.1" height="54.5" fill="#F3E1C9"/>
<rect x="1936.6" y="539.8" width="52.8" height="54.5" fill="#CBE5F7"/>
<rect x="1989.4" y="539.8" width="52.1" height="54.5" fill="#F4E4CF"/>
<rect x="1936.6" y="594" width="52.8" height="54.5" fill="#D5EAF8"/>
<rect x="1989.4" y="594" width="52.1" height="54.5" fill="#F4E6D4"/>
<rect x="1936.6" y="648.2" width="52.8" height="54.5" fill="#D5EAF8"/>
<rect x="1989.4" y="648.2" width="52.1" height="54.5" fill="#F4E7D6"/>
<rect x="1936.6" y="702.4" width="52.8" height="54.5" fill="#D9ECF9"/>
<rect x="1989.4" y="702.4" width="52.1" height="54.5" fill="#F4E8D9"/>
<rect x="1936.6" y="756.6" width="52.8" height="54.5" fill="#DCEEF9"/>
<rect x="1989.4" y="756.6" width="52.1" height="54.5" fill="#F3EADF"/>
<text x="1963" y="83" fill="#102030" font-size="20.8" text-anchor="middle" letter-spacing="1">100</text>
<text x="2015.45" y="83" fill="#2B1A0A" font-size="20.8" text-anchor="middle" letter-spacing="1">100</text>
<text x="1963" y="137.2" fill="#102030" font-size="20.8" text-anchor="middle" letter-spacing="1">75.9</text>
<text x="2015.45" y="137.2" fill="#2B1A0A" font-size="20.8" text-anchor="middle" letter-spacing="1">64.3</text>
<text x="1963" y="191.4" fill="#102030" font-size="20.8" text-anchor="middle" letter-spacing="1">68.4</text>
<text x="2015.45" y="191.4" fill="#2B1A0A" font-size="20.8" text-anchor="middle" letter-spacing="1">54.8</text>
<text x="1963" y="245.6" fill="#102030" font-size="20.8" text-anchor="middle" letter-spacing="1">59.5</text>
<text x="2015.45" y="245.6" fill="#2B1A0A" font-size="20.8" text-anchor="middle" letter-spacing="1">36</text>
<text x="1963" y="299.8" fill="#102030" font-size="20.8" text-anchor="middle" letter-spacing="1">47.9</text>
<text x="2015.45" y="299.8" fill="#2B1A0A" font-size="20.8" text-anchor="middle" letter-spacing="1">32.6</text>
<text x="1963" y="354" fill="#102030" font-size="20.8" text-anchor="middle" letter-spacing="1">41.8</text>
<text x="2015.45" y="354" fill="#2B1A0A" font-size="20.8" text-anchor="middle" letter-spacing="1">22.8</text>
<text x="1963" y="408.2" fill="#102030" font-size="20.8" text-anchor="middle" letter-spacing="1">31.5</text>
<text x="2015.45" y="408.2" fill="#2B1A0A" font-size="20.8" text-anchor="middle" letter-spacing="1">18.2</text>
<text x="1963" y="462.4" fill="#102030" font-size="20.8" text-anchor="middle" letter-spacing="1">30.4</text>
<text x="2015.45" y="462.4" fill="#2B1A0A" font-size="20.8" text-anchor="middle" letter-spacing="1">14.5</text>
<text x="1963" y="516.6" fill="#102030" font-size="20.8" text-anchor="middle" letter-spacing="1">22.7</text>
<text x="2015.45" y="516.6" fill="#2B1A0A" font-size="20.8" text-anchor="middle" letter-spacing="1">11.7</text>
<text x="1963" y="570.8" fill="#102030" font-size="20.8" text-anchor="middle" letter-spacing="1">21.5</text>
<text x="2015.45" y="570.8" fill="#2B1A0A" font-size="20.8" text-anchor="middle" letter-spacing="1">9.5</text>
<text x="1963" y="625" fill="#102030" font-size="20.8" text-anchor="middle" letter-spacing="1">15.5</text>
<text x="2015.45" y="625" fill="#2B1A0A" font-size="20.8" text-anchor="middle" letter-spacing="1">7.4</text>
<text x="1963" y="679.2" fill="#102030" font-size="20.8" text-anchor="middle" letter-spacing="1">15.4</text>
<text x="2015.45" y="679.2" fill="#2B1A0A" font-size="20.8" text-anchor="middle" letter-spacing="1">6.8</text>
<text x="1963" y="733.4" fill="#102030" font-size="20.8" text-anchor="middle" letter-spacing="1">13</text>
<text x="2015.45" y="733.4" fill="#2B1A0A" font-size="20.8" text-anchor="middle" letter-spacing="1">5.2</text>
<text x="1963" y="787.6" fill="#102030" font-size="20.8" text-anchor="middle" letter-spacing="1">10.9</text>
<text x="2015.45" y="787.6" fill="#2B1A0A" font-size="20.8" text-anchor="middle" letter-spacing="1">2.8</text>
<line x1="1962.7" y1="817" x2="1962.7" y2="823.5" stroke="#B3B3B3" stroke-width="1.3"/>
<text transform="translate(1971.46,826.3) rotate(-90)" fill="#333333" font-size="24.5" text-anchor="end">Commensal</text>
<line x1="2015.7" y1="817" x2="2015.7" y2="823.5" stroke="#B3B3B3" stroke-width="1.3"/>
<text transform="translate(2022.01,826.3) rotate(-90)" fill="#333333" font-size="24.5" text-anchor="end">Pathogen</text>
<circle cx="227.6" cy="1025.4" r="9.2" fill="#8CC7F0" stroke="#5E8DAE" stroke-width="1"/>
<text x="261" y="1033.5" fill="#000" font-size="25.5" letter-spacing="0.8">Commensal</text>
<circle cx="439.8" cy="1025.6" r="9.2" fill="#E58C36" stroke="#94663A" stroke-width="1"/>
<text x="472.5" y="1033.5" fill="#000" font-size="25.5" letter-spacing="0.8">Pathogen</text>
<text x="721.5" y="1031" fill="#000" font-size="25.2" font-weight="bold">Inhibited strains (%)</text>
<circle cx="991.4" cy="1025.4" r="3.4" fill="none" stroke="#6E6E6E" stroke-width="2"/>
<text x="1004.5" y="1034" fill="#000" font-size="25">5</text>
<circle cx="1066.5" cy="1025.4" r="5.4" fill="none" stroke="#6E6E6E" stroke-width="2"/>
<text x="1078.8" y="1034" fill="#000" font-size="25">10</text>
<circle cx="1154" cy="1025.4" r="6.9" fill="none" stroke="#6E6E6E" stroke-width="2"/>
<text x="1168.2" y="1034" fill="#000" font-size="25">20</text>
<circle cx="1242.2" cy="1025.4" r="8.3" fill="none" stroke="#6E6E6E" stroke-width="2"/>
<text x="1257.5" y="1034" fill="#000" font-size="25">40</text>
<circle cx="1329.2" cy="1025.4" r="10.3" fill="none" stroke="#6E6E6E" stroke-width="2"/>
<text x="1346.5" y="1034" fill="#000" font-size="25">80</text>
<rect x="140" y="1104.4" width="338.8" height="304.9" fill="#fff"/>
<line x1="140" y1="1105.6" x2="478.8" y2="1105.6" stroke="#F0F0F0" stroke-width="0.8"/>
<line x1="140" y1="1177.2" x2="478.8" y2="1177.2" stroke="#F0F0F0" stroke-width="0.8"/>
<line x1="140" y1="1248.8" x2="478.8" y2="1248.8" stroke="#F0F0F0" stroke-width="0.8"/>
<line x1="140" y1="1320.3" x2="478.8" y2="1320.3" stroke="#F0F0F0" stroke-width="0.8"/>
<line x1="140" y1="1392" x2="478.8" y2="1392" stroke="#F0F0F0" stroke-width="0.8"/>
<line x1="140" y1="1141.3" x2="478.8" y2="1141.3" stroke="#EAEAEA" stroke-width="0.95"/>
<line x1="140" y1="1213.1" x2="478.8" y2="1213.1" stroke="#EAEAEA" stroke-width="0.95"/>
<line x1="140" y1="1284.4" x2="478.8" y2="1284.4" stroke="#EAEAEA" stroke-width="0.95"/>
<line x1="140" y1="1355.9" x2="478.8" y2="1355.9" stroke="#EAEAEA" stroke-width="0.95"/>
<line x1="203.7" y1="1104.4" x2="203.7" y2="1409.3" stroke="#EAEAEA" stroke-width="0.95"/>
<line x1="309.1" y1="1104.4" x2="309.1" y2="1409.3" stroke="#EAEAEA" stroke-width="0.95"/>
<line x1="414.6" y1="1104.4" x2="414.6" y2="1409.3" stroke="#EAEAEA" stroke-width="0.95"/>
<g fill="#7D918E" fill-opacity="0.62" stroke="#1C2626" stroke-width="1">
<circle cx="203.11" cy="1189.17" r="3.3"/>
<circle cx="204" cy="1193.06" r="3.3"/>
<circle cx="203.97" cy="1197.74" r="3.3"/>
<circle cx="204.34" cy="1201.91" r="3.3"/>
<circle cx="203.67" cy="1205.14" r="3.3"/>
<circle cx="201.89" cy="1209.24" r="3.3"/>
<circle cx="205.83" cy="1210.26" r="3.3"/>
<circle cx="200.62" cy="1213.77" r="3.3"/>
<circle cx="206.17" cy="1212.96" r="3.3"/>
<circle cx="199.48" cy="1218.85" r="3.3"/>
<circle cx="206.94" cy="1218.56" r="3.3"/>
<circle cx="198.51" cy="1222.56" r="3.3"/>
<circle cx="203.46" cy="1222.61" r="3.3"/>
<circle cx="207.77" cy="1221.97" r="3.3"/>
<circle cx="196.37" cy="1226.94" r="3.3"/>
<circle cx="200.73" cy="1226.56" r="3.3"/>
<circle cx="206.05" cy="1225.87" r="3.3"/>
<circle cx="210.54" cy="1225.84" r="3.3"/>
<circle cx="193.96" cy="1229.49" r="3.3"/>
<circle cx="199.46" cy="1230.93" r="3.3"/>
<circle cx="203.55" cy="1230.13" r="3.3"/>
<circle cx="208.82" cy="1231.27" r="3.3"/>
<circle cx="213.09" cy="1231.31" r="3.3"/>
<circle cx="194.17" cy="1234.07" r="3.3"/>
<circle cx="199.44" cy="1234.46" r="3.3"/>
<circle cx="204.04" cy="1234.09" r="3.3"/>
<circle cx="208.48" cy="1234.25" r="3.3"/>
<circle cx="213.71" cy="1234.69" r="3.3"/>
<circle cx="195.36" cy="1238.43" r="3.3"/>
<circle cx="200.71" cy="1237.98" r="3.3"/>
<circle cx="207.22" cy="1239.22" r="3.3"/>
<circle cx="213.3" cy="1237.81" r="3.3"/>
<circle cx="194.49" cy="1242.71" r="3.3"/>
<circle cx="200.09" cy="1241.67" r="3.3"/>
<circle cx="204.36" cy="1242.12" r="3.3"/>
<circle cx="209.29" cy="1242.28" r="3.3"/>
<circle cx="214.14" cy="1242.96" r="3.3"/>
<circle cx="193.43" cy="1247.6" r="3.3"/>
<circle cx="199.6" cy="1247.44" r="3.3"/>
<circle cx="204.52" cy="1245.91" r="3.3"/>
<circle cx="211.19" cy="1247.43" r="3.3"/>
<circle cx="216.63" cy="1245.83" r="3.3"/>
<circle cx="190.95" cy="1251.13" r="3.3"/>
<circle cx="196.85" cy="1250.63" r="3.3"/>
<circle cx="201.72" cy="1251.03" r="3.3"/>
<circle cx="206.53" cy="1250.35" r="3.3"/>
<circle cx="212.84" cy="1251.4" r="3.3"/>
<circle cx="217.04" cy="1250.23" r="3.3"/>
<circle cx="187.97" cy="1254.79" r="3.3"/>
<circle cx="192.66" cy="1254.9" r="3.3"/>
<circle cx="198.04" cy="1255.93" r="3.3"/>
<circle cx="203.68" cy="1255.11" r="3.3"/>
<circle cx="208.53" cy="1254.26" r="3.3"/>
<circle cx="213.97" cy="1255.39" r="3.3"/>
<circle cx="220.08" cy="1254.01" r="3.3"/>
<circle cx="182.94" cy="1258.73" r="3.3"/>
<circle cx="188.81" cy="1259.02" r="3.3"/>
<circle cx="194.97" cy="1259.82" r="3.3"/>
<circle cx="200.63" cy="1258.05" r="3.3"/>
<circle cx="205.43" cy="1259.55" r="3.3"/>
<circle cx="211.29" cy="1258.23" r="3.3"/>
<circle cx="217.07" cy="1258.93" r="3.3"/>
<circle cx="222.31" cy="1259.21" r="3.3"/>
<circle cx="187.72" cy="1263.18" r="3.3"/>
<circle cx="193.23" cy="1263.7" r="3.3"/>
<circle cx="198.13" cy="1263.3" r="3.3"/>
<circle cx="203.36" cy="1263.25" r="3.3"/>
<circle cx="207.9" cy="1263.69" r="3.3"/>
<circle cx="213.67" cy="1263.22" r="3.3"/>
<circle cx="218.17" cy="1263.56" r="3.3"/>
<circle cx="192.43" cy="1268.02" r="3.3"/>
<circle cx="197.96" cy="1266.83" r="3.3"/>
<circle cx="202.96" cy="1267.42" r="3.3"/>
<circle cx="209.38" cy="1267.73" r="3.3"/>
<circle cx="215.31" cy="1267.38" r="3.3"/>
<circle cx="191.9" cy="1271.26" r="3.3"/>
<circle cx="196.15" cy="1270.39" r="3.3"/>
<circle cx="201.16" cy="1272.1" r="3.3"/>
<circle cx="206.04" cy="1271.74" r="3.3"/>
<circle cx="211.24" cy="1271.51" r="3.3"/>
<circle cx="215.69" cy="1271.18" r="3.3"/>
<circle cx="191.48" cy="1275.5" r="3.3"/>
<circle cx="195.58" cy="1275.22" r="3.3"/>
<circle cx="200.99" cy="1276.12" r="3.3"/>
<circle cx="206.25" cy="1276.25" r="3.3"/>
<circle cx="210.54" cy="1276.25" r="3.3"/>
<circle cx="215.48" cy="1274.69" r="3.3"/>
<circle cx="189.95" cy="1280.06" r="3.3"/>
<circle cx="194.71" cy="1279.34" r="3.3"/>
<circle cx="200.18" cy="1278.83" r="3.3"/>
<circle cx="205.33" cy="1278.59" r="3.3"/>
<circle cx="210.95" cy="1279.88" r="3.3"/>
<circle cx="215.88" cy="1279.67" r="3.3"/>
<circle cx="188.12" cy="1284.48" r="3.3"/>
<circle cx="193.83" cy="1284.58" r="3.3"/>
<circle cx="199.33" cy="1283.87" r="3.3"/>
<circle cx="203.89" cy="1283.51" r="3.3"/>
<circle cx="209.84" cy="1284.47" r="3.3"/>
<circle cx="215.26" cy="1283.38" r="3.3"/>
<circle cx="219.57" cy="1283.08" r="3.3"/>
<circle cx="187.96" cy="1288.47" r="3.3"/>
<circle cx="193.63" cy="1287.29" r="3.3"/>
<circle cx="199.15" cy="1287.31" r="3.3"/>
<circle cx="205.34" cy="1288.06" r="3.3"/>
<circle cx="210.57" cy="1287.7" r="3.3"/>
<circle cx="216.24" cy="1288.68" r="3.3"/>
<circle cx="221.73" cy="1287.4" r="3.3"/>
<circle cx="190.78" cy="1291.12" r="3.3"/>
<circle cx="196.42" cy="1292.63" r="3.3"/>
<circle cx="200.92" cy="1292.21" r="3.3"/>
<circle cx="207.28" cy="1291.47" r="3.3"/>
<circle cx="212.31" cy="1291.07" r="3.3"/>
<circle cx="217.54" cy="1291.86" r="3.3"/>
<circle cx="191.67" cy="1296.54" r="3.3"/>
<circle cx="196.38" cy="1295.49" r="3.3"/>
<circle cx="201.87" cy="1295.37" r="3.3"/>
<circle cx="206.51" cy="1295.1" r="3.3"/>
<circle cx="211.52" cy="1296.59" r="3.3"/>
<circle cx="216.72" cy="1296.8" r="3.3"/>
<circle cx="192.39" cy="1299.89" r="3.3"/>
<circle cx="198.13" cy="1299.8" r="3.3"/>
<circle cx="203.54" cy="1299.1" r="3.3"/>
<circle cx="209.34" cy="1299.66" r="3.3"/>
<circle cx="215.01" cy="1299.37" r="3.3"/>
<circle cx="191.96" cy="1304.61" r="3.3"/>
<circle cx="197.46" cy="1303.33" r="3.3"/>
<circle cx="203.65" cy="1303.55" r="3.3"/>
<circle cx="209.07" cy="1303.21" r="3.3"/>
<circle cx="214.96" cy="1303.25" r="3.3"/>
<circle cx="194.11" cy="1308.4" r="3.3"/>
<circle cx="198.63" cy="1308.72" r="3.3"/>
<circle cx="203.64" cy="1308.91" r="3.3"/>
<circle cx="207.67" cy="1307.74" r="3.3"/>
<circle cx="212.8" cy="1307.38" r="3.3"/>
<circle cx="195.23" cy="1312.78" r="3.3"/>
<circle cx="200.31" cy="1312.04" r="3.3"/>
<circle cx="206.56" cy="1311.51" r="3.3"/>
<circle cx="211.65" cy="1313.09" r="3.3"/>
<circle cx="196.51" cy="1315.45" r="3.3"/>
<circle cx="201.94" cy="1316.14" r="3.3"/>
<circle cx="206.38" cy="1316.63" r="3.3"/>
<circle cx="211.13" cy="1315.98" r="3.3"/>
<circle cx="196.63" cy="1321.01" r="3.3"/>
<circle cx="200.98" cy="1319.85" r="3.3"/>
<circle cx="206" cy="1321.23" r="3.3"/>
<circle cx="210.71" cy="1320.36" r="3.3"/>
<circle cx="196.06" cy="1324.13" r="3.3"/>
<circle cx="200.13" cy="1324.02" r="3.3"/>
<circle cx="204.42" cy="1324.43" r="3.3"/>
<circle cx="208.43" cy="1324.84" r="3.3"/>
<circle cx="198.31" cy="1328.39" r="3.3"/>
<circle cx="202.42" cy="1328.55" r="3.3"/>
<circle cx="207.91" cy="1328.74" r="3.3"/>
<circle cx="201.39" cy="1333.18" r="3.3"/>
<circle cx="205.4" cy="1333.54" r="3.3"/>
<circle cx="182.85" cy="1259.58" r="3.3"/>
<circle cx="188.52" cy="1259.58" r="3.3"/>
<circle cx="194.2" cy="1259.58" r="3.3"/>
<circle cx="199.87" cy="1259.58" r="3.3"/>
<circle cx="205.54" cy="1259.58" r="3.3"/>
<circle cx="211.22" cy="1259.58" r="3.3"/>
<circle cx="216.89" cy="1259.58" r="3.3"/>
<circle cx="222.56" cy="1259.58" r="3.3"/>
<circle cx="187.53" cy="1286.47" r="3.3"/>
<circle cx="193.37" cy="1286.47" r="3.3"/>
<circle cx="199.21" cy="1286.47" r="3.3"/>
<circle cx="205.05" cy="1286.47" r="3.3"/>
<circle cx="210.89" cy="1286.47" r="3.3"/>
<circle cx="216.72" cy="1286.47" r="3.3"/>
<circle cx="222.56" cy="1286.47" r="3.3"/>
<circle cx="203.66" cy="1118.04" r="3.3"/>
<circle cx="199.84" cy="1157.59" r="3.3"/>
<circle cx="203.83" cy="1157.59" r="3.3"/>
<circle cx="203.31" cy="1159.84" r="3.3"/>
<circle cx="203.66" cy="1165.57" r="3.3"/>
<circle cx="203.31" cy="1171.99" r="3.3"/>
<circle cx="206.78" cy="1171.64" r="3.3"/>
<circle cx="197.24" cy="1344.58" r="3.3"/>
<circle cx="201.58" cy="1344.58" r="3.3"/>
<circle cx="205.92" cy="1344.58" r="3.3"/>
<circle cx="199.84" cy="1349.78" r="3.3"/>
<circle cx="203.83" cy="1352.39" r="3.3"/>
<circle cx="207.65" cy="1351.52" r="3.3"/>
<circle cx="203.66" cy="1374.93" r="3.3"/>
<circle cx="206.78" cy="1374.93" r="3.3"/>
<circle cx="203.31" cy="1382.74" r="3.3"/>
<circle cx="203.66" cy="1394.88" r="3.3"/>
<circle cx="304.93" cy="1260.29" r="3.3"/>
<circle cx="310.27" cy="1260.08" r="3.3"/>
<circle cx="305.82" cy="1264.76" r="3.3"/>
<circle cx="312.83" cy="1264.83" r="3.3"/>
<circle cx="305.87" cy="1268.06" r="3.3"/>
<circle cx="310.59" cy="1268.06" r="3.3"/>
<circle cx="315.12" cy="1269.08" r="3.3"/>
<circle cx="306.73" cy="1272.59" r="3.3"/>
<circle cx="312.8" cy="1271.77" r="3.3"/>
<circle cx="308.79" cy="1277.67" r="3.3"/>
<circle cx="308.92" cy="1281.48" r="3.3"/>
<circle cx="309.18" cy="1285.48" r="3.3"/>
<circle cx="307.23" cy="1289.62" r="3.3"/>
<circle cx="310.18" cy="1288.99" r="3.3"/>
<circle cx="305.59" cy="1293.95" r="3.3"/>
<circle cx="310.98" cy="1293.58" r="3.3"/>
<circle cx="305.23" cy="1296.99" r="3.3"/>
<circle cx="312.48" cy="1296.96" r="3.3"/>
<circle cx="306.08" cy="1300.61" r="3.3"/>
<circle cx="310.83" cy="1302.05" r="3.3"/>
<circle cx="314.16" cy="1301.25" r="3.3"/>
<circle cx="310.17" cy="1306.49" r="3.3"/>
<circle cx="306.35" cy="1269.12" r="3.3"/>
<circle cx="310.86" cy="1269.12" r="3.3"/>
<circle cx="315.36" cy="1269.12" r="3.3"/>
<circle cx="309.12" cy="1216.57" r="3.3"/>
<circle cx="309.12" cy="1224.89" r="3.3"/>
<circle cx="304.79" cy="1238.77" r="3.3"/>
<circle cx="309.12" cy="1238.77" r="3.3"/>
<circle cx="312.59" cy="1238.77" r="3.3"/>
<circle cx="309.12" cy="1248.83" r="3.3"/>
<circle cx="312.59" cy="1248.83" r="3.3"/>
<circle cx="308.26" cy="1253.51" r="3.3"/>
<circle cx="309.12" cy="1314.22" r="3.3"/>
<circle cx="309.12" cy="1320.29" r="3.3"/>
<circle cx="309.99" cy="1322.9" r="3.3"/>
<circle cx="309.12" cy="1362.79" r="3.3"/>
<circle cx="309.12" cy="1375.28" r="3.3"/>
<circle cx="309.12" cy="1394.88" r="3.3"/>
<circle cx="414.59" cy="1141.28" r="3.3"/>
<circle cx="414.59" cy="1184.65" r="3.3"/>
<circle cx="414.59" cy="1226.11" r="3.3"/>
<circle cx="414.59" cy="1295.14" r="3.3"/>
<circle cx="414.59" cy="1305.55" r="3.3"/>
<circle cx="418.06" cy="1305.03" r="3.3"/>
<circle cx="414.59" cy="1315.61" r="3.3"/>
<circle cx="414.59" cy="1332.96" r="3.3"/>
<circle cx="414.59" cy="1342.32" r="3.3"/>
</g>
<path d="M196.37 1270.86H211.12M203.31 1264.44V1277.28" stroke="#CC2A2E" stroke-width="1.8" fill="none"/>
<path d="M302.19 1284.74H316.06M309.12 1277.8V1291.67" stroke="#CC2A2E" stroke-width="1.8" fill="none"/>
<path d="M408 1272.25H421.87M414.93 1248.83V1295.14" stroke="#CC2A2E" stroke-width="1.8" fill="none"/>
<rect x="140" y="1104.4" width="338.8" height="304.9" fill="none" stroke="#B3B3B3" stroke-width="1.3"/>
<line x1="135.8" y1="1141.3" x2="140" y2="1141.3" stroke="#B3B3B3" stroke-width="1.3"/>
<text x="132.4" y="1149.7" fill="#333333" font-size="24" text-anchor="end">3.00</text>
<line x1="135.8" y1="1213.1" x2="140" y2="1213.1" stroke="#B3B3B3" stroke-width="1.3"/>
<text x="132.4" y="1221.5" fill="#333333" font-size="24" text-anchor="end">2.75</text>
<line x1="135.8" y1="1284.4" x2="140" y2="1284.4" stroke="#B3B3B3" stroke-width="1.3"/>
<text x="132.4" y="1292.8" fill="#333333" font-size="24" text-anchor="end">2.50</text>
<line x1="135.8" y1="1355.9" x2="140" y2="1355.9" stroke="#B3B3B3" stroke-width="1.3"/>
<text x="132.4" y="1364.3" fill="#333333" font-size="24" text-anchor="end">2.25</text>
<line x1="203.7" y1="1409.3" x2="203.7" y2="1413.5" stroke="#B3B3B3" stroke-width="1.3"/>
<text transform="translate(215.8,1427.3) rotate(-40)" fill="#333333" font-size="24.5" text-anchor="end">no inhibition</text>
<line x1="309.1" y1="1409.3" x2="309.1" y2="1413.5" stroke="#B3B3B3" stroke-width="1.3"/>
<text transform="translate(321.2,1427.3) rotate(-40)" fill="#333333" font-size="24.5" text-anchor="end">up to 3</text>
<line x1="414.6" y1="1409.3" x2="414.6" y2="1413.5" stroke="#B3B3B3" stroke-width="1.3"/>
<text transform="translate(426.7,1427.3) rotate(-40)" fill="#333333" font-size="24.5" text-anchor="end">more than 3</text>
<text x="139.5" y="1094.4" fill="#000" font-size="29" letter-spacing="0.12">Mol. weight (log<tspan font-size="16.5" dx="1.6" dy="9.2">10</tspan><tspan dx="-0.8" dy="-9.2">)</tspan></text>
<rect x="518.3" y="1104.4" width="348.7" height="304.9" fill="#fff"/>
<line x1="518.3" y1="1167" x2="867" y2="1167" stroke="#F0F0F0" stroke-width="0.8"/>
<line x1="518.3" y1="1238.4" x2="867" y2="1238.4" stroke="#F0F0F0" stroke-width="0.8"/>
<line x1="518.3" y1="1309.8" x2="867" y2="1309.8" stroke="#F0F0F0" stroke-width="0.8"/>
<line x1="518.3" y1="1381.8" x2="867" y2="1381.8" stroke="#F0F0F0" stroke-width="0.8"/>
<line x1="518.3" y1="1131.25" x2="867" y2="1131.25" stroke="#EAEAEA" stroke-width="0.95"/>
<line x1="518.3" y1="1202.3" x2="867" y2="1202.3" stroke="#EAEAEA" stroke-width="0.95"/>
<line x1="518.3" y1="1274.5" x2="867" y2="1274.5" stroke="#EAEAEA" stroke-width="0.95"/>
<line x1="518.3" y1="1345.9" x2="867" y2="1345.9" stroke="#EAEAEA" stroke-width="0.95"/>
<line x1="583.7" y1="1104.4" x2="583.7" y2="1409.3" stroke="#EAEAEA" stroke-width="0.95"/>
<line x1="692.5" y1="1104.4" x2="692.5" y2="1409.3" stroke="#EAEAEA" stroke-width="0.95"/>
<line x1="801.9" y1="1104.4" x2="801.9" y2="1409.3" stroke="#EAEAEA" stroke-width="0.95"/>
<g fill="#7D918E" fill-opacity="0.62" stroke="#1C2626" stroke-width="1">
<circle cx="583.83" cy="1162.14" r="3.3"/>
<circle cx="581.45" cy="1165.72" r="3.3"/>
<circle cx="586.04" cy="1165.89" r="3.3"/>
<circle cx="580.31" cy="1169.34" r="3.3"/>
<circle cx="583.9" cy="1170.25" r="3.3"/>
<circle cx="587.71" cy="1169.4" r="3.3"/>
<circle cx="579.13" cy="1173.41" r="3.3"/>
<circle cx="583.25" cy="1174.15" r="3.3"/>
<circle cx="587.93" cy="1173.42" r="3.3"/>
<circle cx="576.63" cy="1177.99" r="3.3"/>
<circle cx="583.16" cy="1178.05" r="3.3"/>
<circle cx="588.83" cy="1178.4" r="3.3"/>
<circle cx="574.71" cy="1182.93" r="3.3"/>
<circle cx="579.83" cy="1181.71" r="3.3"/>
<circle cx="585.35" cy="1182.67" r="3.3"/>
<circle cx="589.54" cy="1182.55" r="3.3"/>
<circle cx="572.31" cy="1185.58" r="3.3"/>
<circle cx="576.72" cy="1185.46" r="3.3"/>
<circle cx="582.16" cy="1186.77" r="3.3"/>
<circle cx="586.06" cy="1185.5" r="3.3"/>
<circle cx="591" cy="1187.01" r="3.3"/>
<circle cx="595.44" cy="1186.8" r="3.3"/>
<circle cx="572.12" cy="1191.13" r="3.3"/>
<circle cx="576.99" cy="1190.15" r="3.3"/>
<circle cx="581.68" cy="1189.45" r="3.3"/>
<circle cx="586.25" cy="1190.06" r="3.3"/>
<circle cx="591.38" cy="1189.34" r="3.3"/>
<circle cx="596.07" cy="1189.77" r="3.3"/>
<circle cx="570.44" cy="1194.44" r="3.3"/>
<circle cx="575.91" cy="1195.32" r="3.3"/>
<circle cx="581.53" cy="1194.07" r="3.3"/>
<circle cx="585.9" cy="1194.75" r="3.3"/>
<circle cx="591.71" cy="1193.57" r="3.3"/>
<circle cx="596.05" cy="1193.42" r="3.3"/>
<circle cx="565.47" cy="1198.3" r="3.3"/>
<circle cx="570" cy="1198.93" r="3.3"/>
<circle cx="575.53" cy="1199.33" r="3.3"/>
<circle cx="580.26" cy="1198.33" r="3.3"/>
<circle cx="585.3" cy="1197.75" r="3.3"/>
<circle cx="590.42" cy="1198.13" r="3.3"/>
<circle cx="594.78" cy="1198.65" r="3.3"/>
<circle cx="600.07" cy="1199.03" r="3.3"/>
<circle cx="565.87" cy="1202.48" r="3.3"/>
<circle cx="570.94" cy="1202.6" r="3.3"/>
<circle cx="576.11" cy="1202.56" r="3.3"/>
<circle cx="580.09" cy="1202.94" r="3.3"/>
<circle cx="585.86" cy="1203.18" r="3.3"/>
<circle cx="590.05" cy="1203.3" r="3.3"/>
<circle cx="595.16" cy="1202.31" r="3.3"/>
<circle cx="599.96" cy="1203.28" r="3.3"/>
<circle cx="566.31" cy="1207.47" r="3.3"/>
<circle cx="571.42" cy="1207.1" r="3.3"/>
<circle cx="575.91" cy="1207.44" r="3.3"/>
<circle cx="581.15" cy="1207.69" r="3.3"/>
<circle cx="585.1" cy="1207.68" r="3.3"/>
<circle cx="590.31" cy="1207.34" r="3.3"/>
<circle cx="595.01" cy="1207.54" r="3.3"/>
<circle cx="600.57" cy="1206.22" r="3.3"/>
<circle cx="565.72" cy="1211.1" r="3.3"/>
<circle cx="571.4" cy="1210.88" r="3.3"/>
<circle cx="575.66" cy="1209.88" r="3.3"/>
<circle cx="580.39" cy="1210.4" r="3.3"/>
<circle cx="585.68" cy="1211.01" r="3.3"/>
<circle cx="590.86" cy="1210.98" r="3.3"/>
<circle cx="595.57" cy="1210.09" r="3.3"/>
<circle cx="600.69" cy="1210.35" r="3.3"/>
<circle cx="567.42" cy="1215.56" r="3.3"/>
<circle cx="572.67" cy="1215.36" r="3.3"/>
<circle cx="577.91" cy="1215.84" r="3.3"/>
<circle cx="583.1" cy="1214.18" r="3.3"/>
<circle cx="588.69" cy="1215.22" r="3.3"/>
<circle cx="593.28" cy="1215.04" r="3.3"/>
<circle cx="598.18" cy="1214.32" r="3.3"/>
<circle cx="558.18" cy="1219.41" r="3.3"/>
<circle cx="564.36" cy="1219.3" r="3.3"/>
<circle cx="569.47" cy="1219.69" r="3.3"/>
<circle cx="575.12" cy="1218.64" r="3.3"/>
<circle cx="580.13" cy="1218.68" r="3.3"/>
<circle cx="585.94" cy="1218.13" r="3.3"/>
<circle cx="590.41" cy="1219.83" r="3.3"/>
<circle cx="596.54" cy="1218.55" r="3.3"/>
<circle cx="601.51" cy="1218.55" r="3.3"/>
<circle cx="606.95" cy="1219.64" r="3.3"/>
<circle cx="569.35" cy="1222.46" r="3.3"/>
<circle cx="574.5" cy="1223.27" r="3.3"/>
<circle cx="578.72" cy="1224.04" r="3.3"/>
<circle cx="583.33" cy="1223.18" r="3.3"/>
<circle cx="589.15" cy="1222.7" r="3.3"/>
<circle cx="593.89" cy="1223.44" r="3.3"/>
<circle cx="570.86" cy="1227.91" r="3.3"/>
<circle cx="576.01" cy="1227.71" r="3.3"/>
<circle cx="581.42" cy="1227.7" r="3.3"/>
<circle cx="586.2" cy="1228.1" r="3.3"/>
<circle cx="591" cy="1227.12" r="3.3"/>
<circle cx="595.84" cy="1228.13" r="3.3"/>
<circle cx="572.05" cy="1232.05" r="3.3"/>
<circle cx="577.42" cy="1230.51" r="3.3"/>
<circle cx="581.92" cy="1231.22" r="3.3"/>
<circle cx="587.53" cy="1231.1" r="3.3"/>
<circle cx="592.54" cy="1232.13" r="3.3"/>
<circle cx="597.1" cy="1232.17" r="3.3"/>
<circle cx="571.91" cy="1235.21" r="3.3"/>
<circle cx="577.44" cy="1234.57" r="3.3"/>
<circle cx="582.85" cy="1235.14" r="3.3"/>
<circle cx="588.35" cy="1236.27" r="3.3"/>
<circle cx="593.01" cy="1235.04" r="3.3"/>
<circle cx="598.65" cy="1235.76" r="3.3"/>
<circle cx="574.19" cy="1240.02" r="3.3"/>
<circle cx="580.05" cy="1238.84" r="3.3"/>
<circle cx="584.57" cy="1238.56" r="3.3"/>
<circle cx="590.12" cy="1239.75" r="3.3"/>
<circle cx="594.59" cy="1240.36" r="3.3"/>
<circle cx="577.33" cy="1243.65" r="3.3"/>
<circle cx="581.71" cy="1243.44" r="3.3"/>
<circle cx="586.38" cy="1243.52" r="3.3"/>
<circle cx="590.96" cy="1244.42" r="3.3"/>
<circle cx="577.21" cy="1248.57" r="3.3"/>
<circle cx="582.39" cy="1247.38" r="3.3"/>
<circle cx="586.23" cy="1248.4" r="3.3"/>
<circle cx="591.49" cy="1247.91" r="3.3"/>
<circle cx="578.26" cy="1251.74" r="3.3"/>
<circle cx="582.8" cy="1251.47" r="3.3"/>
<circle cx="587.49" cy="1252.74" r="3.3"/>
<circle cx="592.31" cy="1251.87" r="3.3"/>
<circle cx="578.81" cy="1256.27" r="3.3"/>
<circle cx="584.53" cy="1256.72" r="3.3"/>
<circle cx="591.32" cy="1256.28" r="3.3"/>
<circle cx="580.9" cy="1260.66" r="3.3"/>
<circle cx="588.5" cy="1260.56" r="3.3"/>
<circle cx="581.81" cy="1263.74" r="3.3"/>
<circle cx="586.82" cy="1263.46" r="3.3"/>
<circle cx="583.81" cy="1267.57" r="3.3"/>
<circle cx="581.77" cy="1272.34" r="3.3"/>
<circle cx="586.94" cy="1271.95" r="3.3"/>
<circle cx="580.64" cy="1276.87" r="3.3"/>
<circle cx="587.68" cy="1275.88" r="3.3"/>
<circle cx="581.29" cy="1281.03" r="3.3"/>
<circle cx="588.33" cy="1279.62" r="3.3"/>
<circle cx="581.65" cy="1284.2" r="3.3"/>
<circle cx="588.55" cy="1284.37" r="3.3"/>
<circle cx="581.27" cy="1288.32" r="3.3"/>
<circle cx="588.32" cy="1288.03" r="3.3"/>
<circle cx="583.44" cy="1292.63" r="3.3"/>
<circle cx="586.58" cy="1292.34" r="3.3"/>
<circle cx="584.44" cy="1296.89" r="3.3"/>
<circle cx="583.81" cy="1301.46" r="3.3"/>
<circle cx="583.76" cy="1304.18" r="3.3"/>
<circle cx="571.3" cy="1187.5" r="3.3"/>
<circle cx="576.59" cy="1187.5" r="3.3"/>
<circle cx="581.87" cy="1187.5" r="3.3"/>
<circle cx="587.16" cy="1187.5" r="3.3"/>
<circle cx="592.45" cy="1187.5" r="3.3"/>
<circle cx="597.74" cy="1187.5" r="3.3"/>
<circle cx="555.23" cy="1218.21" r="3.3"/>
<circle cx="560.82" cy="1218.21" r="3.3"/>
<circle cx="566.41" cy="1218.21" r="3.3"/>
<circle cx="572" cy="1218.21" r="3.3"/>
<circle cx="577.59" cy="1218.21" r="3.3"/>
<circle cx="583.18" cy="1218.21" r="3.3"/>
<circle cx="588.77" cy="1218.21" r="3.3"/>
<circle cx="594.36" cy="1218.21" r="3.3"/>
<circle cx="599.95" cy="1218.21" r="3.3"/>
<circle cx="605.54" cy="1218.21" r="3.3"/>
<circle cx="611.13" cy="1218.21" r="3.3"/>
<circle cx="583.71" cy="1132.14" r="3.3"/>
<circle cx="583.71" cy="1150.89" r="3.3"/>
<circle cx="583.71" cy="1316.96" r="3.3"/>
<circle cx="583.71" cy="1395.54" r="3.3"/>
<circle cx="687.13" cy="1199.1" r="3.3"/>
<circle cx="692.68" cy="1198.59" r="3.3"/>
<circle cx="698.29" cy="1198.76" r="3.3"/>
<circle cx="691.6" cy="1202.2" r="3.3"/>
<circle cx="694.31" cy="1203.12" r="3.3"/>
<circle cx="690.04" cy="1206.36" r="3.3"/>
<circle cx="696.57" cy="1206.27" r="3.3"/>
<circle cx="688.12" cy="1211.11" r="3.3"/>
<circle cx="694.03" cy="1210.38" r="3.3"/>
<circle cx="699.53" cy="1210.86" r="3.3"/>
<circle cx="688.97" cy="1215.01" r="3.3"/>
<circle cx="693.68" cy="1215.36" r="3.3"/>
<circle cx="698.24" cy="1215.79" r="3.3"/>
<circle cx="690.2" cy="1218.67" r="3.3"/>
<circle cx="695.34" cy="1219.64" r="3.3"/>
<circle cx="690.56" cy="1223.62" r="3.3"/>
<circle cx="693.88" cy="1222.55" r="3.3"/>
<circle cx="690.78" cy="1226.53" r="3.3"/>
<circle cx="694.2" cy="1227.84" r="3.3"/>
<circle cx="690.66" cy="1230.66" r="3.3"/>
<circle cx="694.26" cy="1232.18" r="3.3"/>
<circle cx="690.58" cy="1236.07" r="3.3"/>
<circle cx="694.9" cy="1236.29" r="3.3"/>
<circle cx="692.61" cy="1239.41" r="3.3"/>
<circle cx="692.36" cy="1242.82" r="3.3"/>
<circle cx="692.11" cy="1247.52" r="3.3"/>
<circle cx="693.11" cy="1250.9" r="3.3"/>
<circle cx="687.37" cy="1198.57" r="3.3"/>
<circle cx="693" cy="1198.57" r="3.3"/>
<circle cx="698.63" cy="1198.57" r="3.3"/>
<circle cx="687.37" cy="1212.5" r="3.3"/>
<circle cx="694.34" cy="1212.5" r="3.3"/>
<circle cx="701.31" cy="1212.5" r="3.3"/>
<circle cx="692.46" cy="1166.07" r="3.3"/>
<circle cx="692.46" cy="1170" r="3.3"/>
<circle cx="692.46" cy="1189.29" r="3.3"/>
<circle cx="690.32" cy="1286.61" r="3.3"/>
<circle cx="695.68" cy="1286.61" r="3.3"/>
<circle cx="690.32" cy="1291.07" r="3.3"/>
<circle cx="694.79" cy="1291.07" r="3.3"/>
<circle cx="693" cy="1289.29" r="3.3"/>
<circle cx="692.11" cy="1300" r="3.3"/>
<circle cx="695.68" cy="1300" r="3.3"/>
<circle cx="801.93" cy="1202.32" r="3.3"/>
<circle cx="801.93" cy="1260.71" r="3.3"/>
<circle cx="801.93" cy="1271.43" r="3.3"/>
<circle cx="804.61" cy="1272.32" r="3.3"/>
<circle cx="801.04" cy="1274.11" r="3.3"/>
<circle cx="801.93" cy="1291.07" r="3.3"/>
<circle cx="801.93" cy="1293.75" r="3.3"/>
</g>
<path d="M576.93 1222.32H591.21M583.71 1215.18V1229.46" stroke="#CC2A2E" stroke-width="1.8" fill="none"/>
<path d="M685.32 1228.93H699.61M692.46 1222.32V1236.61" stroke="#CC2A2E" stroke-width="1.8" fill="none"/>
<path d="M794.43 1266.43H808.71M801.93 1255.71V1277.68" stroke="#CC2A2E" stroke-width="1.8" fill="none"/>
<rect x="518.3" y="1104.4" width="348.7" height="304.9" fill="none" stroke="#B3B3B3" stroke-width="1.3"/>
<line x1="514.1" y1="1131.25" x2="518.3" y2="1131.25" stroke="#B3B3B3" stroke-width="1.3"/>
<text x="510.7" y="1139.65" fill="#333333" font-size="24" text-anchor="end">10</text>
<line x1="514.1" y1="1202.3" x2="518.3" y2="1202.3" stroke="#B3B3B3" stroke-width="1.3"/>
<text x="510.7" y="1210.7" fill="#333333" font-size="24" text-anchor="end">5</text>
<line x1="514.1" y1="1274.5" x2="518.3" y2="1274.5" stroke="#B3B3B3" stroke-width="1.3"/>
<text x="510.7" y="1282.9" fill="#333333" font-size="24" text-anchor="end">0</text>
<line x1="514.1" y1="1345.9" x2="518.3" y2="1345.9" stroke="#B3B3B3" stroke-width="1.3"/>
<text x="510.7" y="1354.3" fill="#333333" font-size="24" text-anchor="end">−5</text>
<line x1="583.7" y1="1409.3" x2="583.7" y2="1413.5" stroke="#B3B3B3" stroke-width="1.3"/>
<text transform="translate(595.8,1427.3) rotate(-40)" fill="#333333" font-size="24.5" text-anchor="end">no inhibition</text>
<line x1="692.5" y1="1409.3" x2="692.5" y2="1413.5" stroke="#B3B3B3" stroke-width="1.3"/>
<text transform="translate(704.6,1427.3) rotate(-40)" fill="#333333" font-size="24.5" text-anchor="end">up to 3</text>
<line x1="801.9" y1="1409.3" x2="801.9" y2="1413.5" stroke="#B3B3B3" stroke-width="1.3"/>
<text transform="translate(814,1427.3) rotate(-40)" fill="#333333" font-size="24.5" text-anchor="end">more than 3</text>
<text x="518" y="1094.2" fill="#000" font-size="29" letter-spacing="0.12">XLogP</text>
<path d="M583.7 1126.4V1118.5H801.9V1126.4" stroke="#444" stroke-width="1.3" fill="none"/>
<text x="858.2" y="1151.5" fill="#000" font-size="24" text-anchor="end"><tspan font-style="italic">P</tspan>=7.89e-03</text>
<rect x="899.2" y="1104.4" width="357.4" height="304.9" fill="#fff"/>
<line x1="899.2" y1="1167" x2="1256.6" y2="1167" stroke="#F0F0F0" stroke-width="0.8"/>
<line x1="899.2" y1="1258" x2="1256.6" y2="1258" stroke="#F0F0F0" stroke-width="0.8"/>
<line x1="899.2" y1="1349.3" x2="1256.6" y2="1349.3" stroke="#F0F0F0" stroke-width="0.8"/>
<line x1="899.2" y1="1121.7" x2="1256.6" y2="1121.7" stroke="#EAEAEA" stroke-width="0.95"/>
<line x1="899.2" y1="1212.6" x2="1256.6" y2="1212.6" stroke="#EAEAEA" stroke-width="0.95"/>
<line x1="899.2" y1="1303.9" x2="1256.6" y2="1303.9" stroke="#EAEAEA" stroke-width="0.95"/>
<line x1="899.2" y1="1394.8" x2="1256.6" y2="1394.8" stroke="#EAEAEA" stroke-width="0.95"/>
<line x1="966.5" y1="1104.4" x2="966.5" y2="1409.3" stroke="#EAEAEA" stroke-width="0.95"/>
<line x1="1078" y1="1104.4" x2="1078" y2="1409.3" stroke="#EAEAEA" stroke-width="0.95"/>
<line x1="1189.5" y1="1104.4" x2="1189.5" y2="1409.3" stroke="#EAEAEA" stroke-width="0.95"/>
<g fill="#7D918E" fill-opacity="0.62" stroke="#1C2626" stroke-width="1">
<circle cx="966.7" cy="1178" r="3.3"/>
<circle cx="966" cy="1182.18" r="3.3"/>
<circle cx="962.49" cy="1186.26" r="3.3"/>
<circle cx="969.32" cy="1185.47" r="3.3"/>
<circle cx="960.62" cy="1189.48" r="3.3"/>
<circle cx="966.9" cy="1190.4" r="3.3"/>
<circle cx="971.71" cy="1188.64" r="3.3"/>
<circle cx="958.66" cy="1193" r="3.3"/>
<circle cx="963.59" cy="1193.7" r="3.3"/>
<circle cx="967.72" cy="1194.24" r="3.3"/>
<circle cx="971.94" cy="1194.01" r="3.3"/>
<circle cx="956.31" cy="1197.35" r="3.3"/>
<circle cx="961.54" cy="1197.08" r="3.3"/>
<circle cx="966.56" cy="1198.28" r="3.3"/>
<circle cx="972.01" cy="1197.15" r="3.3"/>
<circle cx="952.33" cy="1200.95" r="3.3"/>
<circle cx="957.41" cy="1200.95" r="3.3"/>
<circle cx="963.6" cy="1202.52" r="3.3"/>
<circle cx="968.99" cy="1201.67" r="3.3"/>
<circle cx="973.41" cy="1202.01" r="3.3"/>
<circle cx="978.53" cy="1202.26" r="3.3"/>
<circle cx="950.58" cy="1205.74" r="3.3"/>
<circle cx="955.99" cy="1206.34" r="3.3"/>
<circle cx="961.3" cy="1205.25" r="3.3"/>
<circle cx="966.81" cy="1206" r="3.3"/>
<circle cx="971.52" cy="1205.97" r="3.3"/>
<circle cx="978" cy="1205.51" r="3.3"/>
<circle cx="983.33" cy="1206.8" r="3.3"/>
<circle cx="952.97" cy="1210.14" r="3.3"/>
<circle cx="957.55" cy="1209.23" r="3.3"/>
<circle cx="962.83" cy="1209.5" r="3.3"/>
<circle cx="968.43" cy="1210.44" r="3.3"/>
<circle cx="974.48" cy="1210.56" r="3.3"/>
<circle cx="979.04" cy="1210.49" r="3.3"/>
<circle cx="940.38" cy="1213.14" r="3.3"/>
<circle cx="945.67" cy="1214.07" r="3.3"/>
<circle cx="950.81" cy="1214.86" r="3.3"/>
<circle cx="955.35" cy="1213.34" r="3.3"/>
<circle cx="960.85" cy="1213.13" r="3.3"/>
<circle cx="966.26" cy="1214.33" r="3.3"/>
<circle cx="971.19" cy="1213.12" r="3.3"/>
<circle cx="976.43" cy="1214.7" r="3.3"/>
<circle cx="981.38" cy="1214.64" r="3.3"/>
<circle cx="986.02" cy="1214.18" r="3.3"/>
<circle cx="991.23" cy="1214.58" r="3.3"/>
<circle cx="948.79" cy="1217.68" r="3.3"/>
<circle cx="953.57" cy="1219.15" r="3.3"/>
<circle cx="958.99" cy="1217.78" r="3.3"/>
<circle cx="964.7" cy="1217.8" r="3.3"/>
<circle cx="970.01" cy="1218.39" r="3.3"/>
<circle cx="975.48" cy="1217.7" r="3.3"/>
<circle cx="981.54" cy="1218.61" r="3.3"/>
<circle cx="986.84" cy="1217.35" r="3.3"/>
<circle cx="951.79" cy="1223.06" r="3.3"/>
<circle cx="956.87" cy="1221.89" r="3.3"/>
<circle cx="962.52" cy="1222.42" r="3.3"/>
<circle cx="967.53" cy="1221.49" r="3.3"/>
<circle cx="972.74" cy="1222.08" r="3.3"/>
<circle cx="977.89" cy="1222.24" r="3.3"/>
<circle cx="984.36" cy="1221.92" r="3.3"/>
<circle cx="953.08" cy="1226.92" r="3.3"/>
<circle cx="957.36" cy="1226.15" r="3.3"/>
<circle cx="961.88" cy="1225.82" r="3.3"/>
<circle cx="967.05" cy="1226.62" r="3.3"/>
<circle cx="971.97" cy="1226.59" r="3.3"/>
<circle cx="976.3" cy="1226.7" r="3.3"/>
<circle cx="981.34" cy="1226.36" r="3.3"/>
<circle cx="948.37" cy="1230.96" r="3.3"/>
<circle cx="953.17" cy="1230.13" r="3.3"/>
<circle cx="958.08" cy="1230.19" r="3.3"/>
<circle cx="963.23" cy="1229.54" r="3.3"/>
<circle cx="968.12" cy="1229.87" r="3.3"/>
<circle cx="973.09" cy="1230.7" r="3.3"/>
<circle cx="978.66" cy="1230.28" r="3.3"/>
<circle cx="982.99" cy="1230.84" r="3.3"/>
<circle cx="943.36" cy="1234.36" r="3.3"/>
<circle cx="948.1" cy="1233.86" r="3.3"/>
<circle cx="953.91" cy="1234.17" r="3.3"/>
<circle cx="959.02" cy="1234.77" r="3.3"/>
<circle cx="963.96" cy="1235" r="3.3"/>
<circle cx="969.7" cy="1234.41" r="3.3"/>
<circle cx="974.85" cy="1235.3" r="3.3"/>
<circle cx="980.17" cy="1233.58" r="3.3"/>
<circle cx="985.74" cy="1235.22" r="3.3"/>
<circle cx="943.78" cy="1239.63" r="3.3"/>
<circle cx="949.34" cy="1238.34" r="3.3"/>
<circle cx="953.98" cy="1238.64" r="3.3"/>
<circle cx="959.15" cy="1238.53" r="3.3"/>
<circle cx="963.81" cy="1238.62" r="3.3"/>
<circle cx="969.54" cy="1238.9" r="3.3"/>
<circle cx="974.93" cy="1239.37" r="3.3"/>
<circle cx="980.06" cy="1238.18" r="3.3"/>
<circle cx="984.6" cy="1238.74" r="3.3"/>
<circle cx="944.75" cy="1243.18" r="3.3"/>
<circle cx="949.93" cy="1242.72" r="3.3"/>
<circle cx="955.18" cy="1241.82" r="3.3"/>
<circle cx="959.92" cy="1241.97" r="3.3"/>
<circle cx="964.73" cy="1242.27" r="3.3"/>
<circle cx="970.41" cy="1243" r="3.3"/>
<circle cx="975.65" cy="1243.55" r="3.3"/>
<circle cx="979.97" cy="1242.85" r="3.3"/>
<circle cx="985.86" cy="1241.94" r="3.3"/>
<circle cx="944.33" cy="1246.59" r="3.3"/>
<circle cx="949.56" cy="1247.51" r="3.3"/>
<circle cx="955.22" cy="1247.11" r="3.3"/>
<circle cx="960.32" cy="1247.82" r="3.3"/>
<circle cx="965.87" cy="1247.77" r="3.3"/>
<circle cx="971.64" cy="1247.77" r="3.3"/>
<circle cx="976.54" cy="1247.79" r="3.3"/>
<circle cx="982.23" cy="1246.94" r="3.3"/>
<circle cx="987.15" cy="1247.24" r="3.3"/>
<circle cx="951.35" cy="1250.39" r="3.3"/>
<circle cx="956.37" cy="1251" r="3.3"/>
<circle cx="961.83" cy="1250.45" r="3.3"/>
<circle cx="966.94" cy="1251.66" r="3.3"/>
<circle cx="973.14" cy="1251.25" r="3.3"/>
<circle cx="978.5" cy="1251.79" r="3.3"/>
<circle cx="983.61" cy="1251.85" r="3.3"/>
<circle cx="954.33" cy="1254.2" r="3.3"/>
<circle cx="959.99" cy="1254.17" r="3.3"/>
<circle cx="964.84" cy="1255.53" r="3.3"/>
<circle cx="969.56" cy="1254.07" r="3.3"/>
<circle cx="974.69" cy="1254.84" r="3.3"/>
<circle cx="979.38" cy="1255.39" r="3.3"/>
<circle cx="955.24" cy="1259.3" r="3.3"/>
<circle cx="960.33" cy="1259.03" r="3.3"/>
<circle cx="965.65" cy="1259.83" r="3.3"/>
<circle cx="971.03" cy="1260.01" r="3.3"/>
<circle cx="976.64" cy="1259.16" r="3.3"/>
<circle cx="958.8" cy="1262.37" r="3.3"/>
<circle cx="963.25" cy="1263.81" r="3.3"/>
<circle cx="968.84" cy="1264.11" r="3.3"/>
<circle cx="973.92" cy="1264.18" r="3.3"/>
<circle cx="962.53" cy="1267.9" r="3.3"/>
<circle cx="970.68" cy="1268.35" r="3.3"/>
<circle cx="964.09" cy="1271.7" r="3.3"/>
<circle cx="970.16" cy="1270.79" r="3.3"/>
<circle cx="964.25" cy="1274.71" r="3.3"/>
<circle cx="972.12" cy="1275.9" r="3.3"/>
<circle cx="963.7" cy="1279.34" r="3.3"/>
<circle cx="970.15" cy="1279.9" r="3.3"/>
<circle cx="963.41" cy="1282.92" r="3.3"/>
<circle cx="968.67" cy="1284.5" r="3.3"/>
<circle cx="949.98" cy="1204.7" r="3.3"/>
<circle cx="955.61" cy="1204.7" r="3.3"/>
<circle cx="961.25" cy="1204.7" r="3.3"/>
<circle cx="966.88" cy="1204.7" r="3.3"/>
<circle cx="972.52" cy="1204.7" r="3.3"/>
<circle cx="978.15" cy="1204.7" r="3.3"/>
<circle cx="983.79" cy="1204.7" r="3.3"/>
<circle cx="938.96" cy="1213.52" r="3.3"/>
<circle cx="944.86" cy="1213.52" r="3.3"/>
<circle cx="950.76" cy="1213.52" r="3.3"/>
<circle cx="956.66" cy="1213.52" r="3.3"/>
<circle cx="962.56" cy="1213.52" r="3.3"/>
<circle cx="968.46" cy="1213.52" r="3.3"/>
<circle cx="974.36" cy="1213.52" r="3.3"/>
<circle cx="980.26" cy="1213.52" r="3.3"/>
<circle cx="986.16" cy="1213.52" r="3.3"/>
<circle cx="992.05" cy="1213.52" r="3.3"/>
<circle cx="966.52" cy="1165.76" r="3.3"/>
<circle cx="966.52" cy="1171.64" r="3.3"/>
<circle cx="946.13" cy="1291.95" r="3.3"/>
<circle cx="950.9" cy="1291.95" r="3.3"/>
<circle cx="955.68" cy="1291.95" r="3.3"/>
<circle cx="960.45" cy="1291.95" r="3.3"/>
<circle cx="965.23" cy="1291.95" r="3.3"/>
<circle cx="970.01" cy="1291.95" r="3.3"/>
<circle cx="974.78" cy="1291.95" r="3.3"/>
<circle cx="979.56" cy="1291.95" r="3.3"/>
<circle cx="984.33" cy="1291.95" r="3.3"/>
<circle cx="953.11" cy="1294.71" r="3.3"/>
<circle cx="957.88" cy="1294.71" r="3.3"/>
<circle cx="962.66" cy="1294.71" r="3.3"/>
<circle cx="967.43" cy="1294.71" r="3.3"/>
<circle cx="972.21" cy="1294.71" r="3.3"/>
<circle cx="976.99" cy="1294.71" r="3.3"/>
<circle cx="981.76" cy="1294.71" r="3.3"/>
<circle cx="969.64" cy="1302.98" r="3.3"/>
<circle cx="966.33" cy="1305.73" r="3.3"/>
<circle cx="966.33" cy="1308.49" r="3.3"/>
<circle cx="962.29" cy="1315.83" r="3.3"/>
<circle cx="966.33" cy="1315.83" r="3.3"/>
<circle cx="970.56" cy="1315.83" r="3.3"/>
<circle cx="973.31" cy="1315.83" r="3.3"/>
<circle cx="965.6" cy="1338.8" r="3.3"/>
<circle cx="969.64" cy="1338.8" r="3.3"/>
<circle cx="965.6" cy="1395.74" r="3.3"/>
<circle cx="969.64" cy="1395.74" r="3.3"/>
<circle cx="1075.16" cy="1183.51" r="3.3"/>
<circle cx="1081.02" cy="1183.59" r="3.3"/>
<circle cx="1077.06" cy="1187.67" r="3.3"/>
<circle cx="1080.15" cy="1186.88" r="3.3"/>
<circle cx="1079.15" cy="1190.89" r="3.3"/>
<circle cx="1079.72" cy="1195.91" r="3.3"/>
<circle cx="1078.8" cy="1198.25" r="3.3"/>
<circle cx="1078.76" cy="1202.61" r="3.3"/>
<circle cx="1078.92" cy="1207.41" r="3.3"/>
<circle cx="1078.71" cy="1212.05" r="3.3"/>
<circle cx="1076.67" cy="1215.92" r="3.3"/>
<circle cx="1080.56" cy="1215.16" r="3.3"/>
<circle cx="1075.75" cy="1218.99" r="3.3"/>
<circle cx="1080.48" cy="1220.19" r="3.3"/>
<circle cx="1074.98" cy="1223.16" r="3.3"/>
<circle cx="1081.19" cy="1222.86" r="3.3"/>
<circle cx="1075.98" cy="1226.97" r="3.3"/>
<circle cx="1082.63" cy="1228.53" r="3.3"/>
<circle cx="1078.1" cy="1231.78" r="3.3"/>
<circle cx="1082.61" cy="1232.12" r="3.3"/>
<circle cx="1076.81" cy="1236.47" r="3.3"/>
<circle cx="1081.9" cy="1235.85" r="3.3"/>
<circle cx="1076.92" cy="1240.55" r="3.3"/>
<circle cx="1080.63" cy="1239.47" r="3.3"/>
<circle cx="1075.48" cy="1244.31" r="3.3"/>
<circle cx="1079.94" cy="1244.28" r="3.3"/>
<circle cx="1073.86" cy="1247.92" r="3.3"/>
<circle cx="1081.41" cy="1249.21" r="3.3"/>
<circle cx="1073.15" cy="1252.55" r="3.3"/>
<circle cx="1076.54" cy="1251.64" r="3.3"/>
<circle cx="1080.64" cy="1251.91" r="3.3"/>
<circle cx="1074.06" cy="1256.95" r="3.3"/>
<circle cx="1081.57" cy="1257.08" r="3.3"/>
<circle cx="1075.48" cy="1261.1" r="3.3"/>
<circle cx="1081.5" cy="1259.65" r="3.3"/>
<circle cx="1077.88" cy="1264.68" r="3.3"/>
<circle cx="1081.63" cy="1265.47" r="3.3"/>
<circle cx="1074.89" cy="1182.66" r="3.3"/>
<circle cx="1081.14" cy="1182.66" r="3.3"/>
<circle cx="1077.1" cy="1292.51" r="3.3"/>
<circle cx="1080.77" cy="1292.51" r="3.3"/>
<circle cx="1078.01" cy="1315.83" r="3.3"/>
<circle cx="1077.1" cy="1338.8" r="3.3"/>
<circle cx="1080.77" cy="1338.8" r="3.3"/>
<circle cx="1189.51" cy="1189.46" r="3.3"/>
<circle cx="1189.51" cy="1195.89" r="3.3"/>
<circle cx="1189.51" cy="1202.87" r="3.3"/>
<circle cx="1191.9" cy="1206.54" r="3.3"/>
<circle cx="1187.31" cy="1210.21" r="3.3"/>
<circle cx="1191.9" cy="1212.05" r="3.3"/>
<circle cx="1189.51" cy="1215.72" r="3.3"/>
<circle cx="1189.51" cy="1259.81" r="3.3"/>
</g>
<path d="M959.54 1238.13H974.23M966.88 1231.34V1245.11" stroke="#CC2A2E" stroke-width="1.8" fill="none"/>
<path d="M1070.67 1239.05H1085.36M1078.01 1232.26V1246.03" stroke="#CC2A2E" stroke-width="1.8" fill="none"/>
<path d="M1182.35 1211.68H1197.04M1189.51 1205.62V1218.48" stroke="#CC2A2E" stroke-width="1.8" fill="none"/>
<rect x="899.2" y="1104.4" width="357.4" height="304.9" fill="none" stroke="#B3B3B3" stroke-width="1.3"/>
<line x1="895" y1="1121.7" x2="899.2" y2="1121.7" stroke="#B3B3B3" stroke-width="1.3"/>
<text x="891.6" y="1130.1" fill="#333333" font-size="24" text-anchor="end">3</text>
<line x1="895" y1="1212.6" x2="899.2" y2="1212.6" stroke="#B3B3B3" stroke-width="1.3"/>
<text x="891.6" y="1221" fill="#333333" font-size="24" text-anchor="end">2</text>
<line x1="895" y1="1303.9" x2="899.2" y2="1303.9" stroke="#B3B3B3" stroke-width="1.3"/>
<text x="891.6" y="1312.3" fill="#333333" font-size="24" text-anchor="end">1</text>
<line x1="895" y1="1394.8" x2="899.2" y2="1394.8" stroke="#B3B3B3" stroke-width="1.3"/>
<text x="891.6" y="1403.2" fill="#333333" font-size="24" text-anchor="end">0</text>
<line x1="966.5" y1="1409.3" x2="966.5" y2="1413.5" stroke="#B3B3B3" stroke-width="1.3"/>
<text transform="translate(978.6,1427.3) rotate(-40)" fill="#333333" font-size="24.5" text-anchor="end">no inhibition</text>
<line x1="1078" y1="1409.3" x2="1078" y2="1413.5" stroke="#B3B3B3" stroke-width="1.3"/>
<text transform="translate(1090.1,1427.3) rotate(-40)" fill="#333333" font-size="24.5" text-anchor="end">up to 3</text>
<line x1="1189.5" y1="1409.3" x2="1189.5" y2="1413.5" stroke="#B3B3B3" stroke-width="1.3"/>
<text transform="translate(1201.6,1427.3) rotate(-40)" fill="#333333" font-size="24.5" text-anchor="end">more than 3</text>
<text x="899" y="1094.2" fill="#000" font-size="29" letter-spacing="0.12">TPSA (log<tspan font-size="16.5" dx="1.6" dy="9.2">10</tspan><tspan dx="-0.8" dy="-9.2">)</tspan></text>
<path d="M1078 1125.2V1118.5H1189.5V1125.2" stroke="#444" stroke-width="1.3" fill="none"/>
<path d="M966.5 1150.3V1143.6H1189.5V1150.3" stroke="#444" stroke-width="1.3" fill="none"/>
<text x="1235" y="1140.2" fill="#000" font-size="24" text-anchor="end"><tspan font-style="italic">P</tspan>=2.69e-02</text>
<text x="1247.7" y="1173" fill="#000" font-size="24" text-anchor="end"><tspan font-style="italic">P</tspan>=1.83e-02</text>
<rect x="1299.7" y="1104.4" width="345.7" height="304.9" fill="#fff"/>
<line x1="1299.7" y1="1145.5" x2="1645.4" y2="1145.5" stroke="#F0F0F0" stroke-width="0.8"/>
<line x1="1299.7" y1="1263.4" x2="1645.4" y2="1263.4" stroke="#F0F0F0" stroke-width="0.8"/>
<line x1="1299.7" y1="1381.3" x2="1645.4" y2="1381.3" stroke="#F0F0F0" stroke-width="0.8"/>
<line x1="1299.7" y1="1204.5" x2="1645.4" y2="1204.5" stroke="#EAEAEA" stroke-width="0.95"/>
<line x1="1299.7" y1="1322.3" x2="1645.4" y2="1322.3" stroke="#EAEAEA" stroke-width="0.95"/>
<line x1="1364.6" y1="1104.4" x2="1364.6" y2="1409.3" stroke="#EAEAEA" stroke-width="0.95"/>
<line x1="1472.5" y1="1104.4" x2="1472.5" y2="1409.3" stroke="#EAEAEA" stroke-width="0.95"/>
<line x1="1580.5" y1="1104.4" x2="1580.5" y2="1409.3" stroke="#EAEAEA" stroke-width="0.95"/>
<g fill="#7D918E" fill-opacity="0.62" stroke="#1C2626" stroke-width="1">
<circle cx="1361.78" cy="1202.09" r="3.3"/>
<circle cx="1366.35" cy="1201.24" r="3.3"/>
<circle cx="1360.51" cy="1206.03" r="3.3"/>
<circle cx="1364.98" cy="1205.33" r="3.3"/>
<circle cx="1368.91" cy="1206.56" r="3.3"/>
<circle cx="1361.62" cy="1210.04" r="3.3"/>
<circle cx="1368.22" cy="1209.47" r="3.3"/>
<circle cx="1363.41" cy="1214.76" r="3.3"/>
<circle cx="1366.55" cy="1214.1" r="3.3"/>
<circle cx="1362.6" cy="1218.29" r="3.3"/>
<circle cx="1366.16" cy="1218.85" r="3.3"/>
<circle cx="1363.05" cy="1223.01" r="3.3"/>
<circle cx="1365.95" cy="1222.48" r="3.3"/>
<circle cx="1363.27" cy="1226.94" r="3.3"/>
<circle cx="1366" cy="1227.02" r="3.3"/>
<circle cx="1363.09" cy="1230.61" r="3.3"/>
<circle cx="1366.28" cy="1229.72" r="3.3"/>
<circle cx="1363.46" cy="1235.29" r="3.3"/>
<circle cx="1366.29" cy="1234.78" r="3.3"/>
<circle cx="1360.99" cy="1237.75" r="3.3"/>
<circle cx="1364.99" cy="1237.73" r="3.3"/>
<circle cx="1368.83" cy="1238.95" r="3.3"/>
<circle cx="1358.62" cy="1242.34" r="3.3"/>
<circle cx="1364.91" cy="1242.62" r="3.3"/>
<circle cx="1372.03" cy="1243.62" r="3.3"/>
<circle cx="1354.99" cy="1246.28" r="3.3"/>
<circle cx="1360.37" cy="1247.06" r="3.3"/>
<circle cx="1364.94" cy="1247.8" r="3.3"/>
<circle cx="1369.49" cy="1246.49" r="3.3"/>
<circle cx="1374.05" cy="1247.35" r="3.3"/>
<circle cx="1353.37" cy="1251.57" r="3.3"/>
<circle cx="1358.36" cy="1251" r="3.3"/>
<circle cx="1364.5" cy="1250.76" r="3.3"/>
<circle cx="1370.45" cy="1250.79" r="3.3"/>
<circle cx="1376.3" cy="1251.35" r="3.3"/>
<circle cx="1352.61" cy="1255.49" r="3.3"/>
<circle cx="1358.06" cy="1254.56" r="3.3"/>
<circle cx="1362.62" cy="1254.58" r="3.3"/>
<circle cx="1366.84" cy="1255.14" r="3.3"/>
<circle cx="1371.62" cy="1254.2" r="3.3"/>
<circle cx="1376.73" cy="1255.99" r="3.3"/>
<circle cx="1354.39" cy="1259.43" r="3.3"/>
<circle cx="1359.93" cy="1259.09" r="3.3"/>
<circle cx="1365.01" cy="1258.6" r="3.3"/>
<circle cx="1370.56" cy="1258.24" r="3.3"/>
<circle cx="1374.85" cy="1259.99" r="3.3"/>
<circle cx="1356.12" cy="1262.57" r="3.3"/>
<circle cx="1360.29" cy="1263.05" r="3.3"/>
<circle cx="1365.61" cy="1262.98" r="3.3"/>
<circle cx="1370.09" cy="1264.07" r="3.3"/>
<circle cx="1374.9" cy="1262.89" r="3.3"/>
<circle cx="1356.04" cy="1267.44" r="3.3"/>
<circle cx="1361.47" cy="1266.99" r="3.3"/>
<circle cx="1366.41" cy="1268.36" r="3.3"/>
<circle cx="1371.23" cy="1267.32" r="3.3"/>
<circle cx="1376.25" cy="1266.87" r="3.3"/>
<circle cx="1354.74" cy="1271.71" r="3.3"/>
<circle cx="1360.69" cy="1271.52" r="3.3"/>
<circle cx="1365.83" cy="1271.79" r="3.3"/>
<circle cx="1370.96" cy="1270.91" r="3.3"/>
<circle cx="1376.74" cy="1271.07" r="3.3"/>
<circle cx="1352.77" cy="1275" r="3.3"/>
<circle cx="1357.09" cy="1275.52" r="3.3"/>
<circle cx="1363.02" cy="1275.31" r="3.3"/>
<circle cx="1367.64" cy="1276.34" r="3.3"/>
<circle cx="1371.46" cy="1275.6" r="3.3"/>
<circle cx="1376.7" cy="1275.29" r="3.3"/>
<circle cx="1349.54" cy="1279.13" r="3.3"/>
<circle cx="1355.52" cy="1280.13" r="3.3"/>
<circle cx="1360.49" cy="1279.12" r="3.3"/>
<circle cx="1366.65" cy="1279.82" r="3.3"/>
<circle cx="1371.39" cy="1279.15" r="3.3"/>
<circle cx="1377.53" cy="1280.54" r="3.3"/>
<circle cx="1347.28" cy="1283.7" r="3.3"/>
<circle cx="1351.93" cy="1283.34" r="3.3"/>
<circle cx="1357.11" cy="1284.2" r="3.3"/>
<circle cx="1362.75" cy="1282.81" r="3.3"/>
<circle cx="1368.74" cy="1284.31" r="3.3"/>
<circle cx="1373.19" cy="1284.62" r="3.3"/>
<circle cx="1378.46" cy="1282.83" r="3.3"/>
<circle cx="1349.35" cy="1287.33" r="3.3"/>
<circle cx="1355.71" cy="1288.86" r="3.3"/>
<circle cx="1360.95" cy="1288.8" r="3.3"/>
<circle cx="1367" cy="1287.79" r="3.3"/>
<circle cx="1372.02" cy="1286.91" r="3.3"/>
<circle cx="1378.07" cy="1288.34" r="3.3"/>
<circle cx="1355.87" cy="1292.87" r="3.3"/>
<circle cx="1360.21" cy="1292.08" r="3.3"/>
<circle cx="1365.06" cy="1292.8" r="3.3"/>
<circle cx="1369.2" cy="1291.05" r="3.3"/>
<circle cx="1374.42" cy="1291.77" r="3.3"/>
<circle cx="1356.86" cy="1297.02" r="3.3"/>
<circle cx="1361.79" cy="1295.43" r="3.3"/>
<circle cx="1366.47" cy="1295.46" r="3.3"/>
<circle cx="1371.13" cy="1296.49" r="3.3"/>
<circle cx="1357.15" cy="1299.37" r="3.3"/>
<circle cx="1362.47" cy="1301.09" r="3.3"/>
<circle cx="1367.75" cy="1301" r="3.3"/>
<circle cx="1373.02" cy="1299.93" r="3.3"/>
<circle cx="1353.88" cy="1304.5" r="3.3"/>
<circle cx="1357.94" cy="1303.65" r="3.3"/>
<circle cx="1363.58" cy="1305" r="3.3"/>
<circle cx="1368.48" cy="1304.57" r="3.3"/>
<circle cx="1373.75" cy="1304.67" r="3.3"/>
<circle cx="1378.28" cy="1303.38" r="3.3"/>
<circle cx="1358.19" cy="1308.72" r="3.3"/>
<circle cx="1362.95" cy="1309.26" r="3.3"/>
<circle cx="1368.65" cy="1309.3" r="3.3"/>
<circle cx="1372.59" cy="1307.61" r="3.3"/>
<circle cx="1359.03" cy="1313.32" r="3.3"/>
<circle cx="1363.65" cy="1311.63" r="3.3"/>
<circle cx="1367.93" cy="1313.04" r="3.3"/>
<circle cx="1372.49" cy="1312.53" r="3.3"/>
<circle cx="1356.04" cy="1316.1" r="3.3"/>
<circle cx="1361.94" cy="1316.33" r="3.3"/>
<circle cx="1368.32" cy="1316.12" r="3.3"/>
<circle cx="1373.68" cy="1317.37" r="3.3"/>
<circle cx="1354.57" cy="1321.55" r="3.3"/>
<circle cx="1360.18" cy="1320.22" r="3.3"/>
<circle cx="1364.99" cy="1320.73" r="3.3"/>
<circle cx="1370.82" cy="1321.1" r="3.3"/>
<circle cx="1376.15" cy="1320.52" r="3.3"/>
<circle cx="1351.58" cy="1324.69" r="3.3"/>
<circle cx="1357.83" cy="1325.07" r="3.3"/>
<circle cx="1362.38" cy="1325.01" r="3.3"/>
<circle cx="1368.37" cy="1325.39" r="3.3"/>
<circle cx="1373.5" cy="1324.18" r="3.3"/>
<circle cx="1379.26" cy="1324.93" r="3.3"/>
<circle cx="1353.28" cy="1329.83" r="3.3"/>
<circle cx="1360.07" cy="1327.93" r="3.3"/>
<circle cx="1365.21" cy="1327.93" r="3.3"/>
<circle cx="1370.78" cy="1329.81" r="3.3"/>
<circle cx="1377.12" cy="1329.54" r="3.3"/>
<circle cx="1356.75" cy="1333.52" r="3.3"/>
<circle cx="1362.36" cy="1333" r="3.3"/>
<circle cx="1367.76" cy="1332.43" r="3.3"/>
<circle cx="1373.37" cy="1332.77" r="3.3"/>
<circle cx="1358.59" cy="1337.77" r="3.3"/>
<circle cx="1363.02" cy="1336.9" r="3.3"/>
<circle cx="1366.64" cy="1337.84" r="3.3"/>
<circle cx="1372.15" cy="1336.76" r="3.3"/>
<circle cx="1358.12" cy="1341.66" r="3.3"/>
<circle cx="1362.78" cy="1340.81" r="3.3"/>
<circle cx="1366.61" cy="1341.73" r="3.3"/>
<circle cx="1371.08" cy="1340.48" r="3.3"/>
<circle cx="1358.6" cy="1344.48" r="3.3"/>
<circle cx="1363.1" cy="1344.71" r="3.3"/>
<circle cx="1366.98" cy="1345.18" r="3.3"/>
<circle cx="1371.36" cy="1345.39" r="3.3"/>
<circle cx="1360.43" cy="1349.96" r="3.3"/>
<circle cx="1364.59" cy="1350.26" r="3.3"/>
<circle cx="1368.81" cy="1349.73" r="3.3"/>
<circle cx="1362.49" cy="1353.23" r="3.3"/>
<circle cx="1365.25" cy="1353.57" r="3.3"/>
<circle cx="1364.06" cy="1356.73" r="3.3"/>
<circle cx="1363.64" cy="1362.16" r="3.3"/>
<circle cx="1361.55" cy="1365.67" r="3.3"/>
<circle cx="1365.43" cy="1365.83" r="3.3"/>
<circle cx="1359.42" cy="1370.3" r="3.3"/>
<circle cx="1366.98" cy="1369.4" r="3.3"/>
<circle cx="1359.69" cy="1373.35" r="3.3"/>
<circle cx="1366.92" cy="1373.77" r="3.3"/>
<circle cx="1364.33" cy="1378.7" r="3.3"/>
<circle cx="1365.08" cy="1382.05" r="3.3"/>
<circle cx="1360.23" cy="1207.14" r="3.3"/>
<circle cx="1364.96" cy="1207.14" r="3.3"/>
<circle cx="1369.7" cy="1207.14" r="3.3"/>
<circle cx="1352.19" cy="1253.57" r="3.3"/>
<circle cx="1358.36" cy="1253.57" r="3.3"/>
<circle cx="1364.52" cy="1253.57" r="3.3"/>
<circle cx="1370.68" cy="1253.57" r="3.3"/>
<circle cx="1376.84" cy="1253.57" r="3.3"/>
<circle cx="1345.94" cy="1285.71" r="3.3"/>
<circle cx="1351.54" cy="1285.71" r="3.3"/>
<circle cx="1357.14" cy="1285.71" r="3.3"/>
<circle cx="1362.73" cy="1285.71" r="3.3"/>
<circle cx="1368.33" cy="1285.71" r="3.3"/>
<circle cx="1373.92" cy="1285.71" r="3.3"/>
<circle cx="1379.52" cy="1285.71" r="3.3"/>
<circle cx="1345.94" cy="1302.68" r="3.3"/>
<circle cx="1351.63" cy="1302.68" r="3.3"/>
<circle cx="1357.32" cy="1302.68" r="3.3"/>
<circle cx="1363.01" cy="1302.68" r="3.3"/>
<circle cx="1368.7" cy="1302.68" r="3.3"/>
<circle cx="1374.39" cy="1302.68" r="3.3"/>
<circle cx="1380.08" cy="1302.68" r="3.3"/>
<circle cx="1385.77" cy="1302.68" r="3.3"/>
<circle cx="1351.3" cy="1325.89" r="3.3"/>
<circle cx="1356.94" cy="1325.89" r="3.3"/>
<circle cx="1362.59" cy="1325.89" r="3.3"/>
<circle cx="1368.23" cy="1325.89" r="3.3"/>
<circle cx="1373.88" cy="1325.89" r="3.3"/>
<circle cx="1379.52" cy="1325.89" r="3.3"/>
<circle cx="1364.61" cy="1117.86" r="3.3"/>
<circle cx="1364.61" cy="1144.64" r="3.3"/>
<circle cx="1364.61" cy="1147.32" r="3.3"/>
<circle cx="1364.61" cy="1150" r="3.3"/>
<circle cx="1364.61" cy="1152.14" r="3.3"/>
<circle cx="1364.61" cy="1166.96" r="3.3"/>
<circle cx="1364.61" cy="1185.71" r="3.3"/>
<circle cx="1364.61" cy="1191.07" r="3.3"/>
<circle cx="1364.61" cy="1395.54" r="3.3"/>
<circle cx="1472.5" cy="1240.48" r="3.3"/>
<circle cx="1477.07" cy="1239.63" r="3.3"/>
<circle cx="1473.85" cy="1244.42" r="3.3"/>
<circle cx="1473.18" cy="1247.82" r="3.3"/>
<circle cx="1472.39" cy="1253.16" r="3.3"/>
<circle cx="1474.03" cy="1256.64" r="3.3"/>
<circle cx="1472.81" cy="1260.16" r="3.3"/>
<circle cx="1473.13" cy="1265.45" r="3.3"/>
<circle cx="1472.01" cy="1268.89" r="3.3"/>
<circle cx="1472.25" cy="1273.08" r="3.3"/>
<circle cx="1472.17" cy="1277.74" r="3.3"/>
<circle cx="1472.59" cy="1281.9" r="3.3"/>
<circle cx="1472.37" cy="1285.47" r="3.3"/>
<circle cx="1472.75" cy="1289.94" r="3.3"/>
<circle cx="1471.35" cy="1294.11" r="3.3"/>
<circle cx="1473.9" cy="1293.6" r="3.3"/>
<circle cx="1469.03" cy="1296.81" r="3.3"/>
<circle cx="1475.18" cy="1298.29" r="3.3"/>
<circle cx="1472.82" cy="1301.87" r="3.3"/>
<circle cx="1473.72" cy="1304.84" r="3.3"/>
<circle cx="1473.92" cy="1308.93" r="3.3"/>
<circle cx="1473.47" cy="1314.24" r="3.3"/>
<circle cx="1467.37" cy="1295.54" r="3.3"/>
<circle cx="1475.06" cy="1295.54" r="3.3"/>
<circle cx="1472.46" cy="1206.79" r="3.3"/>
<circle cx="1472.46" cy="1327.68" r="3.3"/>
<circle cx="1472.46" cy="1332.14" r="3.3"/>
<circle cx="1470.32" cy="1337.5" r="3.3"/>
<circle cx="1474.79" cy="1337.5" r="3.3"/>
<circle cx="1472.46" cy="1342.86" r="3.3"/>
<circle cx="1470.32" cy="1348.21" r="3.3"/>
<circle cx="1475.68" cy="1348.21" r="3.3"/>
<circle cx="1472.46" cy="1355.36" r="3.3"/>
<circle cx="1472.46" cy="1361.61" r="3.3"/>
<circle cx="1472.46" cy="1368.75" r="3.3"/>
<circle cx="1472.46" cy="1394.64" r="3.3"/>
<circle cx="1580.5" cy="1227.32" r="3.3"/>
<circle cx="1580.5" cy="1244.29" r="3.3"/>
<circle cx="1580.5" cy="1249.11" r="3.3"/>
<circle cx="1580.5" cy="1278.21" r="3.3"/>
<circle cx="1580.5" cy="1301.79" r="3.3"/>
<circle cx="1580.5" cy="1322.32" r="3.3"/>
<circle cx="1580.5" cy="1338.39" r="3.3"/>
<circle cx="1580.5" cy="1341.96" r="3.3"/>
<circle cx="1580.5" cy="1345.54" r="3.3"/>
</g>
<path d="M1356.93 1286.61H1372.11M1364.61 1280V1293.75" stroke="#CC2A2E" stroke-width="1.8" fill="none"/>
<path d="M1465.32 1298.57H1479.61M1472.46 1291.96V1305.36" stroke="#CC2A2E" stroke-width="1.8" fill="none"/>
<path d="M1573.54 1294.29H1587.82M1580.5 1281.25V1308.93" stroke="#CC2A2E" stroke-width="1.8" fill="none"/>
<rect x="1299.7" y="1104.4" width="345.7" height="304.9" fill="none" stroke="#B3B3B3" stroke-width="1.3"/>
<line x1="1295.5" y1="1204.5" x2="1299.7" y2="1204.5" stroke="#B3B3B3" stroke-width="1.3"/>
<text x="1292.1" y="1212.9" fill="#333333" font-size="24" text-anchor="end">3.0</text>
<line x1="1295.5" y1="1322.3" x2="1299.7" y2="1322.3" stroke="#B3B3B3" stroke-width="1.3"/>
<text x="1292.1" y="1330.7" fill="#333333" font-size="24" text-anchor="end">2.5</text>
<line x1="1364.6" y1="1409.3" x2="1364.6" y2="1413.5" stroke="#B3B3B3" stroke-width="1.3"/>
<text transform="translate(1376.7,1427.3) rotate(-40)" fill="#333333" font-size="24.5" text-anchor="end">no inhibition</text>
<line x1="1472.5" y1="1409.3" x2="1472.5" y2="1413.5" stroke="#B3B3B3" stroke-width="1.3"/>
<text transform="translate(1484.6,1427.3) rotate(-40)" fill="#333333" font-size="24.5" text-anchor="end">up to 3</text>
<line x1="1580.5" y1="1409.3" x2="1580.5" y2="1413.5" stroke="#B3B3B3" stroke-width="1.3"/>
<text transform="translate(1592.6,1427.3) rotate(-40)" fill="#333333" font-size="24.5" text-anchor="end">more than 3</text>
<text x="1299.5" y="1094.4" fill="#000" font-size="29" letter-spacing="0.12">Complexity (log<tspan font-size="16.5" dx="1.6" dy="9.2">10</tspan><tspan dx="-0.8" dy="-9.2">)</tspan></text>
<rect x="1703.3" y="1104.4" width="342.1" height="304.9" fill="#fff"/>
<line x1="1703.3" y1="1157.5" x2="2045.4" y2="1157.5" stroke="#F0F0F0" stroke-width="0.8"/>
<line x1="1703.3" y1="1223.4" x2="2045.4" y2="1223.4" stroke="#F0F0F0" stroke-width="0.8"/>
<line x1="1703.3" y1="1289.1" x2="2045.4" y2="1289.1" stroke="#F0F0F0" stroke-width="0.8"/>
<line x1="1703.3" y1="1354.8" x2="2045.4" y2="1354.8" stroke="#F0F0F0" stroke-width="0.8"/>
<line x1="1703.3" y1="1124.6" x2="2045.4" y2="1124.6" stroke="#EAEAEA" stroke-width="0.95"/>
<line x1="1703.3" y1="1190.5" x2="2045.4" y2="1190.5" stroke="#EAEAEA" stroke-width="0.95"/>
<line x1="1703.3" y1="1256.3" x2="2045.4" y2="1256.3" stroke="#EAEAEA" stroke-width="0.95"/>
<line x1="1703.3" y1="1322" x2="2045.4" y2="1322" stroke="#EAEAEA" stroke-width="0.95"/>
<line x1="1703.3" y1="1387.6" x2="2045.4" y2="1387.6" stroke="#EAEAEA" stroke-width="0.95"/>
<line x1="1767.3" y1="1104.4" x2="1767.3" y2="1409.3" stroke="#EAEAEA" stroke-width="0.95"/>
<line x1="1874.5" y1="1104.4" x2="1874.5" y2="1409.3" stroke="#EAEAEA" stroke-width="0.95"/>
<line x1="1981.3" y1="1104.4" x2="1981.3" y2="1409.3" stroke="#EAEAEA" stroke-width="0.95"/>
<g fill="#7D918E" fill-opacity="0.62" stroke="#1C2626" stroke-width="1">
<circle cx="1768.54" cy="1180.74" r="3.3"/>
<circle cx="1768.73" cy="1183.95" r="3.3"/>
<circle cx="1768.94" cy="1187.94" r="3.3"/>
<circle cx="1768.42" cy="1191.9" r="3.3"/>
<circle cx="1767.21" cy="1196.72" r="3.3"/>
<circle cx="1763.22" cy="1200.52" r="3.3"/>
<circle cx="1769.91" cy="1199.63" r="3.3"/>
<circle cx="1761.51" cy="1204.22" r="3.3"/>
<circle cx="1766.34" cy="1204.51" r="3.3"/>
<circle cx="1771.63" cy="1204.76" r="3.3"/>
<circle cx="1761.38" cy="1209.11" r="3.3"/>
<circle cx="1766.96" cy="1209.38" r="3.3"/>
<circle cx="1773.43" cy="1208.39" r="3.3"/>
<circle cx="1762.02" cy="1212.83" r="3.3"/>
<circle cx="1766.29" cy="1213.73" r="3.3"/>
<circle cx="1771.26" cy="1213.9" r="3.3"/>
<circle cx="1763.11" cy="1217.67" r="3.3"/>
<circle cx="1769.38" cy="1217.55" r="3.3"/>
<circle cx="1766.91" cy="1222.09" r="3.3"/>
<circle cx="1769.55" cy="1221.8" r="3.3"/>
<circle cx="1765.77" cy="1224.77" r="3.3"/>
<circle cx="1770.7" cy="1225.62" r="3.3"/>
<circle cx="1760.92" cy="1229.31" r="3.3"/>
<circle cx="1765.86" cy="1228.97" r="3.3"/>
<circle cx="1771.15" cy="1229.14" r="3.3"/>
<circle cx="1759.84" cy="1232.82" r="3.3"/>
<circle cx="1765.99" cy="1233.38" r="3.3"/>
<circle cx="1772.86" cy="1233.33" r="3.3"/>
<circle cx="1758.71" cy="1237" r="3.3"/>
<circle cx="1763.54" cy="1236.74" r="3.3"/>
<circle cx="1768.95" cy="1236.99" r="3.3"/>
<circle cx="1775.41" cy="1238.38" r="3.3"/>
<circle cx="1756.61" cy="1242.09" r="3.3"/>
<circle cx="1762.35" cy="1241.24" r="3.3"/>
<circle cx="1767.51" cy="1240.64" r="3.3"/>
<circle cx="1772.32" cy="1241.09" r="3.3"/>
<circle cx="1777.48" cy="1240.85" r="3.3"/>
<circle cx="1755.77" cy="1245.48" r="3.3"/>
<circle cx="1759.95" cy="1246.05" r="3.3"/>
<circle cx="1765.23" cy="1246.64" r="3.3"/>
<circle cx="1770" cy="1245.09" r="3.3"/>
<circle cx="1774.35" cy="1245.87" r="3.3"/>
<circle cx="1779.78" cy="1246.69" r="3.3"/>
<circle cx="1755.51" cy="1250.82" r="3.3"/>
<circle cx="1759.69" cy="1249.22" r="3.3"/>
<circle cx="1765.25" cy="1250.38" r="3.3"/>
<circle cx="1770.15" cy="1249.25" r="3.3"/>
<circle cx="1774.84" cy="1249.42" r="3.3"/>
<circle cx="1779.95" cy="1249.51" r="3.3"/>
<circle cx="1756.41" cy="1253.58" r="3.3"/>
<circle cx="1761.83" cy="1254.32" r="3.3"/>
<circle cx="1766.32" cy="1253.69" r="3.3"/>
<circle cx="1772.01" cy="1253.14" r="3.3"/>
<circle cx="1776.88" cy="1254.38" r="3.3"/>
<circle cx="1757.66" cy="1258.28" r="3.3"/>
<circle cx="1763.09" cy="1258.27" r="3.3"/>
<circle cx="1769.63" cy="1257.74" r="3.3"/>
<circle cx="1775.23" cy="1258.58" r="3.3"/>
<circle cx="1758.68" cy="1263.11" r="3.3"/>
<circle cx="1763.63" cy="1261.33" r="3.3"/>
<circle cx="1768.82" cy="1261.37" r="3.3"/>
<circle cx="1773.84" cy="1262.75" r="3.3"/>
<circle cx="1758.61" cy="1266.19" r="3.3"/>
<circle cx="1763.98" cy="1265.5" r="3.3"/>
<circle cx="1768.64" cy="1265.34" r="3.3"/>
<circle cx="1773.93" cy="1266.83" r="3.3"/>
<circle cx="1757.37" cy="1270.21" r="3.3"/>
<circle cx="1763.78" cy="1270.17" r="3.3"/>
<circle cx="1769.66" cy="1270.96" r="3.3"/>
<circle cx="1775.26" cy="1270.35" r="3.3"/>
<circle cx="1756.88" cy="1274.1" r="3.3"/>
<circle cx="1761.06" cy="1273.57" r="3.3"/>
<circle cx="1766.04" cy="1274.62" r="3.3"/>
<circle cx="1771.92" cy="1274.15" r="3.3"/>
<circle cx="1777.23" cy="1274.78" r="3.3"/>
<circle cx="1755.43" cy="1278.74" r="3.3"/>
<circle cx="1759.8" cy="1277.99" r="3.3"/>
<circle cx="1764.93" cy="1278.87" r="3.3"/>
<circle cx="1769.06" cy="1279.09" r="3.3"/>
<circle cx="1773.81" cy="1279.24" r="3.3"/>
<circle cx="1778.89" cy="1277.53" r="3.3"/>
<circle cx="1754.58" cy="1283.59" r="3.3"/>
<circle cx="1760.42" cy="1282.68" r="3.3"/>
<circle cx="1766.06" cy="1283.48" r="3.3"/>
<circle cx="1771.36" cy="1282.89" r="3.3"/>
<circle cx="1777.8" cy="1283.2" r="3.3"/>
<circle cx="1756.58" cy="1285.93" r="3.3"/>
<circle cx="1761.03" cy="1287.09" r="3.3"/>
<circle cx="1765.83" cy="1287.07" r="3.3"/>
<circle cx="1770.99" cy="1286.07" r="3.3"/>
<circle cx="1774.97" cy="1286.08" r="3.3"/>
<circle cx="1758.48" cy="1290.59" r="3.3"/>
<circle cx="1763.55" cy="1291.21" r="3.3"/>
<circle cx="1767.87" cy="1291.05" r="3.3"/>
<circle cx="1773.7" cy="1291.1" r="3.3"/>
<circle cx="1759.5" cy="1294.97" r="3.3"/>
<circle cx="1766.38" cy="1294.16" r="3.3"/>
<circle cx="1771.7" cy="1294.22" r="3.3"/>
<circle cx="1757.63" cy="1299.48" r="3.3"/>
<circle cx="1763.65" cy="1298.78" r="3.3"/>
<circle cx="1769.4" cy="1298.62" r="3.3"/>
<circle cx="1774.63" cy="1299.73" r="3.3"/>
<circle cx="1757.08" cy="1303.16" r="3.3"/>
<circle cx="1762.13" cy="1303.4" r="3.3"/>
<circle cx="1767.21" cy="1302.48" r="3.3"/>
<circle cx="1772.28" cy="1302.42" r="3.3"/>
<circle cx="1776.87" cy="1303.44" r="3.3"/>
<circle cx="1757.68" cy="1306.4" r="3.3"/>
<circle cx="1764.71" cy="1307.25" r="3.3"/>
<circle cx="1770.83" cy="1307.78" r="3.3"/>
<circle cx="1776.26" cy="1308.2" r="3.3"/>
<circle cx="1761.04" cy="1311.04" r="3.3"/>
<circle cx="1767.4" cy="1311.5" r="3.3"/>
<circle cx="1772.92" cy="1310.47" r="3.3"/>
<circle cx="1762.73" cy="1316.25" r="3.3"/>
<circle cx="1767.2" cy="1315.73" r="3.3"/>
<circle cx="1770.51" cy="1315.4" r="3.3"/>
<circle cx="1762.82" cy="1319.07" r="3.3"/>
<circle cx="1770.69" cy="1319.47" r="3.3"/>
<circle cx="1759.16" cy="1323.97" r="3.3"/>
<circle cx="1764.57" cy="1323.51" r="3.3"/>
<circle cx="1769.12" cy="1323.93" r="3.3"/>
<circle cx="1774.9" cy="1322.78" r="3.3"/>
<circle cx="1760.71" cy="1327.75" r="3.3"/>
<circle cx="1766.75" cy="1327.08" r="3.3"/>
<circle cx="1773.27" cy="1327.94" r="3.3"/>
<circle cx="1758.95" cy="1332.76" r="3.3"/>
<circle cx="1764.45" cy="1332.81" r="3.3"/>
<circle cx="1770.3" cy="1330.89" r="3.3"/>
<circle cx="1775.52" cy="1331.98" r="3.3"/>
<circle cx="1757.49" cy="1335.46" r="3.3"/>
<circle cx="1762.57" cy="1335.96" r="3.3"/>
<circle cx="1766.87" cy="1336.11" r="3.3"/>
<circle cx="1771.88" cy="1336.56" r="3.3"/>
<circle cx="1776.38" cy="1336.34" r="3.3"/>
<circle cx="1762.14" cy="1339.95" r="3.3"/>
<circle cx="1766.53" cy="1339.84" r="3.3"/>
<circle cx="1770.21" cy="1340.79" r="3.3"/>
<circle cx="1760.48" cy="1344.48" r="3.3"/>
<circle cx="1766.16" cy="1343.71" r="3.3"/>
<circle cx="1771.29" cy="1345.04" r="3.3"/>
<circle cx="1759.17" cy="1347.63" r="3.3"/>
<circle cx="1763.08" cy="1348.51" r="3.3"/>
<circle cx="1768.8" cy="1348.55" r="3.3"/>
<circle cx="1773.32" cy="1348.34" r="3.3"/>
<circle cx="1762.93" cy="1351.81" r="3.3"/>
<circle cx="1769.83" cy="1351.56" r="3.3"/>
<circle cx="1766.23" cy="1355.78" r="3.3"/>
<circle cx="1765.69" cy="1361.08" r="3.3"/>
<circle cx="1768.54" cy="1360.77" r="3.3"/>
<circle cx="1754.94" cy="1248.68" r="3.3"/>
<circle cx="1760.03" cy="1248.68" r="3.3"/>
<circle cx="1765.12" cy="1248.68" r="3.3"/>
<circle cx="1770.21" cy="1248.68" r="3.3"/>
<circle cx="1775.3" cy="1248.68" r="3.3"/>
<circle cx="1780.39" cy="1248.68" r="3.3"/>
<circle cx="1758.5" cy="1324.36" r="3.3"/>
<circle cx="1764.02" cy="1324.36" r="3.3"/>
<circle cx="1769.53" cy="1324.36" r="3.3"/>
<circle cx="1775.05" cy="1324.36" r="3.3"/>
<circle cx="1755.83" cy="1334.15" r="3.3"/>
<circle cx="1761.75" cy="1334.15" r="3.3"/>
<circle cx="1767.66" cy="1334.15" r="3.3"/>
<circle cx="1773.58" cy="1334.15" r="3.3"/>
<circle cx="1779.5" cy="1334.15" r="3.3"/>
<circle cx="1758.5" cy="1348.4" r="3.3"/>
<circle cx="1763.42" cy="1348.4" r="3.3"/>
<circle cx="1768.34" cy="1348.4" r="3.3"/>
<circle cx="1773.27" cy="1348.4" r="3.3"/>
<circle cx="1764.73" cy="1362.64" r="3.3"/>
<circle cx="1769.71" cy="1362.64" r="3.3"/>
<circle cx="1767.31" cy="1148.43" r="3.3"/>
<circle cx="1767.31" cy="1163.21" r="3.3"/>
<circle cx="1771.23" cy="1163.21" r="3.3"/>
<circle cx="1767.31" cy="1369.76" r="3.3"/>
<circle cx="1767.31" cy="1381.34" r="3.3"/>
<circle cx="1770.87" cy="1381.34" r="3.3"/>
<circle cx="1767.31" cy="1386.68" r="3.3"/>
<circle cx="1767.31" cy="1394.69" r="3.3"/>
<circle cx="1871.11" cy="1296.48" r="3.3"/>
<circle cx="1877.16" cy="1295.59" r="3.3"/>
<circle cx="1872.19" cy="1299.58" r="3.3"/>
<circle cx="1876.93" cy="1299.44" r="3.3"/>
<circle cx="1872.82" cy="1304.26" r="3.3"/>
<circle cx="1875.85" cy="1303.97" r="3.3"/>
<circle cx="1874.71" cy="1307.17" r="3.3"/>
<circle cx="1875.67" cy="1311.76" r="3.3"/>
<circle cx="1874.47" cy="1316.15" r="3.3"/>
<circle cx="1874.28" cy="1320.5" r="3.3"/>
<circle cx="1874.71" cy="1324.85" r="3.3"/>
<circle cx="1874.44" cy="1329.22" r="3.3"/>
<circle cx="1874.5" cy="1206.84" r="3.3"/>
<circle cx="1874.5" cy="1229.99" r="3.3"/>
<circle cx="1870.05" cy="1234.79" r="3.3"/>
<circle cx="1874.5" cy="1234.79" r="3.3"/>
<circle cx="1878.06" cy="1234.79" r="3.3"/>
<circle cx="1873.61" cy="1260.26" r="3.3"/>
<circle cx="1878.06" cy="1260.26" r="3.3"/>
<circle cx="1874.5" cy="1269.16" r="3.3"/>
<circle cx="1871.83" cy="1276.28" r="3.3"/>
<circle cx="1877.17" cy="1276.28" r="3.3"/>
<circle cx="1874.5" cy="1286.97" r="3.3"/>
<circle cx="1870.05" cy="1290.53" r="3.3"/>
<circle cx="1879.84" cy="1289.64" r="3.3"/>
<circle cx="1874.5" cy="1342.17" r="3.3"/>
<circle cx="1874.5" cy="1348.93" r="3.3"/>
<circle cx="1876.28" cy="1374.22" r="3.3"/>
<circle cx="1874.15" cy="1376.89" r="3.3"/>
<circle cx="1874.5" cy="1395.58" r="3.3"/>
<circle cx="1981.34" cy="1204.7" r="3.3"/>
<circle cx="1981.34" cy="1325.25" r="3.3"/>
<circle cx="1981.34" cy="1332.91" r="3.3"/>
<circle cx="1981.34" cy="1341.27" r="3.3"/>
<circle cx="1981.34" cy="1356.41" r="3.3"/>
<circle cx="1981.34" cy="1361.75" r="3.3"/>
</g>
<path d="M1760.19 1278.6H1774.43M1767.31 1270.94V1285.19" stroke="#CC2A2E" stroke-width="1.8" fill="none"/>
<path d="M1867.38 1297.29H1881.62M1874.5 1290.53V1303.88" stroke="#CC2A2E" stroke-width="1.8" fill="none"/>
<path d="M1974.22 1320.8H1988.46M1981.34 1301.21V1339.49" stroke="#CC2A2E" stroke-width="1.8" fill="none"/>
<rect x="1703.3" y="1104.4" width="342.1" height="304.9" fill="none" stroke="#B3B3B3" stroke-width="1.3"/>
<line x1="1699.1" y1="1124.6" x2="1703.3" y2="1124.6" stroke="#B3B3B3" stroke-width="1.3"/>
<text x="1695.7" y="1133" fill="#333333" font-size="24" text-anchor="end">500</text>
<line x1="1699.1" y1="1190.5" x2="1703.3" y2="1190.5" stroke="#B3B3B3" stroke-width="1.3"/>
<text x="1695.7" y="1198.9" fill="#333333" font-size="24" text-anchor="end">400</text>
<line x1="1699.1" y1="1256.3" x2="1703.3" y2="1256.3" stroke="#B3B3B3" stroke-width="1.3"/>
<text x="1695.7" y="1264.7" fill="#333333" font-size="24" text-anchor="end">300</text>
<line x1="1699.1" y1="1322" x2="1703.3" y2="1322" stroke="#B3B3B3" stroke-width="1.3"/>
<text x="1695.7" y="1330.4" fill="#333333" font-size="24" text-anchor="end">200</text>
<line x1="1699.1" y1="1387.6" x2="1703.3" y2="1387.6" stroke="#B3B3B3" stroke-width="1.3"/>
<text x="1695.7" y="1396" fill="#333333" font-size="24" text-anchor="end">100</text>
<line x1="1767.3" y1="1409.3" x2="1767.3" y2="1413.5" stroke="#B3B3B3" stroke-width="1.3"/>
<text transform="translate(1779.4,1427.3) rotate(-40)" fill="#333333" font-size="24.5" text-anchor="end">no inhibition</text>
<line x1="1874.5" y1="1409.3" x2="1874.5" y2="1413.5" stroke="#B3B3B3" stroke-width="1.3"/>
<text transform="translate(1886.6,1427.3) rotate(-40)" fill="#333333" font-size="24.5" text-anchor="end">up to 3</text>
<line x1="1981.3" y1="1409.3" x2="1981.3" y2="1413.5" stroke="#B3B3B3" stroke-width="1.3"/>
<text transform="translate(1993.4,1427.3) rotate(-40)" fill="#333333" font-size="24.5" text-anchor="end">more than 3</text>
<text x="1703.5" y="1099" fill="#000" font-size="29" letter-spacing="0.12">Volume</text>
<path d="M1767.3 1126V1118.5H1981.3V1126" stroke="#444" stroke-width="1.3" fill="none"/>
<text x="2031" y="1147.9" fill="#000" font-size="24" text-anchor="end"><tspan font-style="italic">P</tspan>=3.70e-02</text>
<rect x="132.1" y="1574.5" width="345.2" height="290.7" fill="#fff"/>
<line x1="132.1" y1="1616.8" x2="477.3" y2="1616.8" stroke="#F0F0F0" stroke-width="0.8"/>
<line x1="132.1" y1="1720" x2="477.3" y2="1720" stroke="#F0F0F0" stroke-width="0.8"/>
<line x1="132.1" y1="1822.7" x2="477.3" y2="1822.7" stroke="#F0F0F0" stroke-width="0.8"/>
<line x1="132.1" y1="1668.2" x2="477.3" y2="1668.2" stroke="#EAEAEA" stroke-width="0.95"/>
<line x1="132.1" y1="1771.4" x2="477.3" y2="1771.4" stroke="#EAEAEA" stroke-width="0.95"/>
<line x1="197" y1="1574.5" x2="197" y2="1865.2" stroke="#EAEAEA" stroke-width="0.95"/>
<line x1="305" y1="1574.5" x2="305" y2="1865.2" stroke="#EAEAEA" stroke-width="0.95"/>
<line x1="413" y1="1574.5" x2="413" y2="1865.2" stroke="#EAEAEA" stroke-width="0.95"/>
<g fill="#7D918E" fill-opacity="0.62" stroke="#1C2626" stroke-width="1">
<circle cx="198.92" cy="1710.19" r="3.3"/>
<circle cx="198.77" cy="1716.1" r="3.3"/>
<circle cx="198.65" cy="1718.33" r="3.3"/>
<circle cx="198.15" cy="1724.22" r="3.3"/>
<circle cx="196.78" cy="1727.31" r="3.3"/>
<circle cx="193.31" cy="1731.67" r="3.3"/>
<circle cx="198.58" cy="1730.74" r="3.3"/>
<circle cx="193.08" cy="1736.49" r="3.3"/>
<circle cx="199.01" cy="1736.42" r="3.3"/>
<circle cx="195.17" cy="1739.4" r="3.3"/>
<circle cx="198.03" cy="1740.05" r="3.3"/>
<circle cx="192.17" cy="1744.6" r="3.3"/>
<circle cx="197.17" cy="1744.54" r="3.3"/>
<circle cx="202.71" cy="1743.63" r="3.3"/>
<circle cx="187.24" cy="1747.22" r="3.3"/>
<circle cx="192.92" cy="1747.14" r="3.3"/>
<circle cx="197.86" cy="1747.64" r="3.3"/>
<circle cx="201.55" cy="1747.82" r="3.3"/>
<circle cx="207.34" cy="1748.55" r="3.3"/>
<circle cx="185.74" cy="1752.82" r="3.3"/>
<circle cx="191.69" cy="1752.65" r="3.3"/>
<circle cx="196.53" cy="1752.76" r="3.3"/>
<circle cx="202.29" cy="1751.26" r="3.3"/>
<circle cx="207.66" cy="1751.29" r="3.3"/>
<circle cx="186.8" cy="1755.45" r="3.3"/>
<circle cx="191.53" cy="1756.56" r="3.3"/>
<circle cx="196.91" cy="1756.44" r="3.3"/>
<circle cx="201.74" cy="1757.06" r="3.3"/>
<circle cx="207.87" cy="1755.99" r="3.3"/>
<circle cx="189.38" cy="1760.43" r="3.3"/>
<circle cx="194.3" cy="1760.6" r="3.3"/>
<circle cx="200.24" cy="1759.96" r="3.3"/>
<circle cx="205.3" cy="1759.53" r="3.3"/>
<circle cx="188.1" cy="1764.44" r="3.3"/>
<circle cx="192.76" cy="1765.3" r="3.3"/>
<circle cx="197.33" cy="1764.62" r="3.3"/>
<circle cx="201.61" cy="1764.44" r="3.3"/>
<circle cx="205.68" cy="1763.5" r="3.3"/>
<circle cx="187.61" cy="1768.82" r="3.3"/>
<circle cx="194.27" cy="1768.55" r="3.3"/>
<circle cx="199.96" cy="1769.37" r="3.3"/>
<circle cx="205.93" cy="1768.85" r="3.3"/>
<circle cx="188.3" cy="1772.25" r="3.3"/>
<circle cx="194.79" cy="1771.77" r="3.3"/>
<circle cx="200.03" cy="1773.19" r="3.3"/>
<circle cx="206.35" cy="1772.76" r="3.3"/>
<circle cx="189.57" cy="1776.09" r="3.3"/>
<circle cx="194.36" cy="1776.91" r="3.3"/>
<circle cx="199.73" cy="1777.56" r="3.3"/>
<circle cx="205.14" cy="1776.68" r="3.3"/>
<circle cx="190.04" cy="1781.01" r="3.3"/>
<circle cx="194.93" cy="1779.83" r="3.3"/>
<circle cx="199.13" cy="1780.64" r="3.3"/>
<circle cx="203.15" cy="1780.77" r="3.3"/>
<circle cx="189.63" cy="1784.93" r="3.3"/>
<circle cx="193.84" cy="1785.4" r="3.3"/>
<circle cx="198.39" cy="1785.03" r="3.3"/>
<circle cx="203.53" cy="1783.89" r="3.3"/>
<circle cx="191.49" cy="1788.57" r="3.3"/>
<circle cx="197.3" cy="1788.52" r="3.3"/>
<circle cx="202.95" cy="1788.95" r="3.3"/>
<circle cx="192.95" cy="1793.83" r="3.3"/>
<circle cx="197.92" cy="1792.63" r="3.3"/>
<circle cx="203" cy="1793.61" r="3.3"/>
<circle cx="193.49" cy="1797.95" r="3.3"/>
<circle cx="198.47" cy="1797.67" r="3.3"/>
<circle cx="202.25" cy="1796.3" r="3.3"/>
<circle cx="191.46" cy="1800.54" r="3.3"/>
<circle cx="197.11" cy="1800.62" r="3.3"/>
<circle cx="203.07" cy="1800.89" r="3.3"/>
<circle cx="192.09" cy="1805.44" r="3.3"/>
<circle cx="197.05" cy="1805.34" r="3.3"/>
<circle cx="200.9" cy="1805.14" r="3.3"/>
<circle cx="191.34" cy="1733.39" r="3.3"/>
<circle cx="199.02" cy="1733.39" r="3.3"/>
<circle cx="185.09" cy="1753.93" r="3.3"/>
<circle cx="191.03" cy="1753.93" r="3.3"/>
<circle cx="196.96" cy="1753.93" r="3.3"/>
<circle cx="202.9" cy="1753.93" r="3.3"/>
<circle cx="208.84" cy="1753.93" r="3.3"/>
<circle cx="190.44" cy="1802.14" r="3.3"/>
<circle cx="196.96" cy="1802.14" r="3.3"/>
<circle cx="203.49" cy="1802.14" r="3.3"/>
<circle cx="196.96" cy="1682.14" r="3.3"/>
<circle cx="196.96" cy="1690.54" r="3.3"/>
<circle cx="191.61" cy="1815.18" r="3.3"/>
<circle cx="196.43" cy="1815.18" r="3.3"/>
<circle cx="200" cy="1815.18" r="3.3"/>
<circle cx="196.96" cy="1820.89" r="3.3"/>
<circle cx="196.96" cy="1827.68" r="3.3"/>
<circle cx="196.96" cy="1842.32" r="3.3"/>
<circle cx="196.96" cy="1851.79" r="3.3"/>
<circle cx="306.06" cy="1726.26" r="3.3"/>
<circle cx="302.33" cy="1732.17" r="3.3"/>
<circle cx="309.19" cy="1730.3" r="3.3"/>
<circle cx="302.22" cy="1736.19" r="3.3"/>
<circle cx="307.89" cy="1735.18" r="3.3"/>
<circle cx="303.14" cy="1739.54" r="3.3"/>
<circle cx="307.18" cy="1738.62" r="3.3"/>
<circle cx="303.89" cy="1744.36" r="3.3"/>
<circle cx="306.79" cy="1744.29" r="3.3"/>
<circle cx="301.21" cy="1747.27" r="3.3"/>
<circle cx="306.19" cy="1747.93" r="3.3"/>
<circle cx="311.2" cy="1748.37" r="3.3"/>
<circle cx="299.33" cy="1752.41" r="3.3"/>
<circle cx="304.25" cy="1751.5" r="3.3"/>
<circle cx="308.06" cy="1751" r="3.3"/>
<circle cx="313.45" cy="1750.91" r="3.3"/>
<circle cx="298.08" cy="1755.51" r="3.3"/>
<circle cx="302.44" cy="1755.69" r="3.3"/>
<circle cx="308.91" cy="1756.42" r="3.3"/>
<circle cx="313.7" cy="1756.6" r="3.3"/>
<circle cx="298.12" cy="1760.52" r="3.3"/>
<circle cx="302.26" cy="1760.63" r="3.3"/>
<circle cx="307.33" cy="1759.13" r="3.3"/>
<circle cx="312.01" cy="1759.16" r="3.3"/>
<circle cx="300.41" cy="1763.33" r="3.3"/>
<circle cx="304.58" cy="1764.43" r="3.3"/>
<circle cx="309.4" cy="1764.31" r="3.3"/>
<circle cx="304.93" cy="1769.03" r="3.3"/>
<circle cx="302.23" cy="1772.06" r="3.3"/>
<circle cx="307.83" cy="1772.4" r="3.3"/>
<circle cx="298.88" cy="1776.68" r="3.3"/>
<circle cx="304.65" cy="1776.03" r="3.3"/>
<circle cx="309.53" cy="1775.6" r="3.3"/>
<circle cx="298.77" cy="1780.51" r="3.3"/>
<circle cx="303.72" cy="1781.37" r="3.3"/>
<circle cx="308.57" cy="1780.69" r="3.3"/>
<circle cx="313.13" cy="1780.51" r="3.3"/>
<circle cx="299.96" cy="1783.67" r="3.3"/>
<circle cx="305.03" cy="1784.89" r="3.3"/>
<circle cx="310.88" cy="1784.62" r="3.3"/>
<circle cx="301.39" cy="1789.55" r="3.3"/>
<circle cx="309.08" cy="1789.02" r="3.3"/>
<circle cx="302.02" cy="1792.43" r="3.3"/>
<circle cx="309.21" cy="1791.94" r="3.3"/>
<circle cx="302.7" cy="1797.46" r="3.3"/>
<circle cx="308.98" cy="1797.03" r="3.3"/>
<circle cx="305.2" cy="1800.36" r="3.3"/>
<circle cx="296.69" cy="1757.5" r="3.3"/>
<circle cx="302.53" cy="1757.5" r="3.3"/>
<circle cx="308.36" cy="1757.5" r="3.3"/>
<circle cx="314.2" cy="1757.5" r="3.3"/>
<circle cx="298.48" cy="1780.71" r="3.3"/>
<circle cx="303.42" cy="1780.71" r="3.3"/>
<circle cx="308.36" cy="1780.71" r="3.3"/>
<circle cx="313.31" cy="1780.71" r="3.3"/>
<circle cx="305" cy="1679.29" r="3.3"/>
<circle cx="305" cy="1686.07" r="3.3"/>
<circle cx="305" cy="1690.89" r="3.3"/>
<circle cx="305" cy="1703.93" r="3.3"/>
<circle cx="306.79" cy="1718.21" r="3.3"/>
<circle cx="305" cy="1720.89" r="3.3"/>
<circle cx="305" cy="1820.36" r="3.3"/>
<circle cx="305" cy="1836.96" r="3.3"/>
<circle cx="414.1" cy="1705.73" r="3.3"/>
<circle cx="413.04" cy="1711.64" r="3.3"/>
<circle cx="412.8" cy="1713.86" r="3.3"/>
<circle cx="413.07" cy="1719.75" r="3.3"/>
<circle cx="410.51" cy="1722.84" r="3.3"/>
<circle cx="414.24" cy="1723.11" r="3.3"/>
<circle cx="408.08" cy="1726.28" r="3.3"/>
<circle cx="414.42" cy="1727.93" r="3.3"/>
<circle cx="409.22" cy="1731.95" r="3.3"/>
<circle cx="414.46" cy="1730.84" r="3.3"/>
<circle cx="406.57" cy="1735.59" r="3.3"/>
<circle cx="411.55" cy="1736.04" r="3.3"/>
<circle cx="416.26" cy="1735.97" r="3.3"/>
<circle cx="404.3" cy="1739.16" r="3.3"/>
<circle cx="408.48" cy="1738.66" r="3.3"/>
<circle cx="414.24" cy="1738.57" r="3.3"/>
<circle cx="419.26" cy="1739.08" r="3.3"/>
<circle cx="401.94" cy="1743.35" r="3.3"/>
<circle cx="407.63" cy="1744.08" r="3.3"/>
<circle cx="411.64" cy="1744.26" r="3.3"/>
<circle cx="416.69" cy="1744.09" r="3.3"/>
<circle cx="420.62" cy="1744.2" r="3.3"/>
<circle cx="401.11" cy="1746.8" r="3.3"/>
<circle cx="406.27" cy="1746.83" r="3.3"/>
<circle cx="412.04" cy="1746.89" r="3.3"/>
<circle cx="417.04" cy="1747.99" r="3.3"/>
<circle cx="422.68" cy="1747.87" r="3.3"/>
<circle cx="402.49" cy="1752.6" r="3.3"/>
<circle cx="408.25" cy="1751.53" r="3.3"/>
<circle cx="412.61" cy="1751.86" r="3.3"/>
<circle cx="416.85" cy="1752.04" r="3.3"/>
<circle cx="422.11" cy="1751.39" r="3.3"/>
<circle cx="403.94" cy="1755.06" r="3.3"/>
<circle cx="409.92" cy="1755.88" r="3.3"/>
<circle cx="415.62" cy="1756.73" r="3.3"/>
<circle cx="421.21" cy="1756.05" r="3.3"/>
<circle cx="404.64" cy="1759.98" r="3.3"/>
<circle cx="409.24" cy="1759.03" r="3.3"/>
<circle cx="414.22" cy="1760.25" r="3.3"/>
<circle cx="419.97" cy="1759.98" r="3.3"/>
<circle cx="403.94" cy="1764.91" r="3.3"/>
<circle cx="409.05" cy="1764.39" r="3.3"/>
<circle cx="414.17" cy="1763.69" r="3.3"/>
<circle cx="419.92" cy="1763.2" r="3.3"/>
<circle cx="403.06" cy="1768.72" r="3.3"/>
<circle cx="408.91" cy="1768.3" r="3.3"/>
<circle cx="414.28" cy="1767.53" r="3.3"/>
<circle cx="419.3" cy="1768.34" r="3.3"/>
<circle cx="403.69" cy="1773.09" r="3.3"/>
<circle cx="409.18" cy="1772.21" r="3.3"/>
<circle cx="413.92" cy="1772.45" r="3.3"/>
<circle cx="419.72" cy="1771.27" r="3.3"/>
<circle cx="405.31" cy="1776.18" r="3.3"/>
<circle cx="409.72" cy="1776.3" r="3.3"/>
<circle cx="415.39" cy="1776.36" r="3.3"/>
<circle cx="419.57" cy="1776.84" r="3.3"/>
<circle cx="406.39" cy="1780.56" r="3.3"/>
<circle cx="413.22" cy="1779.42" r="3.3"/>
<circle cx="419.27" cy="1780" r="3.3"/>
<circle cx="407.89" cy="1784.05" r="3.3"/>
<circle cx="413.94" cy="1784.48" r="3.3"/>
<circle cx="419.42" cy="1785.27" r="3.3"/>
<circle cx="409.65" cy="1788.17" r="3.3"/>
<circle cx="413.92" cy="1789.15" r="3.3"/>
<circle cx="417.17" cy="1789.38" r="3.3"/>
<circle cx="401.16" cy="1746.79" r="3.3"/>
<circle cx="406.65" cy="1746.79" r="3.3"/>
<circle cx="412.14" cy="1746.79" r="3.3"/>
<circle cx="417.64" cy="1746.79" r="3.3"/>
<circle cx="423.13" cy="1746.79" r="3.3"/>
<circle cx="413.04" cy="1651.61" r="3.3"/>
<circle cx="413.04" cy="1668.21" r="3.3"/>
<circle cx="413.04" cy="1680.36" r="3.3"/>
<circle cx="413.04" cy="1698.93" r="3.3"/>
<circle cx="413.04" cy="1795.89" r="3.3"/>
<circle cx="413.04" cy="1801.25" r="3.3"/>
<circle cx="413.04" cy="1806.61" r="3.3"/>
<circle cx="413.04" cy="1812.86" r="3.3"/>
<circle cx="413.04" cy="1819.11" r="3.3"/>
<circle cx="411.25" cy="1837.32" r="3.3"/>
<circle cx="415.71" cy="1837.32" r="3.3"/>
<circle cx="413.04" cy="1851.25" r="3.3"/>
</g>
<path d="M189.82 1770.36H204.11M196.96 1763.75V1777.14" stroke="#CC2A2E" stroke-width="1.8" fill="none"/>
<path d="M297.86 1761.07H312.14M305 1753.93V1768.21" stroke="#CC2A2E" stroke-width="1.8" fill="none"/>
<path d="M405.89 1757.5H420.18M413.04 1750.36V1765.54" stroke="#CC2A2E" stroke-width="1.8" fill="none"/>
<rect x="132.1" y="1574.5" width="345.2" height="290.7" fill="none" stroke="#B3B3B3" stroke-width="1.3"/>
<line x1="127.9" y1="1668.2" x2="132.1" y2="1668.2" stroke="#B3B3B3" stroke-width="1.3"/>
<text x="124.5" y="1676.6" fill="#333333" font-size="24" text-anchor="end">3.0</text>
<line x1="127.9" y1="1771.4" x2="132.1" y2="1771.4" stroke="#B3B3B3" stroke-width="1.3"/>
<text x="124.5" y="1779.8" fill="#333333" font-size="24" text-anchor="end">2.5</text>
<line x1="197" y1="1865.2" x2="197" y2="1869.4" stroke="#B3B3B3" stroke-width="1.3"/>
<text transform="translate(209.1,1883.2) rotate(-40)" fill="#333333" font-size="24.5" text-anchor="end">0 to 1</text>
<line x1="305" y1="1865.2" x2="305" y2="1869.4" stroke="#B3B3B3" stroke-width="1.3"/>
<text transform="translate(317.1,1883.2) rotate(-40)" fill="#333333" font-size="24.5" text-anchor="end">2 to 5</text>
<line x1="413" y1="1865.2" x2="413" y2="1869.4" stroke="#B3B3B3" stroke-width="1.3"/>
<text transform="translate(425.1,1883.2) rotate(-40)" fill="#333333" font-size="24.5" text-anchor="end">more than 5</text>
<text x="132.3" y="1563.8" fill="#000" font-size="29" letter-spacing="0.12">Mol. weight (log<tspan font-size="16.5" dx="1.6" dy="9.2">10</tspan><tspan dx="-0.8" dy="-9.2">)</tspan></text>
<path d="M197 1595.7V1588H413V1595.7" stroke="#444" stroke-width="1.3" fill="none"/>
<text x="461.7" y="1616.1" fill="#000" font-size="24" text-anchor="end"><tspan font-style="italic">P</tspan>=3.10e-03</text>
<rect x="517.8" y="1574.5" width="348.4" height="290.7" fill="#fff"/>
<line x1="517.8" y1="1592" x2="866.2" y2="1592" stroke="#F0F0F0" stroke-width="0.8"/>
<line x1="517.8" y1="1654" x2="866.2" y2="1654" stroke="#F0F0F0" stroke-width="0.8"/>
<line x1="517.8" y1="1715.7" x2="866.2" y2="1715.7" stroke="#F0F0F0" stroke-width="0.8"/>
<line x1="517.8" y1="1777.5" x2="866.2" y2="1777.5" stroke="#F0F0F0" stroke-width="0.8"/>
<line x1="517.8" y1="1839.5" x2="866.2" y2="1839.5" stroke="#F0F0F0" stroke-width="0.8"/>
<line x1="517.8" y1="1623" x2="866.2" y2="1623" stroke="#EAEAEA" stroke-width="0.95"/>
<line x1="517.8" y1="1685" x2="866.2" y2="1685" stroke="#EAEAEA" stroke-width="0.95"/>
<line x1="517.8" y1="1746.5" x2="866.2" y2="1746.5" stroke="#EAEAEA" stroke-width="0.95"/>
<line x1="517.8" y1="1808.5" x2="866.2" y2="1808.5" stroke="#EAEAEA" stroke-width="0.95"/>
<line x1="583.3" y1="1574.5" x2="583.3" y2="1865.2" stroke="#EAEAEA" stroke-width="0.95"/>
<line x1="692.5" y1="1574.5" x2="692.5" y2="1865.2" stroke="#EAEAEA" stroke-width="0.95"/>
<line x1="801.6" y1="1574.5" x2="801.6" y2="1865.2" stroke="#EAEAEA" stroke-width="0.95"/>
<g fill="#7D918E" fill-opacity="0.62" stroke="#1C2626" stroke-width="1">
<circle cx="583.25" cy="1677.34" r="3.3"/>
<circle cx="582.97" cy="1681.7" r="3.3"/>
<circle cx="580.32" cy="1686.39" r="3.3"/>
<circle cx="585.8" cy="1685.43" r="3.3"/>
<circle cx="577.62" cy="1689.44" r="3.3"/>
<circle cx="583.54" cy="1689.45" r="3.3"/>
<circle cx="589.12" cy="1690.98" r="3.3"/>
<circle cx="571.74" cy="1693.88" r="3.3"/>
<circle cx="575.87" cy="1694.21" r="3.3"/>
<circle cx="581.32" cy="1694.54" r="3.3"/>
<circle cx="585.76" cy="1694.22" r="3.3"/>
<circle cx="591.59" cy="1694.42" r="3.3"/>
<circle cx="596.34" cy="1694.32" r="3.3"/>
<circle cx="573.45" cy="1698.21" r="3.3"/>
<circle cx="577.63" cy="1698.3" r="3.3"/>
<circle cx="582.51" cy="1698.43" r="3.3"/>
<circle cx="587.45" cy="1698.67" r="3.3"/>
<circle cx="592.54" cy="1698.54" r="3.3"/>
<circle cx="596.88" cy="1698.51" r="3.3"/>
<circle cx="575.85" cy="1702.89" r="3.3"/>
<circle cx="582.38" cy="1701.68" r="3.3"/>
<circle cx="587.64" cy="1702.9" r="3.3"/>
<circle cx="593.17" cy="1702.97" r="3.3"/>
<circle cx="576.66" cy="1705.48" r="3.3"/>
<circle cx="581.99" cy="1705.62" r="3.3"/>
<circle cx="586.86" cy="1706.01" r="3.3"/>
<circle cx="593.06" cy="1706.82" r="3.3"/>
<circle cx="575.22" cy="1709.68" r="3.3"/>
<circle cx="580.68" cy="1710.89" r="3.3"/>
<circle cx="584.83" cy="1709.79" r="3.3"/>
<circle cx="590.21" cy="1711.46" r="3.3"/>
<circle cx="594.77" cy="1709.98" r="3.3"/>
<circle cx="574.83" cy="1714.89" r="3.3"/>
<circle cx="579.32" cy="1714.12" r="3.3"/>
<circle cx="584.33" cy="1713.77" r="3.3"/>
<circle cx="589.72" cy="1714.46" r="3.3"/>
<circle cx="594.5" cy="1714.65" r="3.3"/>
<circle cx="577.09" cy="1718.86" r="3.3"/>
<circle cx="582.09" cy="1719.46" r="3.3"/>
<circle cx="586.88" cy="1718.5" r="3.3"/>
<circle cx="591.22" cy="1719.18" r="3.3"/>
<circle cx="579.31" cy="1721.9" r="3.3"/>
<circle cx="583.92" cy="1723.66" r="3.3"/>
<circle cx="589.83" cy="1723.37" r="3.3"/>
<circle cx="580.72" cy="1727.7" r="3.3"/>
<circle cx="588.24" cy="1725.96" r="3.3"/>
<circle cx="581.27" cy="1730.47" r="3.3"/>
<circle cx="586.11" cy="1731.38" r="3.3"/>
<circle cx="583.14" cy="1735.45" r="3.3"/>
<circle cx="583.53" cy="1739.29" r="3.3"/>
<circle cx="583.89" cy="1742.49" r="3.3"/>
<circle cx="584.24" cy="1747.09" r="3.3"/>
<circle cx="583.77" cy="1750.98" r="3.3"/>
<circle cx="583.74" cy="1755.75" r="3.3"/>
<circle cx="582.05" cy="1759.78" r="3.3"/>
<circle cx="584.87" cy="1759.98" r="3.3"/>
<circle cx="581.26" cy="1760.37" r="3.3"/>
<circle cx="585.44" cy="1760.37" r="3.3"/>
<circle cx="583.35" cy="1661.59" r="3.3"/>
<circle cx="583.35" cy="1665.19" r="3.3"/>
<circle cx="584.25" cy="1672.01" r="3.3"/>
<circle cx="582.45" cy="1772.95" r="3.3"/>
<circle cx="586.4" cy="1772.59" r="3.3"/>
<circle cx="692.35" cy="1662.97" r="3.3"/>
<circle cx="692.96" cy="1667.33" r="3.3"/>
<circle cx="689.76" cy="1672.02" r="3.3"/>
<circle cx="696.72" cy="1671.07" r="3.3"/>
<circle cx="688.71" cy="1675.07" r="3.3"/>
<circle cx="693.25" cy="1675.08" r="3.3"/>
<circle cx="697.44" cy="1676.61" r="3.3"/>
<circle cx="687.95" cy="1679.51" r="3.3"/>
<circle cx="692.42" cy="1679.84" r="3.3"/>
<circle cx="698.2" cy="1680.18" r="3.3"/>
<circle cx="685.69" cy="1683.95" r="3.3"/>
<circle cx="693.03" cy="1684.15" r="3.3"/>
<circle cx="699.3" cy="1684.05" r="3.3"/>
<circle cx="685.06" cy="1687.94" r="3.3"/>
<circle cx="689.63" cy="1688.03" r="3.3"/>
<circle cx="694.88" cy="1688.16" r="3.3"/>
<circle cx="700.2" cy="1688.4" r="3.3"/>
<circle cx="684.78" cy="1692.38" r="3.3"/>
<circle cx="689.76" cy="1692.34" r="3.3"/>
<circle cx="695.25" cy="1692.62" r="3.3"/>
<circle cx="701.29" cy="1691.41" r="3.3"/>
<circle cx="684.26" cy="1696.74" r="3.3"/>
<circle cx="689.53" cy="1696.8" r="3.3"/>
<circle cx="695.38" cy="1695.21" r="3.3"/>
<circle cx="701.15" cy="1695.36" r="3.3"/>
<circle cx="683.16" cy="1699.84" r="3.3"/>
<circle cx="688.76" cy="1700.65" r="3.3"/>
<circle cx="692.65" cy="1699.41" r="3.3"/>
<circle cx="697.91" cy="1700.62" r="3.3"/>
<circle cx="701.88" cy="1699.53" r="3.3"/>
<circle cx="687.56" cy="1705.29" r="3.3"/>
<circle cx="693.02" cy="1703.81" r="3.3"/>
<circle cx="698.45" cy="1704.62" r="3.3"/>
<circle cx="688.96" cy="1707.96" r="3.3"/>
<circle cx="695.82" cy="1707.6" r="3.3"/>
<circle cx="690.56" cy="1712.39" r="3.3"/>
<circle cx="695.14" cy="1712.58" r="3.3"/>
<circle cx="692.83" cy="1716.79" r="3.3"/>
<circle cx="692.99" cy="1721.49" r="3.3"/>
<circle cx="693.22" cy="1724.63" r="3.3"/>
<circle cx="693.24" cy="1729.42" r="3.3"/>
<circle cx="693.39" cy="1732.13" r="3.3"/>
<circle cx="692.45" cy="1737.99" r="3.3"/>
<circle cx="693.31" cy="1741.8" r="3.3"/>
<circle cx="692.77" cy="1746.13" r="3.3"/>
<circle cx="693.32" cy="1748.49" r="3.3"/>
<circle cx="693.62" cy="1753" r="3.3"/>
<circle cx="693.66" cy="1758.01" r="3.3"/>
<circle cx="693.61" cy="1762.09" r="3.3"/>
<circle cx="694.04" cy="1765.92" r="3.3"/>
<circle cx="692.61" cy="1729.84" r="3.3"/>
<circle cx="692.54" cy="1640.04" r="3.3"/>
<circle cx="692.54" cy="1657.64" r="3.3"/>
<circle cx="692.54" cy="1783.72" r="3.3"/>
<circle cx="798.92" cy="1650.4" r="3.3"/>
<circle cx="803.5" cy="1650.66" r="3.3"/>
<circle cx="798.32" cy="1655.35" r="3.3"/>
<circle cx="805.34" cy="1654.4" r="3.3"/>
<circle cx="798.37" cy="1658.4" r="3.3"/>
<circle cx="805.15" cy="1658.41" r="3.3"/>
<circle cx="798.56" cy="1664.04" r="3.3"/>
<circle cx="804.84" cy="1662.84" r="3.3"/>
<circle cx="796.73" cy="1667.27" r="3.3"/>
<circle cx="801.81" cy="1667.6" r="3.3"/>
<circle cx="805.88" cy="1667.28" r="3.3"/>
<circle cx="796.75" cy="1671.58" r="3.3"/>
<circle cx="801.93" cy="1671.48" r="3.3"/>
<circle cx="807.57" cy="1671.27" r="3.3"/>
<circle cx="795.67" cy="1675.46" r="3.3"/>
<circle cx="801.4" cy="1675.59" r="3.3"/>
<circle cx="807.2" cy="1675.83" r="3.3"/>
<circle cx="791.98" cy="1679.8" r="3.3"/>
<circle cx="796.74" cy="1679.77" r="3.3"/>
<circle cx="802.01" cy="1680.05" r="3.3"/>
<circle cx="807.83" cy="1678.84" r="3.3"/>
<circle cx="812.4" cy="1680.06" r="3.3"/>
<circle cx="790.93" cy="1684.23" r="3.3"/>
<circle cx="796.44" cy="1682.64" r="3.3"/>
<circle cx="801.86" cy="1682.78" r="3.3"/>
<circle cx="806.83" cy="1683.17" r="3.3"/>
<circle cx="813.13" cy="1683.98" r="3.3"/>
<circle cx="794.49" cy="1686.84" r="3.3"/>
<circle cx="799.81" cy="1688.05" r="3.3"/>
<circle cx="803.82" cy="1686.95" r="3.3"/>
<circle cx="809.06" cy="1688.62" r="3.3"/>
<circle cx="797.59" cy="1691.24" r="3.3"/>
<circle cx="802.26" cy="1692.05" r="3.3"/>
<circle cx="806.78" cy="1691.28" r="3.3"/>
<circle cx="798.16" cy="1695.03" r="3.3"/>
<circle cx="806.3" cy="1695.72" r="3.3"/>
<circle cx="799.44" cy="1700.01" r="3.3"/>
<circle cx="805.1" cy="1700.12" r="3.3"/>
<circle cx="800.16" cy="1704.82" r="3.3"/>
<circle cx="803.68" cy="1703.86" r="3.3"/>
<circle cx="799.05" cy="1708.64" r="3.3"/>
<circle cx="803.82" cy="1707.26" r="3.3"/>
<circle cx="797.01" cy="1713.12" r="3.3"/>
<circle cx="802.33" cy="1712.83" r="3.3"/>
<circle cx="806.25" cy="1713.06" r="3.3"/>
<circle cx="797.64" cy="1715.42" r="3.3"/>
<circle cx="801.47" cy="1715.83" r="3.3"/>
<circle cx="805.36" cy="1716.74" r="3.3"/>
<circle cx="799.13" cy="1720.81" r="3.3"/>
<circle cx="803.75" cy="1720.55" r="3.3"/>
<circle cx="799.98" cy="1723.75" r="3.3"/>
<circle cx="803.3" cy="1724.25" r="3.3"/>
<circle cx="801.16" cy="1728.14" r="3.3"/>
<circle cx="801.76" cy="1732.91" r="3.3"/>
<circle cx="801.33" cy="1736.94" r="3.3"/>
<circle cx="804.03" cy="1737.14" r="3.3"/>
<circle cx="800.34" cy="1741.66" r="3.3"/>
<circle cx="807.14" cy="1740.32" r="3.3"/>
<circle cx="800.72" cy="1745.33" r="3.3"/>
<circle cx="805.5" cy="1745.29" r="3.3"/>
<circle cx="801.58" cy="1748.56" r="3.3"/>
<circle cx="800.6" cy="1754.13" r="3.3"/>
<circle cx="802.68" cy="1752.39" r="3.3"/>
<circle cx="799.94" cy="1757.17" r="3.3"/>
<circle cx="804.82" cy="1758.02" r="3.3"/>
<circle cx="800.92" cy="1761.58" r="3.3"/>
<circle cx="802.88" cy="1762" r="3.3"/>
<circle cx="801.94" cy="1766.41" r="3.3"/>
<circle cx="789.59" cy="1681.35" r="3.3"/>
<circle cx="794.74" cy="1681.35" r="3.3"/>
<circle cx="799.89" cy="1681.35" r="3.3"/>
<circle cx="805.03" cy="1681.35" r="3.3"/>
<circle cx="810.18" cy="1681.35" r="3.3"/>
<circle cx="815.32" cy="1681.35" r="3.3"/>
<circle cx="796.78" cy="1713.68" r="3.3"/>
<circle cx="802.01" cy="1713.68" r="3.3"/>
<circle cx="807.24" cy="1713.68" r="3.3"/>
<circle cx="799.47" cy="1742.41" r="3.3"/>
<circle cx="807.24" cy="1742.41" r="3.3"/>
<circle cx="799.47" cy="1757.68" r="3.3"/>
<circle cx="804.55" cy="1757.68" r="3.3"/>
<circle cx="801.56" cy="1623.88" r="3.3"/>
<circle cx="801.56" cy="1851.07" r="3.3"/>
</g>
<path d="M576.17 1710.98H590.53M583.35 1704.7V1718.17" stroke="#CC2A2E" stroke-width="1.8" fill="none"/>
<path d="M684.82 1702.9H699.19M692.54 1696.62V1710.09" stroke="#CC2A2E" stroke-width="1.8" fill="none"/>
<path d="M794.38 1696.62H808.74M801.56 1689.97V1702.9" stroke="#CC2A2E" stroke-width="1.8" fill="none"/>
<rect x="517.8" y="1574.5" width="348.4" height="290.7" fill="none" stroke="#B3B3B3" stroke-width="1.3"/>
<line x1="513.6" y1="1623" x2="517.8" y2="1623" stroke="#B3B3B3" stroke-width="1.3"/>
<text x="510.2" y="1631.4" fill="#333333" font-size="24" text-anchor="end">10</text>
<line x1="513.6" y1="1685" x2="517.8" y2="1685" stroke="#B3B3B3" stroke-width="1.3"/>
<text x="510.2" y="1693.4" fill="#333333" font-size="24" text-anchor="end">5</text>
<line x1="513.6" y1="1746.5" x2="517.8" y2="1746.5" stroke="#B3B3B3" stroke-width="1.3"/>
<text x="510.2" y="1754.9" fill="#333333" font-size="24" text-anchor="end">0</text>
<line x1="513.6" y1="1808.5" x2="517.8" y2="1808.5" stroke="#B3B3B3" stroke-width="1.3"/>
<text x="510.2" y="1816.9" fill="#333333" font-size="24" text-anchor="end">−5</text>
<line x1="583.3" y1="1865.2" x2="583.3" y2="1869.4" stroke="#B3B3B3" stroke-width="1.3"/>
<text transform="translate(595.4,1883.2) rotate(-40)" fill="#333333" font-size="24.5" text-anchor="end">0 to 1</text>
<line x1="692.5" y1="1865.2" x2="692.5" y2="1869.4" stroke="#B3B3B3" stroke-width="1.3"/>
<text transform="translate(704.6,1883.2) rotate(-40)" fill="#333333" font-size="24.5" text-anchor="end">2 to 5</text>
<line x1="801.6" y1="1865.2" x2="801.6" y2="1869.4" stroke="#B3B3B3" stroke-width="1.3"/>
<text transform="translate(813.7,1883.2) rotate(-40)" fill="#333333" font-size="24.5" text-anchor="end">more than 5</text>
<text x="517.3" y="1565.3" fill="#000" font-size="29" letter-spacing="0.12">XLogP</text>
<path d="M583.3 1595V1588H801.6V1595" stroke="#444" stroke-width="1.3" fill="none"/>
<path d="M583.3 1618.7V1612H692.5V1618.7" stroke="#444" stroke-width="1.3" fill="none"/>
<text x="848.6" y="1611.2" fill="#000" font-size="24" text-anchor="end"><tspan font-style="italic">P</tspan>=6.69e-07</text>
<text x="774.4" y="1633.7" fill="#000" font-size="24" text-anchor="end"><tspan font-style="italic">P</tspan>=1.72e-02</text>
<rect x="910.1" y="1574.5" width="345.2" height="290.7" fill="#fff"/>
<line x1="910.1" y1="1614.8" x2="1255.3" y2="1614.8" stroke="#F0F0F0" stroke-width="0.8"/>
<line x1="910.1" y1="1667.7" x2="1255.3" y2="1667.7" stroke="#F0F0F0" stroke-width="0.8"/>
<line x1="910.1" y1="1720.4" x2="1255.3" y2="1720.4" stroke="#F0F0F0" stroke-width="0.8"/>
<line x1="910.1" y1="1773.1" x2="1255.3" y2="1773.1" stroke="#F0F0F0" stroke-width="0.8"/>
<line x1="910.1" y1="1825.8" x2="1255.3" y2="1825.8" stroke="#F0F0F0" stroke-width="0.8"/>
<line x1="910.1" y1="1588.2" x2="1255.3" y2="1588.2" stroke="#EAEAEA" stroke-width="0.95"/>
<line x1="910.1" y1="1641.4" x2="1255.3" y2="1641.4" stroke="#EAEAEA" stroke-width="0.95"/>
<line x1="910.1" y1="1694.1" x2="1255.3" y2="1694.1" stroke="#EAEAEA" stroke-width="0.95"/>
<line x1="910.1" y1="1746.8" x2="1255.3" y2="1746.8" stroke="#EAEAEA" stroke-width="0.95"/>
<line x1="910.1" y1="1799.5" x2="1255.3" y2="1799.5" stroke="#EAEAEA" stroke-width="0.95"/>
<line x1="910.1" y1="1852.1" x2="1255.3" y2="1852.1" stroke="#EAEAEA" stroke-width="0.95"/>
<line x1="975.3" y1="1574.5" x2="975.3" y2="1865.2" stroke="#EAEAEA" stroke-width="0.95"/>
<line x1="1083.4" y1="1574.5" x2="1083.4" y2="1865.2" stroke="#EAEAEA" stroke-width="0.95"/>
<line x1="1191.4" y1="1574.5" x2="1191.4" y2="1865.2" stroke="#EAEAEA" stroke-width="0.95"/>
<g fill="#7D918E" fill-opacity="0.62" stroke="#1C2626" stroke-width="1">
<circle cx="969.65" cy="1624.43" r="3.3"/>
<circle cx="975" cy="1623.04" r="3.3"/>
<circle cx="980.88" cy="1623.18" r="3.3"/>
<circle cx="969.24" cy="1627.29" r="3.3"/>
<circle cx="974.42" cy="1626.68" r="3.3"/>
<circle cx="979.14" cy="1626.86" r="3.3"/>
<circle cx="968.06" cy="1631.24" r="3.3"/>
<circle cx="973.37" cy="1632.11" r="3.3"/>
<circle cx="979.4" cy="1632.21" r="3.3"/>
<circle cx="968.47" cy="1636.05" r="3.3"/>
<circle cx="974.88" cy="1636.66" r="3.3"/>
<circle cx="980.2" cy="1635.94" r="3.3"/>
<circle cx="968.11" cy="1640.15" r="3.3"/>
<circle cx="973.01" cy="1640.79" r="3.3"/>
<circle cx="977.06" cy="1639.86" r="3.3"/>
<circle cx="982.32" cy="1640.62" r="3.3"/>
<circle cx="967.64" cy="1644.26" r="3.3"/>
<circle cx="972.76" cy="1644.95" r="3.3"/>
<circle cx="977.14" cy="1643.21" r="3.3"/>
<circle cx="982.17" cy="1644.45" r="3.3"/>
<circle cx="967.22" cy="1647.3" r="3.3"/>
<circle cx="972.73" cy="1648.61" r="3.3"/>
<circle cx="977.3" cy="1647.41" r="3.3"/>
<circle cx="982.71" cy="1648.17" r="3.3"/>
<circle cx="966.52" cy="1652.9" r="3.3"/>
<circle cx="972.34" cy="1652.57" r="3.3"/>
<circle cx="978.63" cy="1652.72" r="3.3"/>
<circle cx="983.73" cy="1653.09" r="3.3"/>
<circle cx="967.26" cy="1656.48" r="3.3"/>
<circle cx="973.02" cy="1655.8" r="3.3"/>
<circle cx="977.32" cy="1655.98" r="3.3"/>
<circle cx="982.8" cy="1656.09" r="3.3"/>
<circle cx="968.75" cy="1659.94" r="3.3"/>
<circle cx="974.87" cy="1660.97" r="3.3"/>
<circle cx="980.99" cy="1661" r="3.3"/>
<circle cx="967.07" cy="1665.24" r="3.3"/>
<circle cx="971.68" cy="1664.27" r="3.3"/>
<circle cx="976.01" cy="1665.46" r="3.3"/>
<circle cx="981.4" cy="1664.55" r="3.3"/>
<circle cx="967.1" cy="1668.17" r="3.3"/>
<circle cx="971.79" cy="1667.71" r="3.3"/>
<circle cx="976.29" cy="1669.18" r="3.3"/>
<circle cx="981.12" cy="1668.42" r="3.3"/>
<circle cx="966.78" cy="1672.07" r="3.3"/>
<circle cx="972.05" cy="1672.66" r="3.3"/>
<circle cx="976.29" cy="1673.76" r="3.3"/>
<circle cx="981.37" cy="1673.76" r="3.3"/>
<circle cx="967.44" cy="1676" r="3.3"/>
<circle cx="972.04" cy="1675.88" r="3.3"/>
<circle cx="976.87" cy="1677.29" r="3.3"/>
<circle cx="981.86" cy="1677.41" r="3.3"/>
<circle cx="967.77" cy="1681.9" r="3.3"/>
<circle cx="972.48" cy="1680.77" r="3.3"/>
<circle cx="976.95" cy="1681.23" r="3.3"/>
<circle cx="981.85" cy="1681.55" r="3.3"/>
<circle cx="969.83" cy="1684.54" r="3.3"/>
<circle cx="975.3" cy="1685.52" r="3.3"/>
<circle cx="981.33" cy="1686.03" r="3.3"/>
<circle cx="971.03" cy="1688.67" r="3.3"/>
<circle cx="975.76" cy="1690.02" r="3.3"/>
<circle cx="979.5" cy="1689.51" r="3.3"/>
<circle cx="973.5" cy="1693.58" r="3.3"/>
<circle cx="978.27" cy="1693.1" r="3.3"/>
<circle cx="975.25" cy="1697.95" r="3.3"/>
<circle cx="976.07" cy="1700.69" r="3.3"/>
<circle cx="975.32" cy="1601.25" r="3.3"/>
<circle cx="975.32" cy="1604.82" r="3.3"/>
<circle cx="975.32" cy="1608.39" r="3.3"/>
<circle cx="975.32" cy="1616.79" r="3.3"/>
<circle cx="975.32" cy="1709.82" r="3.3"/>
<circle cx="975.32" cy="1722.14" r="3.3"/>
<circle cx="971.39" cy="1732.86" r="3.3"/>
<circle cx="975.32" cy="1732.86" r="3.3"/>
<circle cx="978.54" cy="1732.86" r="3.3"/>
<circle cx="975.32" cy="1735.71" r="3.3"/>
<circle cx="975.32" cy="1747.32" r="3.3"/>
<circle cx="971.39" cy="1759.82" r="3.3"/>
<circle cx="975.32" cy="1759.82" r="3.3"/>
<circle cx="978.54" cy="1759.82" r="3.3"/>
<circle cx="975.32" cy="1786.61" r="3.3"/>
<circle cx="1079.47" cy="1617.65" r="3.3"/>
<circle cx="1083.75" cy="1616.26" r="3.3"/>
<circle cx="1083.21" cy="1620.49" r="3.3"/>
<circle cx="1083.76" cy="1624.61" r="3.3"/>
<circle cx="1080.68" cy="1628.1" r="3.3"/>
<circle cx="1085.94" cy="1628.27" r="3.3"/>
<circle cx="1077.59" cy="1632.66" r="3.3"/>
<circle cx="1082.51" cy="1633.52" r="3.3"/>
<circle cx="1088.14" cy="1633.62" r="3.3"/>
<circle cx="1076.3" cy="1637.46" r="3.3"/>
<circle cx="1081.26" cy="1638.07" r="3.3"/>
<circle cx="1085.15" cy="1637.35" r="3.3"/>
<circle cx="1089.4" cy="1637.46" r="3.3"/>
<circle cx="1074.67" cy="1642.2" r="3.3"/>
<circle cx="1079.88" cy="1641.28" r="3.3"/>
<circle cx="1086.3" cy="1642.04" r="3.3"/>
<circle cx="1091.29" cy="1641.57" r="3.3"/>
<circle cx="1075.69" cy="1646.37" r="3.3"/>
<circle cx="1080.1" cy="1644.62" r="3.3"/>
<circle cx="1085.15" cy="1645.87" r="3.3"/>
<circle cx="1091.15" cy="1644.61" r="3.3"/>
<circle cx="1078.75" cy="1650.03" r="3.3"/>
<circle cx="1083.27" cy="1648.83" r="3.3"/>
<circle cx="1088.62" cy="1649.58" r="3.3"/>
<circle cx="1078.13" cy="1654.31" r="3.3"/>
<circle cx="1084.66" cy="1653.98" r="3.3"/>
<circle cx="1091.68" cy="1654.13" r="3.3"/>
<circle cx="1079.4" cy="1658.61" r="3.3"/>
<circle cx="1084.13" cy="1657.89" r="3.3"/>
<circle cx="1089.27" cy="1657.22" r="3.3"/>
<circle cx="1078.5" cy="1661.5" r="3.3"/>
<circle cx="1083.31" cy="1661.61" r="3.3"/>
<circle cx="1088.48" cy="1661.36" r="3.3"/>
<circle cx="1077.35" cy="1666.49" r="3.3"/>
<circle cx="1082.87" cy="1666.51" r="3.3"/>
<circle cx="1087.98" cy="1666.65" r="3.3"/>
<circle cx="1077.02" cy="1669.78" r="3.3"/>
<circle cx="1082.33" cy="1670.98" r="3.3"/>
<circle cx="1088.69" cy="1670.06" r="3.3"/>
<circle cx="1079.15" cy="1673.68" r="3.3"/>
<circle cx="1083.47" cy="1673.22" r="3.3"/>
<circle cx="1087.6" cy="1674.69" r="3.3"/>
<circle cx="1079.08" cy="1678.04" r="3.3"/>
<circle cx="1083.14" cy="1677.59" r="3.3"/>
<circle cx="1087.81" cy="1678.18" r="3.3"/>
<circle cx="1079.42" cy="1683.37" r="3.3"/>
<circle cx="1083.69" cy="1683.37" r="3.3"/>
<circle cx="1087.62" cy="1681.52" r="3.3"/>
<circle cx="1080.63" cy="1685.5" r="3.3"/>
<circle cx="1087.05" cy="1686.91" r="3.3"/>
<circle cx="1082.53" cy="1691.12" r="3.3"/>
<circle cx="1086.25" cy="1691.51" r="3.3"/>
<circle cx="1083.86" cy="1694.49" r="3.3"/>
<circle cx="1083.01" cy="1699.04" r="3.3"/>
<circle cx="1083.81" cy="1703.46" r="3.3"/>
<circle cx="1080.05" cy="1616.79" r="3.3"/>
<circle cx="1084.16" cy="1616.79" r="3.3"/>
<circle cx="1073.8" cy="1643.21" r="3.3"/>
<circle cx="1079.93" cy="1643.21" r="3.3"/>
<circle cx="1086.07" cy="1643.21" r="3.3"/>
<circle cx="1092.2" cy="1643.21" r="3.3"/>
<circle cx="1076.48" cy="1667.32" r="3.3"/>
<circle cx="1082.55" cy="1667.32" r="3.3"/>
<circle cx="1088.63" cy="1667.32" r="3.3"/>
<circle cx="1085.68" cy="1607.5" r="3.3"/>
<circle cx="1083" cy="1609.64" r="3.3"/>
<circle cx="1083" cy="1712.32" r="3.3"/>
<circle cx="1083.54" cy="1723.04" r="3.3"/>
<circle cx="1076.75" cy="1732.86" r="3.3"/>
<circle cx="1080.32" cy="1734.29" r="3.3"/>
<circle cx="1083.89" cy="1734.29" r="3.3"/>
<circle cx="1087.46" cy="1734.29" r="3.3"/>
<circle cx="1090.14" cy="1734.29" r="3.3"/>
<circle cx="1083.54" cy="1745" r="3.3"/>
<circle cx="1083.54" cy="1750.36" r="3.3"/>
<circle cx="1083.54" cy="1759.82" r="3.3"/>
<circle cx="1082.11" cy="1786.61" r="3.3"/>
<circle cx="1085.68" cy="1786.61" r="3.3"/>
<circle cx="1082.11" cy="1852.14" r="3.3"/>
<circle cx="1085.68" cy="1852.14" r="3.3"/>
<circle cx="1190.91" cy="1607.47" r="3.3"/>
<circle cx="1191.07" cy="1610.18" r="3.3"/>
<circle cx="1191.77" cy="1614.41" r="3.3"/>
<circle cx="1191.86" cy="1618.53" r="3.3"/>
<circle cx="1191.85" cy="1622.02" r="3.3"/>
<circle cx="1191.15" cy="1626.3" r="3.3"/>
<circle cx="1187.21" cy="1630.68" r="3.3"/>
<circle cx="1193.21" cy="1631.54" r="3.3"/>
<circle cx="1184.96" cy="1635.74" r="3.3"/>
<circle cx="1190.62" cy="1635.49" r="3.3"/>
<circle cx="1196.85" cy="1636.09" r="3.3"/>
<circle cx="1182.14" cy="1639.47" r="3.3"/>
<circle cx="1187.47" cy="1639.58" r="3.3"/>
<circle cx="1193.48" cy="1640.23" r="3.3"/>
<circle cx="1198.64" cy="1639.3" r="3.3"/>
<circle cx="1183.16" cy="1644.16" r="3.3"/>
<circle cx="1187.58" cy="1643.69" r="3.3"/>
<circle cx="1192.76" cy="1644.39" r="3.3"/>
<circle cx="1197.22" cy="1642.64" r="3.3"/>
<circle cx="1185.28" cy="1647.99" r="3.3"/>
<circle cx="1190.23" cy="1646.74" r="3.3"/>
<circle cx="1194.2" cy="1648.05" r="3.3"/>
<circle cx="1187.44" cy="1650.95" r="3.3"/>
<circle cx="1191.83" cy="1651.7" r="3.3"/>
<circle cx="1188.4" cy="1656.43" r="3.3"/>
<circle cx="1193.06" cy="1656.11" r="3.3"/>
<circle cx="1189" cy="1660.35" r="3.3"/>
<circle cx="1194.14" cy="1660.73" r="3.3"/>
<circle cx="1185.43" cy="1664.11" r="3.3"/>
<circle cx="1191.42" cy="1663.44" r="3.3"/>
<circle cx="1195.95" cy="1663.62" r="3.3"/>
<circle cx="1184.32" cy="1667.83" r="3.3"/>
<circle cx="1191.26" cy="1667.58" r="3.3"/>
<circle cx="1197.42" cy="1668.61" r="3.3"/>
<circle cx="1186.6" cy="1672.73" r="3.3"/>
<circle cx="1190.81" cy="1672.88" r="3.3"/>
<circle cx="1195.74" cy="1671.9" r="3.3"/>
<circle cx="1184.61" cy="1677.2" r="3.3"/>
<circle cx="1191.51" cy="1676.28" r="3.3"/>
<circle cx="1197.52" cy="1675.8" r="3.3"/>
<circle cx="1182.22" cy="1679.44" r="3.3"/>
<circle cx="1187.5" cy="1680.91" r="3.3"/>
<circle cx="1193.11" cy="1680.16" r="3.3"/>
<circle cx="1198.74" cy="1679.71" r="3.3"/>
<circle cx="1183.81" cy="1684.4" r="3.3"/>
<circle cx="1187.65" cy="1685.49" r="3.3"/>
<circle cx="1192.34" cy="1685.5" r="3.3"/>
<circle cx="1196.7" cy="1683.64" r="3.3"/>
<circle cx="1183.91" cy="1687.62" r="3.3"/>
<circle cx="1188.37" cy="1689.03" r="3.3"/>
<circle cx="1192.98" cy="1689.14" r="3.3"/>
<circle cx="1197.31" cy="1689.53" r="3.3"/>
<circle cx="1183.61" cy="1692.51" r="3.3"/>
<circle cx="1188.34" cy="1692.96" r="3.3"/>
<circle cx="1193.51" cy="1693.28" r="3.3"/>
<circle cx="1199.19" cy="1692.17" r="3.3"/>
<circle cx="1184.34" cy="1697.26" r="3.3"/>
<circle cx="1190.77" cy="1697.76" r="3.3"/>
<circle cx="1195.99" cy="1696.3" r="3.3"/>
<circle cx="1188.74" cy="1701.76" r="3.3"/>
<circle cx="1193.9" cy="1701.25" r="3.3"/>
<circle cx="1180.94" cy="1641.43" r="3.3"/>
<circle cx="1187.37" cy="1641.43" r="3.3"/>
<circle cx="1193.8" cy="1641.43" r="3.3"/>
<circle cx="1200.24" cy="1641.43" r="3.3"/>
<circle cx="1183.62" cy="1666.43" r="3.3"/>
<circle cx="1190.59" cy="1666.43" r="3.3"/>
<circle cx="1197.56" cy="1666.43" r="3.3"/>
<circle cx="1181.84" cy="1680.71" r="3.3"/>
<circle cx="1187.67" cy="1680.71" r="3.3"/>
<circle cx="1193.51" cy="1680.71" r="3.3"/>
<circle cx="1199.34" cy="1680.71" r="3.3"/>
<circle cx="1183.62" cy="1692.32" r="3.3"/>
<circle cx="1188.86" cy="1692.32" r="3.3"/>
<circle cx="1194.1" cy="1692.32" r="3.3"/>
<circle cx="1199.34" cy="1692.32" r="3.3"/>
<circle cx="1191.39" cy="1587.86" r="3.3"/>
<circle cx="1191.39" cy="1594.11" r="3.3"/>
<circle cx="1191.04" cy="1709.29" r="3.3"/>
<circle cx="1193.71" cy="1712.86" r="3.3"/>
<circle cx="1188.36" cy="1715.54" r="3.3"/>
<circle cx="1192.82" cy="1716.43" r="3.3"/>
<circle cx="1191.04" cy="1720" r="3.3"/>
<circle cx="1191.39" cy="1723.21" r="3.3"/>
<circle cx="1181.57" cy="1732.86" r="3.3"/>
<circle cx="1185.14" cy="1732.86" r="3.3"/>
<circle cx="1188.71" cy="1732.86" r="3.3"/>
<circle cx="1192.29" cy="1732.86" r="3.3"/>
<circle cx="1195.86" cy="1732.86" r="3.3"/>
<circle cx="1199.43" cy="1732.86" r="3.3"/>
<circle cx="1191.39" cy="1759.82" r="3.3"/>
<circle cx="1191.39" cy="1786.61" r="3.3"/>
</g>
<path d="M968.18 1665H982.46M975.32 1658.39V1671.79" stroke="#CC2A2E" stroke-width="1.8" fill="none"/>
<path d="M1076.21 1674.46H1090.5M1083.36 1667.86V1681.61" stroke="#CC2A2E" stroke-width="1.8" fill="none"/>
<path d="M1184.25 1669.46H1198.54M1191.39 1662.86V1676.25" stroke="#CC2A2E" stroke-width="1.8" fill="none"/>
<rect x="910.1" y="1574.5" width="345.2" height="290.7" fill="none" stroke="#B3B3B3" stroke-width="1.3"/>
<line x1="905.9" y1="1588.2" x2="910.1" y2="1588.2" stroke="#B3B3B3" stroke-width="1.3"/>
<text x="902.5" y="1596.6" fill="#333333" font-size="24" text-anchor="end">2.5</text>
<line x1="905.9" y1="1641.4" x2="910.1" y2="1641.4" stroke="#B3B3B3" stroke-width="1.3"/>
<text x="902.5" y="1649.8" fill="#333333" font-size="24" text-anchor="end">2.0</text>
<line x1="905.9" y1="1694.1" x2="910.1" y2="1694.1" stroke="#B3B3B3" stroke-width="1.3"/>
<text x="902.5" y="1702.5" fill="#333333" font-size="24" text-anchor="end">1.5</text>
<line x1="905.9" y1="1746.8" x2="910.1" y2="1746.8" stroke="#B3B3B3" stroke-width="1.3"/>
<text x="902.5" y="1755.2" fill="#333333" font-size="24" text-anchor="end">1.0</text>
<line x1="905.9" y1="1799.5" x2="910.1" y2="1799.5" stroke="#B3B3B3" stroke-width="1.3"/>
<text x="902.5" y="1807.9" fill="#333333" font-size="24" text-anchor="end">0.5</text>
<line x1="905.9" y1="1852.1" x2="910.1" y2="1852.1" stroke="#B3B3B3" stroke-width="1.3"/>
<text x="902.5" y="1860.5" fill="#333333" font-size="24" text-anchor="end">0.0</text>
<line x1="975.3" y1="1865.2" x2="975.3" y2="1869.4" stroke="#B3B3B3" stroke-width="1.3"/>
<text transform="translate(987.4,1883.2) rotate(-40)" fill="#333333" font-size="24.5" text-anchor="end">0 to 1</text>
<line x1="1083.4" y1="1865.2" x2="1083.4" y2="1869.4" stroke="#B3B3B3" stroke-width="1.3"/>
<text transform="translate(1095.5,1883.2) rotate(-40)" fill="#333333" font-size="24.5" text-anchor="end">2 to 5</text>
<line x1="1191.4" y1="1865.2" x2="1191.4" y2="1869.4" stroke="#B3B3B3" stroke-width="1.3"/>
<text transform="translate(1203.5,1883.2) rotate(-40)" fill="#333333" font-size="24.5" text-anchor="end">more than 5</text>
<text x="910.3" y="1564.4" fill="#000" font-size="29" letter-spacing="0.12">TPSA (log<tspan font-size="16.5" dx="1.6" dy="9.2">10</tspan><tspan dx="-0.8" dy="-9.2">)</tspan></text>
<rect x="1299.4" y="1574.5" width="345.9" height="290.7" fill="#fff"/>
<line x1="1299.4" y1="1614.3" x2="1645.3" y2="1614.3" stroke="#F0F0F0" stroke-width="0.8"/>
<line x1="1299.4" y1="1726.3" x2="1645.3" y2="1726.3" stroke="#F0F0F0" stroke-width="0.8"/>
<line x1="1299.4" y1="1837.9" x2="1645.3" y2="1837.9" stroke="#F0F0F0" stroke-width="0.8"/>
<line x1="1299.4" y1="1670" x2="1645.3" y2="1670" stroke="#EAEAEA" stroke-width="0.95"/>
<line x1="1299.4" y1="1782.1" x2="1645.3" y2="1782.1" stroke="#EAEAEA" stroke-width="0.95"/>
<line x1="1364.4" y1="1574.5" x2="1364.4" y2="1865.2" stroke="#EAEAEA" stroke-width="0.95"/>
<line x1="1472.5" y1="1574.5" x2="1472.5" y2="1865.2" stroke="#EAEAEA" stroke-width="0.95"/>
<line x1="1580.5" y1="1574.5" x2="1580.5" y2="1865.2" stroke="#EAEAEA" stroke-width="0.95"/>
<g fill="#7D918E" fill-opacity="0.62" stroke="#1C2626" stroke-width="1">
<circle cx="1362.06" cy="1707.31" r="3.3"/>
<circle cx="1369.56" cy="1707.48" r="3.3"/>
<circle cx="1361.41" cy="1710.32" r="3.3"/>
<circle cx="1368.97" cy="1711.28" r="3.3"/>
<circle cx="1360.02" cy="1715.08" r="3.3"/>
<circle cx="1367.2" cy="1715.27" r="3.3"/>
<circle cx="1358.54" cy="1717.97" r="3.3"/>
<circle cx="1362.8" cy="1718.44" r="3.3"/>
<circle cx="1367.49" cy="1718.3" r="3.3"/>
<circle cx="1359.23" cy="1723.84" r="3.3"/>
<circle cx="1363.53" cy="1723.5" r="3.3"/>
<circle cx="1367.18" cy="1722.79" r="3.3"/>
<circle cx="1359.49" cy="1726.9" r="3.3"/>
<circle cx="1368.26" cy="1727.23" r="3.3"/>
<circle cx="1363.25" cy="1730.45" r="3.3"/>
<circle cx="1366.95" cy="1731.6" r="3.3"/>
<circle cx="1363.24" cy="1735.04" r="3.3"/>
<circle cx="1366.97" cy="1735.27" r="3.3"/>
<circle cx="1363.4" cy="1738.97" r="3.3"/>
<circle cx="1367.17" cy="1739.47" r="3.3"/>
<circle cx="1358.29" cy="1743.4" r="3.3"/>
<circle cx="1363.23" cy="1743.12" r="3.3"/>
<circle cx="1367.99" cy="1742.87" r="3.3"/>
<circle cx="1355.2" cy="1747.93" r="3.3"/>
<circle cx="1360.31" cy="1748.12" r="3.3"/>
<circle cx="1364.49" cy="1747.65" r="3.3"/>
<circle cx="1369.39" cy="1748.44" r="3.3"/>
<circle cx="1359.99" cy="1751.1" r="3.3"/>
<circle cx="1363.84" cy="1752.38" r="3.3"/>
<circle cx="1368.28" cy="1752.01" r="3.3"/>
<circle cx="1360.36" cy="1756.52" r="3.3"/>
<circle cx="1364.21" cy="1755.76" r="3.3"/>
<circle cx="1369.4" cy="1755.77" r="3.3"/>
<circle cx="1359.87" cy="1759.68" r="3.3"/>
<circle cx="1365.09" cy="1759.68" r="3.3"/>
<circle cx="1369.34" cy="1760.63" r="3.3"/>
<circle cx="1359.55" cy="1764.67" r="3.3"/>
<circle cx="1364.47" cy="1763.19" r="3.3"/>
<circle cx="1369.59" cy="1763.89" r="3.3"/>
<circle cx="1357.63" cy="1767.3" r="3.3"/>
<circle cx="1363.9" cy="1768.14" r="3.3"/>
<circle cx="1368.27" cy="1768.87" r="3.3"/>
<circle cx="1356.94" cy="1772.51" r="3.3"/>
<circle cx="1362.52" cy="1773.16" r="3.3"/>
<circle cx="1367.9" cy="1771.61" r="3.3"/>
<circle cx="1361.53" cy="1776.02" r="3.3"/>
<circle cx="1367.91" cy="1776.48" r="3.3"/>
<circle cx="1359.17" cy="1781.23" r="3.3"/>
<circle cx="1364.46" cy="1781.19" r="3.3"/>
<circle cx="1369" cy="1781.06" r="3.3"/>
<circle cx="1357.42" cy="1784.69" r="3.3"/>
<circle cx="1362.84" cy="1785.25" r="3.3"/>
<circle cx="1369.6" cy="1784.95" r="3.3"/>
<circle cx="1358.9" cy="1788.88" r="3.3"/>
<circle cx="1363.52" cy="1788.73" r="3.3"/>
<circle cx="1368.04" cy="1788.66" r="3.3"/>
<circle cx="1360.83" cy="1793.01" r="3.3"/>
<circle cx="1367.03" cy="1792" r="3.3"/>
<circle cx="1362.63" cy="1796.24" r="3.3"/>
<circle cx="1367.39" cy="1797.78" r="3.3"/>
<circle cx="1362.24" cy="1801.08" r="3.3"/>
<circle cx="1366.73" cy="1801.34" r="3.3"/>
<circle cx="1362.61" cy="1804.66" r="3.3"/>
<circle cx="1366.13" cy="1805.17" r="3.3"/>
<circle cx="1362.46" cy="1808.51" r="3.3"/>
<circle cx="1366.57" cy="1809.93" r="3.3"/>
<circle cx="1362.98" cy="1812.66" r="3.3"/>
<circle cx="1367.44" cy="1813.57" r="3.3"/>
<circle cx="1364.94" cy="1817.43" r="3.3"/>
<circle cx="1364.75" cy="1820.7" r="3.3"/>
<circle cx="1358.58" cy="1825.84" r="3.3"/>
<circle cx="1362.37" cy="1824.83" r="3.3"/>
<circle cx="1367.28" cy="1826.22" r="3.3"/>
<circle cx="1363.17" cy="1829.43" r="3.3"/>
<circle cx="1365.64" cy="1829.96" r="3.3"/>
<circle cx="1364.88" cy="1834.39" r="3.3"/>
<circle cx="1365.18" cy="1837.51" r="3.3"/>
<circle cx="1354.87" cy="1746.79" r="3.3"/>
<circle cx="1359.81" cy="1746.79" r="3.3"/>
<circle cx="1364.76" cy="1746.79" r="3.3"/>
<circle cx="1369.7" cy="1746.79" r="3.3"/>
<circle cx="1356.66" cy="1782.5" r="3.3"/>
<circle cx="1363.18" cy="1782.5" r="3.3"/>
<circle cx="1369.7" cy="1782.5" r="3.3"/>
<circle cx="1358.44" cy="1825.36" r="3.3"/>
<circle cx="1362.73" cy="1825.36" r="3.3"/>
<circle cx="1367.02" cy="1825.36" r="3.3"/>
<circle cx="1364.43" cy="1613.39" r="3.3"/>
<circle cx="1364.43" cy="1633.93" r="3.3"/>
<circle cx="1364.43" cy="1667.86" r="3.3"/>
<circle cx="1367.29" cy="1670" r="3.3"/>
<circle cx="1364.43" cy="1675.36" r="3.3"/>
<circle cx="1364.43" cy="1686.96" r="3.3"/>
<circle cx="1363.18" cy="1694.11" r="3.3"/>
<circle cx="1368" cy="1693.21" r="3.3"/>
<circle cx="1364.43" cy="1700" r="3.3"/>
<circle cx="1364.43" cy="1851.25" r="3.3"/>
<circle cx="1472.6" cy="1674.27" r="3.3"/>
<circle cx="1472.41" cy="1678.55" r="3.3"/>
<circle cx="1472.8" cy="1681.38" r="3.3"/>
<circle cx="1474.28" cy="1686.44" r="3.3"/>
<circle cx="1473.13" cy="1690.25" r="3.3"/>
<circle cx="1472.62" cy="1694.53" r="3.3"/>
<circle cx="1472.48" cy="1697.23" r="3.3"/>
<circle cx="1472.35" cy="1701.8" r="3.3"/>
<circle cx="1472.88" cy="1705.76" r="3.3"/>
<circle cx="1470.65" cy="1711.3" r="3.3"/>
<circle cx="1475.19" cy="1710.96" r="3.3"/>
<circle cx="1467.44" cy="1714.35" r="3.3"/>
<circle cx="1471.22" cy="1714.37" r="3.3"/>
<circle cx="1476.23" cy="1714.7" r="3.3"/>
<circle cx="1468.25" cy="1717.91" r="3.3"/>
<circle cx="1476.12" cy="1719.07" r="3.3"/>
<circle cx="1470.24" cy="1722.5" r="3.3"/>
<circle cx="1475.65" cy="1722.73" r="3.3"/>
<circle cx="1471" cy="1726.44" r="3.3"/>
<circle cx="1475.65" cy="1726.93" r="3.3"/>
<circle cx="1469.82" cy="1730.87" r="3.3"/>
<circle cx="1475.69" cy="1730.59" r="3.3"/>
<circle cx="1470.12" cy="1734.44" r="3.3"/>
<circle cx="1476" cy="1735.39" r="3.3"/>
<circle cx="1469.67" cy="1739.68" r="3.3"/>
<circle cx="1473.29" cy="1739.21" r="3.3"/>
<circle cx="1477.63" cy="1740" r="3.3"/>
<circle cx="1465.72" cy="1742.66" r="3.3"/>
<circle cx="1470.34" cy="1743.95" r="3.3"/>
<circle cx="1475.55" cy="1743.57" r="3.3"/>
<circle cx="1480.36" cy="1743.99" r="3.3"/>
<circle cx="1463.92" cy="1747.32" r="3.3"/>
<circle cx="1470.1" cy="1747.34" r="3.3"/>
<circle cx="1474.91" cy="1747.14" r="3.3"/>
<circle cx="1480.84" cy="1747.14" r="3.3"/>
<circle cx="1465.06" cy="1752.19" r="3.3"/>
<circle cx="1469.96" cy="1752.14" r="3.3"/>
<circle cx="1474.78" cy="1750.66" r="3.3"/>
<circle cx="1479.81" cy="1751.35" r="3.3"/>
<circle cx="1467.66" cy="1754.77" r="3.3"/>
<circle cx="1473.71" cy="1755.61" r="3.3"/>
<circle cx="1477.86" cy="1756.33" r="3.3"/>
<circle cx="1470.71" cy="1759.97" r="3.3"/>
<circle cx="1476.92" cy="1760.62" r="3.3"/>
<circle cx="1469.8" cy="1763.17" r="3.3"/>
<circle cx="1477.76" cy="1763.49" r="3.3"/>
<circle cx="1469.3" cy="1768.05" r="3.3"/>
<circle cx="1473.72" cy="1768.7" r="3.3"/>
<circle cx="1477.89" cy="1768.66" r="3.3"/>
<circle cx="1469.71" cy="1772.62" r="3.3"/>
<circle cx="1476.17" cy="1772.16" r="3.3"/>
<circle cx="1469.98" cy="1776.82" r="3.3"/>
<circle cx="1475.63" cy="1776.51" r="3.3"/>
<circle cx="1471.94" cy="1780.45" r="3.3"/>
<circle cx="1475.26" cy="1780.29" r="3.3"/>
<circle cx="1473.96" cy="1784.33" r="3.3"/>
<circle cx="1473.38" cy="1788.67" r="3.3"/>
<circle cx="1471.07" cy="1791.77" r="3.3"/>
<circle cx="1475.47" cy="1791.9" r="3.3"/>
<circle cx="1470.71" cy="1797.54" r="3.3"/>
<circle cx="1475.39" cy="1796.74" r="3.3"/>
<circle cx="1471.8" cy="1801.1" r="3.3"/>
<circle cx="1474.83" cy="1800.32" r="3.3"/>
<circle cx="1472.52" cy="1804.93" r="3.3"/>
<circle cx="1466.48" cy="1716.43" r="3.3"/>
<circle cx="1471.21" cy="1716.43" r="3.3"/>
<circle cx="1475.95" cy="1716.43" r="3.3"/>
<circle cx="1463.8" cy="1745" r="3.3"/>
<circle cx="1469.64" cy="1745" r="3.3"/>
<circle cx="1475.47" cy="1745" r="3.3"/>
<circle cx="1481.31" cy="1745" r="3.3"/>
<circle cx="1470.05" cy="1796.79" r="3.3"/>
<circle cx="1475.95" cy="1796.79" r="3.3"/>
<circle cx="1472.46" cy="1619.64" r="3.3"/>
<circle cx="1472.46" cy="1652.14" r="3.3"/>
<circle cx="1472.46" cy="1657.14" r="3.3"/>
<circle cx="1472.46" cy="1831.25" r="3.3"/>
<circle cx="1472.46" cy="1851.79" r="3.3"/>
<circle cx="1581.53" cy="1704.63" r="3.3"/>
<circle cx="1580.82" cy="1708.91" r="3.3"/>
<circle cx="1578.7" cy="1711.74" r="3.3"/>
<circle cx="1583.04" cy="1712.7" r="3.3"/>
<circle cx="1577.32" cy="1716.51" r="3.3"/>
<circle cx="1583.66" cy="1716.69" r="3.3"/>
<circle cx="1577.14" cy="1719.39" r="3.3"/>
<circle cx="1583.88" cy="1719.86" r="3.3"/>
<circle cx="1578.3" cy="1723.82" r="3.3"/>
<circle cx="1582.91" cy="1725.26" r="3.3"/>
<circle cx="1578.06" cy="1729.02" r="3.3"/>
<circle cx="1583.11" cy="1728.31" r="3.3"/>
<circle cx="1576.65" cy="1732.43" r="3.3"/>
<circle cx="1581.62" cy="1732.76" r="3.3"/>
<circle cx="1585.32" cy="1731.87" r="3.3"/>
<circle cx="1575" cy="1737.12" r="3.3"/>
<circle cx="1580.56" cy="1736.46" r="3.3"/>
<circle cx="1587.49" cy="1736.69" r="3.3"/>
<circle cx="1573.79" cy="1740.39" r="3.3"/>
<circle cx="1578.34" cy="1740.89" r="3.3"/>
<circle cx="1582.74" cy="1740.72" r="3.3"/>
<circle cx="1587.57" cy="1740.44" r="3.3"/>
<circle cx="1574.89" cy="1744.29" r="3.3"/>
<circle cx="1580.09" cy="1745.25" r="3.3"/>
<circle cx="1585.85" cy="1745.44" r="3.3"/>
<circle cx="1577.44" cy="1749.07" r="3.3"/>
<circle cx="1584.1" cy="1749.86" r="3.3"/>
<circle cx="1579.74" cy="1752.52" r="3.3"/>
<circle cx="1583.17" cy="1753.81" r="3.3"/>
<circle cx="1578.39" cy="1757.53" r="3.3"/>
<circle cx="1584.07" cy="1757.94" r="3.3"/>
<circle cx="1576.03" cy="1761.28" r="3.3"/>
<circle cx="1581.1" cy="1761.29" r="3.3"/>
<circle cx="1584.81" cy="1761.1" r="3.3"/>
<circle cx="1577.5" cy="1765.2" r="3.3"/>
<circle cx="1584.16" cy="1766.15" r="3.3"/>
<circle cx="1578.65" cy="1770.19" r="3.3"/>
<circle cx="1582.27" cy="1768.71" r="3.3"/>
<circle cx="1578.64" cy="1773.51" r="3.3"/>
<circle cx="1582.61" cy="1772.82" r="3.3"/>
<circle cx="1578.7" cy="1777.76" r="3.3"/>
<circle cx="1583.41" cy="1778.49" r="3.3"/>
<circle cx="1577.95" cy="1782.13" r="3.3"/>
<circle cx="1584.38" cy="1782.78" r="3.3"/>
<circle cx="1578.07" cy="1785.33" r="3.3"/>
<circle cx="1585.21" cy="1785.64" r="3.3"/>
<circle cx="1578.58" cy="1790.2" r="3.3"/>
<circle cx="1583.81" cy="1790.86" r="3.3"/>
<circle cx="1579.65" cy="1794.92" r="3.3"/>
<circle cx="1582.2" cy="1794.78" r="3.3"/>
<circle cx="1579.58" cy="1798.41" r="3.3"/>
<circle cx="1581.86" cy="1798.97" r="3.3"/>
<circle cx="1581.59" cy="1802.77" r="3.3"/>
<circle cx="1580.76" cy="1806.7" r="3.3"/>
<circle cx="1580.79" cy="1810.65" r="3.3"/>
<circle cx="1577.19" cy="1718.21" r="3.3"/>
<circle cx="1584.88" cy="1718.21" r="3.3"/>
<circle cx="1572.73" cy="1739.64" r="3.3"/>
<circle cx="1577.97" cy="1739.64" r="3.3"/>
<circle cx="1583.21" cy="1739.64" r="3.3"/>
<circle cx="1588.45" cy="1739.64" r="3.3"/>
<circle cx="1563.8" cy="1763.39" r="3.3"/>
<circle cx="1568.95" cy="1763.39" r="3.3"/>
<circle cx="1574.1" cy="1763.39" r="3.3"/>
<circle cx="1579.25" cy="1763.39" r="3.3"/>
<circle cx="1584.4" cy="1763.39" r="3.3"/>
<circle cx="1589.55" cy="1763.39" r="3.3"/>
<circle cx="1594.7" cy="1763.39" r="3.3"/>
<circle cx="1580.5" cy="1587.86" r="3.3"/>
<circle cx="1580.5" cy="1616.96" r="3.3"/>
<circle cx="1580.5" cy="1668.75" r="3.3"/>
<circle cx="1577.46" cy="1672.68" r="3.3"/>
<circle cx="1582.82" cy="1672.68" r="3.3"/>
<circle cx="1586.39" cy="1672.14" r="3.3"/>
<circle cx="1580.5" cy="1681.61" r="3.3"/>
<circle cx="1577.46" cy="1690.89" r="3.3"/>
<circle cx="1580.5" cy="1690.89" r="3.3"/>
<circle cx="1583.71" cy="1690.89" r="3.3"/>
<circle cx="1580.5" cy="1699.46" r="3.3"/>
<circle cx="1579.79" cy="1826.25" r="3.3"/>
<circle cx="1580.5" cy="1829.82" r="3.3"/>
<circle cx="1583.71" cy="1828.93" r="3.3"/>
</g>
<path d="M1357.29 1757.14H1371.57M1364.43 1750.36V1763.75" stroke="#CC2A2E" stroke-width="1.8" fill="none"/>
<path d="M1465.32 1745.36H1479.61M1472.46 1738.75V1752.14" stroke="#CC2A2E" stroke-width="1.8" fill="none"/>
<path d="M1573.36 1746.79H1587.64M1580.5 1740.54V1753.93" stroke="#CC2A2E" stroke-width="1.8" fill="none"/>
<rect x="1299.4" y="1574.5" width="345.9" height="290.7" fill="none" stroke="#B3B3B3" stroke-width="1.3"/>
<line x1="1295.2" y1="1670" x2="1299.4" y2="1670" stroke="#B3B3B3" stroke-width="1.3"/>
<text x="1291.8" y="1678.4" fill="#333333" font-size="24" text-anchor="end">3.0</text>
<line x1="1295.2" y1="1782.1" x2="1299.4" y2="1782.1" stroke="#B3B3B3" stroke-width="1.3"/>
<text x="1291.8" y="1790.5" fill="#333333" font-size="24" text-anchor="end">2.5</text>
<line x1="1364.4" y1="1865.2" x2="1364.4" y2="1869.4" stroke="#B3B3B3" stroke-width="1.3"/>
<text transform="translate(1376.5,1883.2) rotate(-40)" fill="#333333" font-size="24.5" text-anchor="end">0 to 1</text>
<line x1="1472.5" y1="1865.2" x2="1472.5" y2="1869.4" stroke="#B3B3B3" stroke-width="1.3"/>
<text transform="translate(1484.6,1883.2) rotate(-40)" fill="#333333" font-size="24.5" text-anchor="end">2 to 5</text>
<line x1="1580.5" y1="1865.2" x2="1580.5" y2="1869.4" stroke="#B3B3B3" stroke-width="1.3"/>
<text transform="translate(1592.6,1883.2) rotate(-40)" fill="#333333" font-size="24.5" text-anchor="end">more than 5</text>
<text x="1299.6" y="1564.4" fill="#000" font-size="29" letter-spacing="0.12">Complexity (log<tspan font-size="16.5" dx="1.6" dy="9.2">10</tspan><tspan dx="-0.8" dy="-9.2">)</tspan></text>
<rect x="1703.2" y="1574.5" width="342.2" height="290.7" fill="#fff"/>
<line x1="1703.2" y1="1625.3" x2="2045.4" y2="1625.3" stroke="#F0F0F0" stroke-width="0.8"/>
<line x1="1703.2" y1="1688.1" x2="2045.4" y2="1688.1" stroke="#F0F0F0" stroke-width="0.8"/>
<line x1="1703.2" y1="1750.5" x2="2045.4" y2="1750.5" stroke="#F0F0F0" stroke-width="0.8"/>
<line x1="1703.2" y1="1813.1" x2="2045.4" y2="1813.1" stroke="#F0F0F0" stroke-width="0.8"/>
<line x1="1703.2" y1="1594" x2="2045.4" y2="1594" stroke="#EAEAEA" stroke-width="0.95"/>
<line x1="1703.2" y1="1656.7" x2="2045.4" y2="1656.7" stroke="#EAEAEA" stroke-width="0.95"/>
<line x1="1703.2" y1="1719.6" x2="2045.4" y2="1719.6" stroke="#EAEAEA" stroke-width="0.95"/>
<line x1="1703.2" y1="1781.4" x2="2045.4" y2="1781.4" stroke="#EAEAEA" stroke-width="0.95"/>
<line x1="1703.2" y1="1844.8" x2="2045.4" y2="1844.8" stroke="#EAEAEA" stroke-width="0.95"/>
<line x1="1767.3" y1="1574.5" x2="1767.3" y2="1865.2" stroke="#EAEAEA" stroke-width="0.95"/>
<line x1="1874.5" y1="1574.5" x2="1874.5" y2="1865.2" stroke="#EAEAEA" stroke-width="0.95"/>
<line x1="1981" y1="1574.5" x2="1981" y2="1865.2" stroke="#EAEAEA" stroke-width="0.95"/>
<g fill="#7D918E" fill-opacity="0.62" stroke="#1C2626" stroke-width="1">
<circle cx="1769.21" cy="1692.28" r="3.3"/>
<circle cx="1768.22" cy="1697.7" r="3.3"/>
<circle cx="1767.46" cy="1701.14" r="3.3"/>
<circle cx="1765.11" cy="1704.67" r="3.3"/>
<circle cx="1769.76" cy="1705.32" r="3.3"/>
<circle cx="1765.05" cy="1709.97" r="3.3"/>
<circle cx="1770.71" cy="1708.57" r="3.3"/>
<circle cx="1765.63" cy="1713.84" r="3.3"/>
<circle cx="1770.11" cy="1714.2" r="3.3"/>
<circle cx="1767.76" cy="1717.07" r="3.3"/>
<circle cx="1767.82" cy="1721.36" r="3.3"/>
<circle cx="1767.44" cy="1725.01" r="3.3"/>
<circle cx="1767.93" cy="1729.54" r="3.3"/>
<circle cx="1765.04" cy="1733" r="3.3"/>
<circle cx="1770.05" cy="1733.6" r="3.3"/>
<circle cx="1763.09" cy="1737.77" r="3.3"/>
<circle cx="1769.87" cy="1737.73" r="3.3"/>
<circle cx="1762.28" cy="1741.43" r="3.3"/>
<circle cx="1766.09" cy="1742.54" r="3.3"/>
<circle cx="1771.27" cy="1743.04" r="3.3"/>
<circle cx="1762.29" cy="1746.69" r="3.3"/>
<circle cx="1766.61" cy="1746.25" r="3.3"/>
<circle cx="1771.62" cy="1745.69" r="3.3"/>
<circle cx="1762.45" cy="1751.25" r="3.3"/>
<circle cx="1767.14" cy="1751.21" r="3.3"/>
<circle cx="1771.53" cy="1749.87" r="3.3"/>
<circle cx="1763.39" cy="1755.3" r="3.3"/>
<circle cx="1767.8" cy="1754.63" r="3.3"/>
<circle cx="1773.58" cy="1754.33" r="3.3"/>
<circle cx="1763.02" cy="1758.27" r="3.3"/>
<circle cx="1768.36" cy="1758.25" r="3.3"/>
<circle cx="1772.5" cy="1758.95" r="3.3"/>
<circle cx="1764.12" cy="1762.05" r="3.3"/>
<circle cx="1768.05" cy="1761.66" r="3.3"/>
<circle cx="1772.25" cy="1762.64" r="3.3"/>
<circle cx="1765.14" cy="1766.76" r="3.3"/>
<circle cx="1771.82" cy="1766.05" r="3.3"/>
<circle cx="1765" cy="1770.33" r="3.3"/>
<circle cx="1770.77" cy="1769.91" r="3.3"/>
<circle cx="1764.83" cy="1775.57" r="3.3"/>
<circle cx="1770.13" cy="1774.57" r="3.3"/>
<circle cx="1765.13" cy="1779.29" r="3.3"/>
<circle cx="1770.63" cy="1778.81" r="3.3"/>
<circle cx="1766.59" cy="1783.05" r="3.3"/>
<circle cx="1769.78" cy="1782.13" r="3.3"/>
<circle cx="1766.43" cy="1786.4" r="3.3"/>
<circle cx="1769.75" cy="1787.49" r="3.3"/>
<circle cx="1761.28" cy="1790.76" r="3.3"/>
<circle cx="1767.64" cy="1791.96" r="3.3"/>
<circle cx="1773.7" cy="1790.47" r="3.3"/>
<circle cx="1761.38" cy="1795.88" r="3.3"/>
<circle cx="1766.89" cy="1794.48" r="3.3"/>
<circle cx="1772.64" cy="1796.27" r="3.3"/>
<circle cx="1762.56" cy="1798.68" r="3.3"/>
<circle cx="1766.45" cy="1799.32" r="3.3"/>
<circle cx="1770.52" cy="1799.63" r="3.3"/>
<circle cx="1760.51" cy="1803.7" r="3.3"/>
<circle cx="1766.37" cy="1803.58" r="3.3"/>
<circle cx="1772.31" cy="1802.64" r="3.3"/>
<circle cx="1762.51" cy="1808.03" r="3.3"/>
<circle cx="1767" cy="1807.93" r="3.3"/>
<circle cx="1770.83" cy="1807.85" r="3.3"/>
<circle cx="1758.5" cy="1792.58" r="3.3"/>
<circle cx="1764.31" cy="1792.58" r="3.3"/>
<circle cx="1770.13" cy="1792.58" r="3.3"/>
<circle cx="1775.94" cy="1792.58" r="3.3"/>
<circle cx="1760.28" cy="1805.04" r="3.3"/>
<circle cx="1766.33" cy="1805.04" r="3.3"/>
<circle cx="1772.38" cy="1805.04" r="3.3"/>
<circle cx="1767.31" cy="1646.92" r="3.3"/>
<circle cx="1765.88" cy="1655.11" r="3.3"/>
<circle cx="1770.87" cy="1654.58" r="3.3"/>
<circle cx="1767.31" cy="1667.04" r="3.3"/>
<circle cx="1766.24" cy="1673.28" r="3.3"/>
<circle cx="1769.8" cy="1675.06" r="3.3"/>
<circle cx="1767.31" cy="1677.73" r="3.3"/>
<circle cx="1767.31" cy="1821.07" r="3.3"/>
<circle cx="1770.33" cy="1820.18" r="3.3"/>
<circle cx="1767.31" cy="1826.41" r="3.3"/>
<circle cx="1767.31" cy="1831.75" r="3.3"/>
<circle cx="1767.31" cy="1837.98" r="3.3"/>
<circle cx="1767.31" cy="1851.34" r="3.3"/>
<circle cx="1871.78" cy="1705.63" r="3.3"/>
<circle cx="1877" cy="1706.95" r="3.3"/>
<circle cx="1871.01" cy="1710.39" r="3.3"/>
<circle cx="1878.32" cy="1709.83" r="3.3"/>
<circle cx="1872.38" cy="1714.57" r="3.3"/>
<circle cx="1877.75" cy="1715.13" r="3.3"/>
<circle cx="1873.53" cy="1717.83" r="3.3"/>
<circle cx="1877.24" cy="1719" r="3.3"/>
<circle cx="1873.37" cy="1723.46" r="3.3"/>
<circle cx="1876.98" cy="1722.23" r="3.3"/>
<circle cx="1873.21" cy="1726.51" r="3.3"/>
<circle cx="1876.62" cy="1726.06" r="3.3"/>
<circle cx="1872.97" cy="1730.59" r="3.3"/>
<circle cx="1877.54" cy="1729.95" r="3.3"/>
<circle cx="1875" cy="1734.65" r="3.3"/>
<circle cx="1874.42" cy="1738.82" r="3.3"/>
<circle cx="1874.15" cy="1742.88" r="3.3"/>
<circle cx="1874.92" cy="1746.59" r="3.3"/>
<circle cx="1874.97" cy="1751.79" r="3.3"/>
<circle cx="1871.87" cy="1756.39" r="3.3"/>
<circle cx="1877.76" cy="1755.94" r="3.3"/>
<circle cx="1868.14" cy="1759.61" r="3.3"/>
<circle cx="1874.56" cy="1759.05" r="3.3"/>
<circle cx="1879.35" cy="1760.5" r="3.3"/>
<circle cx="1869.2" cy="1764.57" r="3.3"/>
<circle cx="1873.74" cy="1763.22" r="3.3"/>
<circle cx="1879.38" cy="1764.56" r="3.3"/>
<circle cx="1871.38" cy="1767.98" r="3.3"/>
<circle cx="1877.94" cy="1767.69" r="3.3"/>
<circle cx="1872.14" cy="1771.63" r="3.3"/>
<circle cx="1877.16" cy="1771.6" r="3.3"/>
<circle cx="1873.13" cy="1776.4" r="3.3"/>
<circle cx="1876.68" cy="1775.4" r="3.3"/>
<circle cx="1873.29" cy="1779.12" r="3.3"/>
<circle cx="1877.63" cy="1780.1" r="3.3"/>
<circle cx="1874.29" cy="1784.21" r="3.3"/>
<circle cx="1877.23" cy="1783.51" r="3.3"/>
<circle cx="1872.66" cy="1787.78" r="3.3"/>
<circle cx="1877.68" cy="1787.37" r="3.3"/>
<circle cx="1872.09" cy="1793.02" r="3.3"/>
<circle cx="1878.65" cy="1792.02" r="3.3"/>
<circle cx="1873.24" cy="1796.74" r="3.3"/>
<circle cx="1878.27" cy="1796.26" r="3.3"/>
<circle cx="1874.09" cy="1800.5" r="3.3"/>
<circle cx="1876.57" cy="1799.58" r="3.3"/>
<circle cx="1875.45" cy="1803.85" r="3.3"/>
<circle cx="1871.57" cy="1792.58" r="3.3"/>
<circle cx="1879.21" cy="1792.58" r="3.3"/>
<circle cx="1872.72" cy="1649.77" r="3.3"/>
<circle cx="1877.17" cy="1648.35" r="3.3"/>
<circle cx="1874.5" cy="1659.92" r="3.3"/>
<circle cx="1874.5" cy="1665.26" r="3.3"/>
<circle cx="1868.27" cy="1672.39" r="3.3"/>
<circle cx="1873.61" cy="1672.39" r="3.3"/>
<circle cx="1878.06" cy="1672.39" r="3.3"/>
<circle cx="1870.94" cy="1675.95" r="3.3"/>
<circle cx="1875.39" cy="1675.95" r="3.3"/>
<circle cx="1874.5" cy="1678.97" r="3.3"/>
<circle cx="1874.5" cy="1688.41" r="3.3"/>
<circle cx="1874.5" cy="1695.53" r="3.3"/>
<circle cx="1874.5" cy="1699.99" r="3.3"/>
<circle cx="1874.5" cy="1816.62" r="3.3"/>
<circle cx="1874.5" cy="1839.76" r="3.3"/>
<circle cx="1982" cy="1661.12" r="3.3"/>
<circle cx="1981.35" cy="1666.54" r="3.3"/>
<circle cx="1981.35" cy="1669.98" r="3.3"/>
<circle cx="1982.46" cy="1673.51" r="3.3"/>
<circle cx="1982.05" cy="1678.26" r="3.3"/>
<circle cx="1981.34" cy="1682.91" r="3.3"/>
<circle cx="1981.1" cy="1685.61" r="3.3"/>
<circle cx="1981.37" cy="1690.88" r="3.3"/>
<circle cx="1979.87" cy="1695.34" r="3.3"/>
<circle cx="1984.24" cy="1694.11" r="3.3"/>
<circle cx="1976.39" cy="1698.4" r="3.3"/>
<circle cx="1980.42" cy="1697.94" r="3.3"/>
<circle cx="1985.43" cy="1698.38" r="3.3"/>
<circle cx="1977.66" cy="1701.84" r="3.3"/>
<circle cx="1985.1" cy="1702.43" r="3.3"/>
<circle cx="1979.08" cy="1706.61" r="3.3"/>
<circle cx="1983.96" cy="1706.57" r="3.3"/>
<circle cx="1979.37" cy="1710.27" r="3.3"/>
<circle cx="1984.52" cy="1711.38" r="3.3"/>
<circle cx="1979.51" cy="1715.98" r="3.3"/>
<circle cx="1984.74" cy="1715.53" r="3.3"/>
<circle cx="1978.09" cy="1719.19" r="3.3"/>
<circle cx="1985.54" cy="1718.63" r="3.3"/>
<circle cx="1977.45" cy="1724.19" r="3.3"/>
<circle cx="1984.81" cy="1724.15" r="3.3"/>
<circle cx="1977.01" cy="1726.91" r="3.3"/>
<circle cx="1985.52" cy="1728.24" r="3.3"/>
<circle cx="1977.31" cy="1731.66" r="3.3"/>
<circle cx="1985.09" cy="1731.37" r="3.3"/>
<circle cx="1976.48" cy="1735.31" r="3.3"/>
<circle cx="1981.14" cy="1735.29" r="3.3"/>
<circle cx="1984.61" cy="1735.99" r="3.3"/>
<circle cx="1975.62" cy="1739.08" r="3.3"/>
<circle cx="1980.81" cy="1738.7" r="3.3"/>
<circle cx="1986.26" cy="1739.68" r="3.3"/>
<circle cx="1975.44" cy="1743.8" r="3.3"/>
<circle cx="1981.08" cy="1743.09" r="3.3"/>
<circle cx="1985.51" cy="1743.27" r="3.3"/>
<circle cx="1975.32" cy="1746.95" r="3.3"/>
<circle cx="1980.97" cy="1748.51" r="3.3"/>
<circle cx="1985.39" cy="1747.51" r="3.3"/>
<circle cx="1976.64" cy="1752.23" r="3.3"/>
<circle cx="1981.14" cy="1751.75" r="3.3"/>
<circle cx="1985.66" cy="1751.89" r="3.3"/>
<circle cx="1976.95" cy="1755.07" r="3.3"/>
<circle cx="1981.72" cy="1755.24" r="3.3"/>
<circle cx="1985.53" cy="1756.33" r="3.3"/>
<circle cx="1977.62" cy="1759.6" r="3.3"/>
<circle cx="1981.99" cy="1760.8" r="3.3"/>
<circle cx="1986.06" cy="1759.31" r="3.3"/>
<circle cx="1977.61" cy="1764.72" r="3.3"/>
<circle cx="1983.88" cy="1763.31" r="3.3"/>
<circle cx="1977.92" cy="1769.21" r="3.3"/>
<circle cx="1982.56" cy="1767.52" r="3.3"/>
<circle cx="1980.69" cy="1772.26" r="3.3"/>
<circle cx="1979.72" cy="1776.67" r="3.3"/>
<circle cx="1982.33" cy="1776.64" r="3.3"/>
<circle cx="1980.05" cy="1780.62" r="3.3"/>
<circle cx="1983.55" cy="1779.68" r="3.3"/>
<circle cx="1982.27" cy="1785.07" r="3.3"/>
<circle cx="1982.23" cy="1789.06" r="3.3"/>
<circle cx="1981.55" cy="1793.09" r="3.3"/>
<circle cx="1981.78" cy="1797.98" r="3.3"/>
<circle cx="1982.32" cy="1800.93" r="3.3"/>
<circle cx="1975.74" cy="1699.1" r="3.3"/>
<circle cx="1980.45" cy="1699.1" r="3.3"/>
<circle cx="1985.16" cy="1699.1" r="3.3"/>
<circle cx="1980.98" cy="1616.83" r="3.3"/>
<circle cx="1980.45" cy="1630.54" r="3.3"/>
<circle cx="1984.54" cy="1630.54" r="3.3"/>
<circle cx="1980.98" cy="1806.82" r="3.3"/>
<circle cx="1980.98" cy="1812.17" r="3.3"/>
<circle cx="1980.98" cy="1818.4" r="3.3"/>
<circle cx="1980.98" cy="1822.85" r="3.3"/>
<circle cx="1980.98" cy="1833.53" r="3.3"/>
<circle cx="1980.98" cy="1843.33" r="3.3"/>
<circle cx="1980.98" cy="1852.23" r="3.3"/>
</g>
<path d="M1760.19 1755.72H1774.43M1767.31 1748.95V1762.31" stroke="#CC2A2E" stroke-width="1.8" fill="none"/>
<path d="M1867.02 1740.58H1881.27M1874.15 1733.82V1747.17" stroke="#CC2A2E" stroke-width="1.8" fill="none"/>
<path d="M1973.86 1736.13H1988.11M1980.98 1729.01V1743.61" stroke="#CC2A2E" stroke-width="1.8" fill="none"/>
<rect x="1703.2" y="1574.5" width="342.2" height="290.7" fill="none" stroke="#B3B3B3" stroke-width="1.3"/>
<line x1="1699" y1="1594" x2="1703.2" y2="1594" stroke="#B3B3B3" stroke-width="1.3"/>
<text x="1695.6" y="1602.4" fill="#333333" font-size="24" text-anchor="end">500</text>
<line x1="1699" y1="1656.7" x2="1703.2" y2="1656.7" stroke="#B3B3B3" stroke-width="1.3"/>
<text x="1695.6" y="1665.1" fill="#333333" font-size="24" text-anchor="end">400</text>
<line x1="1699" y1="1719.6" x2="1703.2" y2="1719.6" stroke="#B3B3B3" stroke-width="1.3"/>
<text x="1695.6" y="1728" fill="#333333" font-size="24" text-anchor="end">300</text>
<line x1="1699" y1="1781.4" x2="1703.2" y2="1781.4" stroke="#B3B3B3" stroke-width="1.3"/>
<text x="1695.6" y="1789.8" fill="#333333" font-size="24" text-anchor="end">200</text>
<line x1="1699" y1="1844.8" x2="1703.2" y2="1844.8" stroke="#B3B3B3" stroke-width="1.3"/>
<text x="1695.6" y="1853.2" fill="#333333" font-size="24" text-anchor="end">100</text>
<line x1="1767.3" y1="1865.2" x2="1767.3" y2="1869.4" stroke="#B3B3B3" stroke-width="1.3"/>
<text transform="translate(1779.4,1883.2) rotate(-40)" fill="#333333" font-size="24.5" text-anchor="end">0 to 1</text>
<line x1="1874.5" y1="1865.2" x2="1874.5" y2="1869.4" stroke="#B3B3B3" stroke-width="1.3"/>
<text transform="translate(1886.6,1883.2) rotate(-40)" fill="#333333" font-size="24.5" text-anchor="end">2 to 5</text>
<line x1="1981" y1="1865.2" x2="1981" y2="1869.4" stroke="#B3B3B3" stroke-width="1.3"/>
<text transform="translate(1993.1,1883.2) rotate(-40)" fill="#333333" font-size="24.5" text-anchor="end">more than 5</text>
<text x="1703.6" y="1570" fill="#000" font-size="29" letter-spacing="0.12">Volume</text>
<path d="M1767.3 1595.8V1588H1981V1595.8" stroke="#444" stroke-width="1.3" fill="none"/>
<text x="2017" y="1610" fill="#000" font-size="24" text-anchor="end"><tspan font-style="italic">P</tspan>=5.15e-03</text>
<line x1="58.3" y1="1106" x2="58.3" y2="1412.5" stroke="#000" stroke-width="9.6" stroke-linecap="round"/>
<line x1="58.3" y1="1559.7" x2="58.3" y2="1863.8" stroke="#000" stroke-width="9.6" stroke-linecap="round"/>
<text transform="translate(40.8,1334) rotate(-90)" fill="#E0893A" font-size="36.6">Pathogens</text>
<text transform="translate(41.5,1820) rotate(-90)" fill="#5BA4E3" font-size="37">Commensals</text>
<text x="-0.8" y="37.3" fill="#000" font-size="66">a</text>
<text x="-1" y="1117.8" fill="#000" font-size="67">b</text>
<text x="0.4" y="1572.3" fill="#000" font-size="67">c</text>
</svg>
</body></html>
